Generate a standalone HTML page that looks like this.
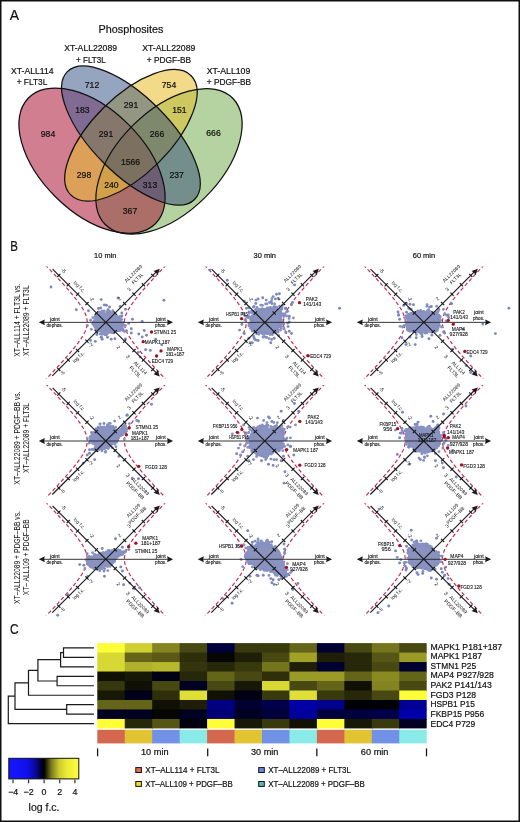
<!DOCTYPE html><html><head><meta charset="utf-8"><style>html,body{margin:0;padding:0;background:#fff;width:520px;height:822px;overflow:hidden}svg{display:block;will-change:transform}</style></head><body><svg width="520" height="822" viewBox="0 0 520 822" font-family='"Liberation Sans", sans-serif'>
<rect x="0" y="0" width="520" height="822" fill="#fff"/>
<defs>
<clipPath id="cA"><ellipse cx="92.02" cy="160.71" rx="89.35" ry="51.39" transform="rotate(44.62 92.02 160.71)"/></clipPath>
<clipPath id="cB"><ellipse cx="130.94" cy="135.54" rx="90.14" ry="38.62" transform="rotate(45.15 130.94 135.54)"/></clipPath>
<clipPath id="cC"><ellipse cx="130.93" cy="135.31" rx="84.73" ry="38.81" transform="rotate(-44.72 130.93 135.31)"/></clipPath>
<clipPath id="cD"><ellipse cx="169.01" cy="161.37" rx="89.75" ry="50.99" transform="rotate(-44.74 169.01 161.37)"/></clipPath>
</defs>
<ellipse cx="92.02" cy="160.71" rx="89.35" ry="51.39" transform="rotate(44.62 92.02 160.71)" fill="#d07e90"/>
<ellipse cx="130.94" cy="135.54" rx="90.14" ry="38.62" transform="rotate(45.15 130.94 135.54)" fill="#95a5c0"/>
<ellipse cx="130.93" cy="135.31" rx="84.73" ry="38.81" transform="rotate(-44.72 130.93 135.31)" fill="#f2da88"/>
<ellipse cx="169.01" cy="161.37" rx="89.75" ry="50.99" transform="rotate(-44.74 169.01 161.37)" fill="#b5d3a0"/>
<g clip-path="url(#cA)"><ellipse cx="130.94" cy="135.54" rx="90.14" ry="38.62" transform="rotate(45.15 130.94 135.54)" fill="#826b92"/></g>
<g clip-path="url(#cA)"><ellipse cx="130.93" cy="135.31" rx="84.73" ry="38.81" transform="rotate(-44.72 130.93 135.31)" fill="#dca058"/></g>
<g clip-path="url(#cA)"><ellipse cx="169.01" cy="161.37" rx="89.75" ry="50.99" transform="rotate(-44.74 169.01 161.37)" fill="#ac6e68"/></g>
<g clip-path="url(#cB)"><ellipse cx="130.93" cy="135.31" rx="84.73" ry="38.81" transform="rotate(-44.72 130.93 135.31)" fill="#949684"/></g>
<g clip-path="url(#cB)"><ellipse cx="169.01" cy="161.37" rx="89.75" ry="50.99" transform="rotate(-44.74 169.01 161.37)" fill="#748e8c"/></g>
<g clip-path="url(#cC)"><ellipse cx="169.01" cy="161.37" rx="89.75" ry="50.99" transform="rotate(-44.74 169.01 161.37)" fill="#cec860"/></g>
<g clip-path="url(#cA)"><g clip-path="url(#cB)"><ellipse cx="130.93" cy="135.31" rx="84.73" ry="38.81" transform="rotate(-44.72 130.93 135.31)" fill="#85776c"/></g></g>
<g clip-path="url(#cA)"><g clip-path="url(#cB)"><ellipse cx="169.01" cy="161.37" rx="89.75" ry="50.99" transform="rotate(-44.74 169.01 161.37)" fill="#6e5e74"/></g></g>
<g clip-path="url(#cA)"><g clip-path="url(#cC)"><ellipse cx="169.01" cy="161.37" rx="89.75" ry="50.99" transform="rotate(-44.74 169.01 161.37)" fill="#d2a048"/></g></g>
<g clip-path="url(#cB)"><g clip-path="url(#cC)"><ellipse cx="169.01" cy="161.37" rx="89.75" ry="50.99" transform="rotate(-44.74 169.01 161.37)" fill="#7e886c"/></g></g>
<g clip-path="url(#cA)"><g clip-path="url(#cB)"><g clip-path="url(#cC)"><ellipse cx="169.01" cy="161.37" rx="89.75" ry="50.99" transform="rotate(-44.74 169.01 161.37)" fill="#7c7060"/></g></g></g>
<ellipse cx="92.02" cy="160.71" rx="89.35" ry="51.39" transform="rotate(44.62 92.02 160.71)" fill="none" stroke="#111" stroke-width="1.25"/>
<ellipse cx="130.94" cy="135.54" rx="90.14" ry="38.62" transform="rotate(45.15 130.94 135.54)" fill="none" stroke="#111" stroke-width="1.25"/>
<ellipse cx="130.93" cy="135.31" rx="84.73" ry="38.81" transform="rotate(-44.72 130.93 135.31)" fill="none" stroke="#111" stroke-width="1.25"/>
<ellipse cx="169.01" cy="161.37" rx="89.75" ry="50.99" transform="rotate(-44.74 169.01 161.37)" fill="none" stroke="#111" stroke-width="1.25"/>
<text x="48.00" y="137.00" font-size="8.6" text-anchor="middle" fill="#111" stroke="#111" stroke-width="0.22">984</text>
<text x="92.00" y="88.00" font-size="8.6" text-anchor="middle" fill="#111" stroke="#111" stroke-width="0.22">712</text>
<text x="169.00" y="88.00" font-size="8.6" text-anchor="middle" fill="#111" stroke="#111" stroke-width="0.22">754</text>
<text x="213.50" y="136.40" font-size="8.6" text-anchor="middle" fill="#111" stroke="#111" stroke-width="0.22">666</text>
<text x="82.40" y="113.40" font-size="8.6" text-anchor="middle" fill="#111" stroke="#111" stroke-width="0.22">183</text>
<text x="131.00" y="108.40" font-size="8.6" text-anchor="middle" fill="#111" stroke="#111" stroke-width="0.22">291</text>
<text x="179.40" y="113.40" font-size="8.6" text-anchor="middle" fill="#111" stroke="#111" stroke-width="0.22">151</text>
<text x="106.00" y="137.00" font-size="8.6" text-anchor="middle" fill="#111" stroke="#111" stroke-width="0.22">291</text>
<text x="157.00" y="137.00" font-size="8.6" text-anchor="middle" fill="#111" stroke="#111" stroke-width="0.22">266</text>
<text x="130.50" y="165.00" font-size="8.6" text-anchor="middle" fill="#111" stroke="#111" stroke-width="0.22">1566</text>
<text x="84.00" y="177.70" font-size="8.6" text-anchor="middle" fill="#111" stroke="#111" stroke-width="0.22">298</text>
<text x="176.70" y="177.70" font-size="8.6" text-anchor="middle" fill="#111" stroke="#111" stroke-width="0.22">237</text>
<text x="111.30" y="187.50" font-size="8.6" text-anchor="middle" fill="#111" stroke="#111" stroke-width="0.22">240</text>
<text x="150.00" y="187.50" font-size="8.6" text-anchor="middle" fill="#111" stroke="#111" stroke-width="0.22">313</text>
<text x="130.00" y="214.00" font-size="8.6" text-anchor="middle" fill="#111" stroke="#111" stroke-width="0.22">367</text>
<text x="130.95" y="32.90" font-size="11.4" text-anchor="middle" textLength="64.9" lengthAdjust="spacingAndGlyphs" fill="#111" stroke="#111" stroke-width="0.2">Phosphosites</text>
<text x="90.60" y="51.40" font-size="9.0" text-anchor="middle" textLength="52.8" lengthAdjust="spacingAndGlyphs" fill="#111" stroke="#111" stroke-width="0.2">XT-ALL22089</text>
<text x="90.90" y="62.90" font-size="9.0" text-anchor="middle" textLength="29.8" lengthAdjust="spacingAndGlyphs" fill="#111" stroke="#111" stroke-width="0.2">+ FLT3L</text>
<text x="32.25" y="74.15" font-size="9.0" text-anchor="middle" textLength="42.6" lengthAdjust="spacingAndGlyphs" fill="#111" stroke="#111" stroke-width="0.2">XT-ALL114</text>
<text x="32.00" y="85.15" font-size="9.0" text-anchor="middle" textLength="30.6" lengthAdjust="spacingAndGlyphs" fill="#111" stroke="#111" stroke-width="0.2">+ FLT3L</text>
<text x="168.75" y="51.40" font-size="9.0" text-anchor="middle" textLength="53.1" lengthAdjust="spacingAndGlyphs" fill="#111" stroke="#111" stroke-width="0.2">XT-ALL22089</text>
<text x="168.90" y="62.90" font-size="9.0" text-anchor="middle" textLength="44.3" lengthAdjust="spacingAndGlyphs" fill="#111" stroke="#111" stroke-width="0.2">+ PDGF-BB</text>
<text x="228.50" y="74.15" font-size="9.0" text-anchor="middle" textLength="43.6" lengthAdjust="spacingAndGlyphs" fill="#111" stroke="#111" stroke-width="0.2">XT-ALL109</text>
<text x="228.90" y="85.15" font-size="9.0" text-anchor="middle" textLength="44.3" lengthAdjust="spacingAndGlyphs" fill="#111" stroke="#111" stroke-width="0.2">+ PDGF-BB</text>
<text x="105.30" y="257.80" font-size="7.9" text-anchor="middle" textLength="22.4" lengthAdjust="spacingAndGlyphs" fill="#111" stroke="#111" stroke-width="0.2">10 min</text>
<text x="264.80" y="257.80" font-size="7.9" text-anchor="middle" textLength="22.4" lengthAdjust="spacingAndGlyphs" fill="#111" stroke="#111" stroke-width="0.2">30 min</text>
<text x="423.95" y="257.80" font-size="7.9" text-anchor="middle" textLength="22.4" lengthAdjust="spacingAndGlyphs" fill="#111" stroke="#111" stroke-width="0.2">60 min</text>
<text x="0" y="0" font-size="8.3" text-anchor="middle" textLength="73.0" lengthAdjust="spacingAndGlyphs" fill="#111" transform="translate(19.7,320.3) rotate(-90)">XT–ALL114 + FLT3L vs.</text>
<text x="0" y="0" font-size="8.3" text-anchor="middle" textLength="70.8" lengthAdjust="spacingAndGlyphs" fill="#111" transform="translate(29.2,320.7) rotate(-90)">XT–ALL22089 + FLT3L</text>
<text x="0" y="0" font-size="8.3" text-anchor="middle" textLength="93.3" lengthAdjust="spacingAndGlyphs" fill="#111" transform="translate(19.7,438.0) rotate(-90)">XT–ALL22089 + PDGF–BB vs.</text>
<text x="0" y="0" font-size="8.3" text-anchor="middle" textLength="70.0" lengthAdjust="spacingAndGlyphs" fill="#111" transform="translate(29.2,437.9) rotate(-90)">XT–ALL22089 + FLT3L</text>
<text x="0" y="0" font-size="8.3" text-anchor="middle" textLength="92.8" lengthAdjust="spacingAndGlyphs" fill="#111" transform="translate(19.7,557.5) rotate(-90)">XT–ALL22089 + PDGF–BB vs.</text>
<text x="0" y="0" font-size="8.3" text-anchor="middle" textLength="75.8" lengthAdjust="spacingAndGlyphs" fill="#111" transform="translate(29.2,557.3) rotate(-90)">XT– ALL109 + PDGF–BB</text>
<clipPath id="pc1"><rect x="39.8" y="266.4" width="134" height="112"/></clipPath>
<g clip-path="url(#pc1)"><path d="M45.27,264.80L46.13,265.70L46.98,266.60L47.83,267.50L48.69,268.40L49.54,269.30L50.39,270.20L51.23,271.10L52.08,272.00L52.92,272.90L53.76,273.80L54.60,274.70L55.44,275.60L56.27,276.50L57.11,277.40L57.94,278.30L58.77,279.20L59.59,280.10L60.41,281.00L61.23,281.90L62.05,282.80L62.86,283.70L63.67,284.60L64.48,285.50L65.28,286.40L66.08,287.30L66.87,288.20L67.66,289.10L68.44,290.00L69.22,290.90L69.99,291.80L70.76,292.70L71.52,293.60L72.27,294.50L73.01,295.40L73.75,296.30L74.48,297.20L75.20,298.10L75.91,299.00L76.61,299.90L77.30,300.80L77.97,301.70L78.63,302.60L79.28,303.50L79.92,304.40L80.53,305.30L81.13,306.20L81.72,307.10L82.28,308.00L82.82,308.90L83.33,309.80L83.83,310.70L84.29,311.60L84.73,312.50L85.14,313.40L85.51,314.30L85.86,315.20L86.16,316.10L86.43,317.00L86.66,317.90L86.85,318.80L87.01,319.70L87.11,320.60L87.18,321.50L87.20,322.40L87.18,323.30L87.11,324.20L87.01,325.10L86.85,326.00L86.66,326.90L86.43,327.80L86.16,328.70L85.86,329.60L85.51,330.50L85.14,331.40L84.73,332.30L84.29,333.20L83.83,334.10L83.33,335.00L82.82,335.90L82.28,336.80L81.72,337.70L81.13,338.60L80.53,339.50L79.92,340.40L79.28,341.30L78.63,342.20L77.97,343.10L77.30,344.00L76.61,344.90L75.91,345.80L75.20,346.70L74.48,347.60L73.75,348.50L73.01,349.40L72.27,350.30L71.52,351.20L70.76,352.10L69.99,353.00L69.22,353.90L68.44,354.80L67.66,355.70L66.87,356.60L66.08,357.50L65.28,358.40L64.48,359.30L63.67,360.20L62.86,361.10L62.05,362.00L61.23,362.90L60.41,363.80L59.59,364.70L58.77,365.60L57.94,366.50L57.11,367.40L56.27,368.30L55.44,369.20L54.60,370.10L53.76,371.00L52.92,371.90L52.08,372.80L51.23,373.70L50.39,374.60L49.54,375.50L48.69,376.40L47.83,377.30L46.98,378.20L46.13,379.10L45.27,380.00" fill="none" stroke="#c62c55" stroke-width="1.2" stroke-dasharray="3.8 2.4"/><path d="M166.33,264.80L165.47,265.70L164.62,266.60L163.77,267.50L162.91,268.40L162.06,269.30L161.21,270.20L160.37,271.10L159.52,272.00L158.68,272.90L157.84,273.80L157.00,274.70L156.16,275.60L155.33,276.50L154.49,277.40L153.66,278.30L152.83,279.20L152.01,280.10L151.19,281.00L150.37,281.90L149.55,282.80L148.74,283.70L147.93,284.60L147.12,285.50L146.32,286.40L145.52,287.30L144.73,288.20L143.94,289.10L143.16,290.00L142.38,290.90L141.61,291.80L140.84,292.70L140.08,293.60L139.33,294.50L138.59,295.40L137.85,296.30L137.12,297.20L136.40,298.10L135.69,299.00L134.99,299.90L134.30,300.80L133.63,301.70L132.97,302.60L132.32,303.50L131.68,304.40L131.07,305.30L130.47,306.20L129.88,307.10L129.32,308.00L128.78,308.90L128.27,309.80L127.77,310.70L127.31,311.60L126.87,312.50L126.46,313.40L126.09,314.30L125.74,315.20L125.44,316.10L125.17,317.00L124.94,317.90L124.75,318.80L124.59,319.70L124.49,320.60L124.42,321.50L124.40,322.40L124.42,323.30L124.49,324.20L124.59,325.10L124.75,326.00L124.94,326.90L125.17,327.80L125.44,328.70L125.74,329.60L126.09,330.50L126.46,331.40L126.87,332.30L127.31,333.20L127.77,334.10L128.27,335.00L128.78,335.90L129.32,336.80L129.88,337.70L130.47,338.60L131.07,339.50L131.68,340.40L132.32,341.30L132.97,342.20L133.63,343.10L134.30,344.00L134.99,344.90L135.69,345.80L136.40,346.70L137.12,347.60L137.85,348.50L138.59,349.40L139.33,350.30L140.08,351.20L140.84,352.10L141.61,353.00L142.38,353.90L143.16,354.80L143.94,355.70L144.73,356.60L145.52,357.50L146.32,358.40L147.12,359.30L147.93,360.20L148.74,361.10L149.55,362.00L150.37,362.90L151.19,363.80L152.01,364.70L152.83,365.60L153.66,366.50L154.49,367.40L155.33,368.30L156.16,369.20L157.00,370.10L157.84,371.00L158.68,371.90L159.52,372.80L160.37,373.70L161.21,374.60L162.06,375.50L162.91,376.40L163.77,377.30L164.62,378.20L165.47,379.10L166.33,380.00" fill="none" stroke="#c62c55" stroke-width="1.2" stroke-dasharray="3.8 2.4"/></g>
<path d="M94.5,320.0L95.0,317.2L96.9,313.8L99.2,311.3L102.7,312.0L104.7,313.5L107.5,313.1L110.4,312.1L113.2,312.9L115.6,314.8L117.0,316.7L119.0,318.1L121.0,320.0L122.1,322.5L122.6,326.3L121.6,329.3L120.1,331.2L117.1,331.5L114.1,332.4L110.3,332.8L107.5,333.8L104.6,335.4L102.7,333.9L100.9,332.0L97.9,331.1L95.9,329.2L95.0,327.3L93.5,324.4L92.9,322.0Z" fill="#8a93c0" stroke="#8a93c0" stroke-width="1.2" stroke-linejoin="round"/>
<g fill="#8a93c0"><circle cx="94.6" cy="319.9" r="1.3"/><circle cx="95.1" cy="316.6" r="1.3"/><circle cx="96.5" cy="316.0" r="1.3"/><circle cx="97.1" cy="313.2" r="1.3"/><circle cx="98.1" cy="312.2" r="1.3"/><circle cx="98.8" cy="312.1" r="1.3"/><circle cx="101.9" cy="310.8" r="1.3"/><circle cx="103.4" cy="312.2" r="1.3"/><circle cx="104.4" cy="313.2" r="1.3"/><circle cx="107.8" cy="313.0" r="1.3"/><circle cx="110.7" cy="312.3" r="1.3"/><circle cx="112.5" cy="313.4" r="1.3"/><circle cx="116.5" cy="315.7" r="1.3"/><circle cx="117.2" cy="315.9" r="1.3"/><circle cx="118.1" cy="317.5" r="1.3"/><circle cx="121.8" cy="319.6" r="1.3"/><circle cx="121.9" cy="323.2" r="1.3"/><circle cx="122.0" cy="324.5" r="1.3"/><circle cx="122.5" cy="325.5" r="1.3"/><circle cx="121.8" cy="329.9" r="1.3"/><circle cx="119.5" cy="330.7" r="1.3"/><circle cx="117.0" cy="330.7" r="1.3"/><circle cx="114.1" cy="333.0" r="1.3"/><circle cx="112.5" cy="332.7" r="1.3"/><circle cx="111.0" cy="332.1" r="1.3"/><circle cx="107.6" cy="333.6" r="1.3"/><circle cx="106.2" cy="333.9" r="1.3"/><circle cx="105.1" cy="334.7" r="1.3"/><circle cx="102.1" cy="334.5" r="1.3"/><circle cx="101.7" cy="331.8" r="1.3"/><circle cx="97.7" cy="330.6" r="1.3"/><circle cx="95.5" cy="329.4" r="1.3"/><circle cx="94.5" cy="326.6" r="1.3"/><circle cx="94.2" cy="325.2" r="1.3"/><circle cx="93.8" cy="325.0" r="1.3"/><circle cx="93.4" cy="322.0" r="1.3"/></g>
<g fill="#8690c0"><circle cx="119.4" cy="317.9" r="1.42"/><circle cx="93.9" cy="321.6" r="1.42"/><circle cx="123.2" cy="322.7" r="1.42"/><circle cx="114.1" cy="313.2" r="1.42"/><circle cx="121.3" cy="328.5" r="1.42"/><circle cx="121.0" cy="322.2" r="1.42"/><circle cx="125.3" cy="325.3" r="1.42"/><circle cx="118.6" cy="319.5" r="1.42"/><circle cx="124.5" cy="331.6" r="1.42"/><circle cx="121.8" cy="316.1" r="1.42"/><circle cx="106.4" cy="334.8" r="1.42"/><circle cx="95.6" cy="314.9" r="1.42"/><circle cx="120.6" cy="329.8" r="1.42"/><circle cx="112.8" cy="310.7" r="1.42"/><circle cx="97.1" cy="328.3" r="1.42"/><circle cx="123.0" cy="329.3" r="1.42"/><circle cx="120.0" cy="319.1" r="1.42"/><circle cx="101.4" cy="337.3" r="1.42"/><circle cx="100.2" cy="334.0" r="1.42"/><circle cx="108.5" cy="313.1" r="1.42"/><circle cx="108.5" cy="313.1" r="1.42"/><circle cx="106.9" cy="311.9" r="1.42"/><circle cx="113.5" cy="314.0" r="1.42"/><circle cx="122.4" cy="328.1" r="1.42"/><circle cx="121.5" cy="329.0" r="1.42"/><circle cx="93.2" cy="323.7" r="1.42"/><circle cx="91.3" cy="329.3" r="1.42"/><circle cx="122.5" cy="325.8" r="1.42"/><circle cx="92.9" cy="317.7" r="1.42"/><circle cx="118.5" cy="318.0" r="1.42"/><circle cx="96.0" cy="326.5" r="1.42"/><circle cx="122.8" cy="324.2" r="1.42"/><circle cx="92.7" cy="323.7" r="1.42"/><circle cx="109.8" cy="311.3" r="1.42"/><circle cx="119.9" cy="316.5" r="1.42"/><circle cx="121.1" cy="319.0" r="1.42"/><circle cx="104.2" cy="310.9" r="1.42"/><circle cx="97.5" cy="331.3" r="1.42"/><circle cx="111.4" cy="332.0" r="1.42"/><circle cx="123.0" cy="330.5" r="1.42"/></g>
<g fill="#7c87bd"><circle cx="51.0" cy="287.0" r="1.45"/><circle cx="76.3" cy="309.7" r="1.45"/><circle cx="101.2" cy="299.6" r="1.45"/><circle cx="104.3" cy="304.9" r="1.45"/><circle cx="106.4" cy="305.3" r="1.45"/><circle cx="109.6" cy="307.0" r="1.45"/><circle cx="108.0" cy="309.7" r="1.45"/><circle cx="88.5" cy="310.7" r="1.45"/><circle cx="90.6" cy="320.3" r="1.45"/><circle cx="87.4" cy="325.6" r="1.45"/><circle cx="120.2" cy="306.5" r="1.45"/><circle cx="125.5" cy="309.2" r="1.45"/><circle cx="121.8" cy="312.9" r="1.45"/><circle cx="121.8" cy="316.0" r="1.45"/><circle cx="132.4" cy="319.2" r="1.45"/><circle cx="128.7" cy="323.4" r="1.45"/><circle cx="131.3" cy="328.7" r="1.45"/><circle cx="131.3" cy="333.0" r="1.45"/><circle cx="126.5" cy="330.8" r="1.45"/><circle cx="96.9" cy="334.5" r="1.45"/><circle cx="101.2" cy="337.2" r="1.45"/><circle cx="102.2" cy="339.3" r="1.45"/><circle cx="95.3" cy="341.4" r="1.45"/><circle cx="90.6" cy="340.4" r="1.45"/><circle cx="111.2" cy="339.3" r="1.45"/><circle cx="114.9" cy="338.8" r="1.45"/><circle cx="107.5" cy="337.2" r="1.45"/><circle cx="163.9" cy="300.2" r="1.45"/><circle cx="118.0" cy="298.0" r="1.45"/><circle cx="142.2" cy="321.4" r="1.45"/><circle cx="144.2" cy="330.5" r="1.45"/><circle cx="138.8" cy="334.0" r="1.45"/><circle cx="142.2" cy="336.9" r="1.45"/><circle cx="146.5" cy="335.2" r="1.45"/><circle cx="155.7" cy="339.3" r="1.45"/><circle cx="161.7" cy="344.7" r="1.45"/><circle cx="145.6" cy="349.7" r="1.45"/><circle cx="150.3" cy="350.4" r="1.45"/><circle cx="138.2" cy="352.4" r="1.45"/><circle cx="140.2" cy="357.1" r="1.45"/><circle cx="125.4" cy="338.9" r="1.45"/><circle cx="98.5" cy="308.5" r="1.45"/><circle cx="100.5" cy="308.0" r="1.45"/></g>
<g stroke="#1a1a1a" stroke-width="1.15" fill="none">
<line x1="43.8" y1="322.35" x2="168.3" y2="322.35" stroke-width="0.95" stroke="#2a2a2a"/>
<line x1="52.3" y1="375.9" x2="156.3" y2="271.9"/>
<line x1="52.599999999999994" y1="269.2" x2="156.3" y2="372.9"/>
<path d="M113.61,311.41L116.79,314.59M94.81,330.21L97.99,333.39M113.61,333.39L116.79,330.21M94.81,314.59L97.99,311.41M123.01,302.01L126.19,305.19M85.41,339.61L88.59,342.79M123.01,342.79L126.19,339.61M85.41,305.19L88.59,302.01M132.41,292.61L135.59,295.79M76.01,349.01L79.19,352.19M132.41,352.19L135.59,349.01M76.01,295.79L79.19,292.61M141.81,283.21L144.99,286.39M66.61,358.41L69.79,361.59M141.81,361.59L144.99,358.41M66.61,286.39L69.79,283.21M151.21,273.81L154.39,276.99M57.21,367.81L60.39,370.99M151.21,370.99L154.39,367.81M57.21,276.99L60.39,273.81"/>
</g>
<path d="M38.80,322.35L44.80,319.40L44.20,322.35L44.80,325.30Z" fill="#1a1a1a"/>
<path d="M173.10,322.35L167.10,325.30L167.70,322.35L167.10,319.40Z" fill="#1a1a1a"/>
<path d="M159.80,268.80L157.64,275.13L155.98,272.62L153.47,270.96Z" fill="#1a1a1a"/>
<path d="M159.80,376.40L153.47,374.24L155.98,372.58L157.64,370.07Z" fill="#1a1a1a"/>
<text x="54.80" y="320.70" font-size="5.0" text-anchor="middle" textLength="9.6" lengthAdjust="spacingAndGlyphs" fill="#151515" stroke="#151515" stroke-width="0.12">joint</text>
<text x="54.70" y="326.90" font-size="5.0" text-anchor="middle" textLength="16.4" lengthAdjust="spacingAndGlyphs" fill="#151515" stroke="#151515" stroke-width="0.12">dephos.</text>
<text x="160.80" y="320.70" font-size="5.0" text-anchor="middle" textLength="9.6" lengthAdjust="spacingAndGlyphs" fill="#151515" stroke="#151515" stroke-width="0.12">joint</text>
<text x="160.80" y="326.90" font-size="5.0" text-anchor="middle" textLength="11.4" lengthAdjust="spacingAndGlyphs" fill="#151515" stroke="#151515" stroke-width="0.12">phos.</text>
<text x="0" y="0" font-size="5.0" text-anchor="middle" fill="#151515" transform="translate(90.51,300.10) rotate(45)">-2</text>
<text x="0" y="0" font-size="5.0" text-anchor="middle" textLength="14.0" lengthAdjust="spacingAndGlyphs" fill="#151515" transform="translate(78.29,287.89) rotate(45)">log f.c.</text>
<text x="0" y="0" font-size="5.0" text-anchor="middle" fill="#151515" transform="translate(62.31,271.91) rotate(45)">-5</text>
<text x="0" y="0" font-size="5.0" text-anchor="middle" fill="#151515" transform="translate(91.92,346.11) rotate(-45)">-2</text>
<text x="0" y="0" font-size="5.0" text-anchor="middle" textLength="14.0" lengthAdjust="spacingAndGlyphs" fill="#151515" transform="translate(79.70,358.33) rotate(-45)">log f.c.</text>
<text x="0" y="0" font-size="5.0" text-anchor="middle" fill="#151515" transform="translate(63.73,374.30) rotate(-45)">-5</text>
<text x="0" y="0" font-size="5.0" text-anchor="middle" fill="#151515" transform="translate(120.81,299.82) rotate(-45)">2</text>
<text x="0" y="0" font-size="5.0" text-anchor="middle" fill="#151515" transform="translate(130.21,290.42) rotate(-45)">3</text>
<text x="0" y="0" font-size="5.0" text-anchor="middle" fill="#151515" transform="translate(117.35,348.44) rotate(45)">2</text>
<text x="0" y="0" font-size="5.0" text-anchor="middle" fill="#151515" transform="translate(126.74,357.84) rotate(45)">3</text>
<text x="0" y="0" font-size="5.0" text-anchor="middle" fill="#151515" transform="translate(134.54,274.78) rotate(-45)">ALL22089</text>
<text x="0" y="0" font-size="5.0" text-anchor="middle" fill="#151515" transform="translate(138.65,279.73) rotate(-45)">FLT3L</text>
<text x="0" y="0" font-size="5.0" text-anchor="middle" fill="#151515" transform="translate(139.14,369.10) rotate(45)">ALL114</text>
<text x="0" y="0" font-size="5.0" text-anchor="middle" fill="#151515" transform="translate(134.05,373.06) rotate(45)">FLT3L</text>
<circle cx="151.5" cy="332.0" r="1.65" fill="#a01020"/>
<circle cx="143.2" cy="341.7" r="1.65" fill="#a01020"/>
<circle cx="161.0" cy="350.9" r="1.65" fill="#a01020"/>
<circle cx="156.6" cy="356.0" r="1.65" fill="#a01020"/>
<text x="153.75" y="333.80" font-size="5.2" textLength="22.3" lengthAdjust="spacingAndGlyphs" fill="#151515" stroke="#151515" stroke-width="0.12">STMN1 25</text>
<text x="144.85" y="343.50" font-size="5.2" textLength="25.1" lengthAdjust="spacingAndGlyphs" fill="#151515" stroke="#151515" stroke-width="0.12">MAPK1 187</text>
<text x="167.25" y="350.90" font-size="5.2" textLength="15.3" lengthAdjust="spacingAndGlyphs" fill="#151515" stroke="#151515" stroke-width="0.12">MAPK1</text>
<text x="165.75" y="356.30" font-size="5.2" textLength="18.6" lengthAdjust="spacingAndGlyphs" fill="#151515" stroke="#151515" stroke-width="0.12">181+187</text>
<text x="151.75" y="362.70" font-size="5.2" textLength="21.3" lengthAdjust="spacingAndGlyphs" fill="#151515" stroke="#151515" stroke-width="0.12">EDC4 729</text>
<clipPath id="pc2"><rect x="198.8" y="266.4" width="134" height="112"/></clipPath>
<g clip-path="url(#pc2)"><path d="M204.27,264.80L205.13,265.70L205.98,266.60L206.83,267.50L207.69,268.40L208.54,269.30L209.39,270.20L210.23,271.10L211.08,272.00L211.92,272.90L212.76,273.80L213.60,274.70L214.44,275.60L215.27,276.50L216.11,277.40L216.94,278.30L217.77,279.20L218.59,280.10L219.41,281.00L220.23,281.90L221.05,282.80L221.86,283.70L222.67,284.60L223.48,285.50L224.28,286.40L225.08,287.30L225.87,288.20L226.66,289.10L227.44,290.00L228.22,290.90L228.99,291.80L229.76,292.70L230.52,293.60L231.27,294.50L232.01,295.40L232.75,296.30L233.48,297.20L234.20,298.10L234.91,299.00L235.61,299.90L236.30,300.80L236.97,301.70L237.63,302.60L238.28,303.50L238.92,304.40L239.53,305.30L240.13,306.20L240.72,307.10L241.28,308.00L241.82,308.90L242.33,309.80L242.83,310.70L243.29,311.60L243.73,312.50L244.14,313.40L244.51,314.30L244.86,315.20L245.16,316.10L245.43,317.00L245.66,317.90L245.85,318.80L246.01,319.70L246.11,320.60L246.18,321.50L246.20,322.40L246.18,323.30L246.11,324.20L246.01,325.10L245.85,326.00L245.66,326.90L245.43,327.80L245.16,328.70L244.86,329.60L244.51,330.50L244.14,331.40L243.73,332.30L243.29,333.20L242.83,334.10L242.33,335.00L241.82,335.90L241.28,336.80L240.72,337.70L240.13,338.60L239.53,339.50L238.92,340.40L238.28,341.30L237.63,342.20L236.97,343.10L236.30,344.00L235.61,344.90L234.91,345.80L234.20,346.70L233.48,347.60L232.75,348.50L232.01,349.40L231.27,350.30L230.52,351.20L229.76,352.10L228.99,353.00L228.22,353.90L227.44,354.80L226.66,355.70L225.87,356.60L225.08,357.50L224.28,358.40L223.48,359.30L222.67,360.20L221.86,361.10L221.05,362.00L220.23,362.90L219.41,363.80L218.59,364.70L217.77,365.60L216.94,366.50L216.11,367.40L215.27,368.30L214.44,369.20L213.60,370.10L212.76,371.00L211.92,371.90L211.08,372.80L210.23,373.70L209.39,374.60L208.54,375.50L207.69,376.40L206.83,377.30L205.98,378.20L205.13,379.10L204.27,380.00" fill="none" stroke="#c62c55" stroke-width="1.2" stroke-dasharray="3.8 2.4"/><path d="M325.33,264.80L324.47,265.70L323.62,266.60L322.77,267.50L321.91,268.40L321.06,269.30L320.21,270.20L319.37,271.10L318.52,272.00L317.68,272.90L316.84,273.80L316.00,274.70L315.16,275.60L314.33,276.50L313.49,277.40L312.66,278.30L311.83,279.20L311.01,280.10L310.19,281.00L309.37,281.90L308.55,282.80L307.74,283.70L306.93,284.60L306.12,285.50L305.32,286.40L304.52,287.30L303.73,288.20L302.94,289.10L302.16,290.00L301.38,290.90L300.61,291.80L299.84,292.70L299.08,293.60L298.33,294.50L297.59,295.40L296.85,296.30L296.12,297.20L295.40,298.10L294.69,299.00L293.99,299.90L293.30,300.80L292.63,301.70L291.97,302.60L291.32,303.50L290.68,304.40L290.07,305.30L289.47,306.20L288.88,307.10L288.32,308.00L287.78,308.90L287.27,309.80L286.77,310.70L286.31,311.60L285.87,312.50L285.46,313.40L285.09,314.30L284.74,315.20L284.44,316.10L284.17,317.00L283.94,317.90L283.75,318.80L283.59,319.70L283.49,320.60L283.42,321.50L283.40,322.40L283.42,323.30L283.49,324.20L283.59,325.10L283.75,326.00L283.94,326.90L284.17,327.80L284.44,328.70L284.74,329.60L285.09,330.50L285.46,331.40L285.87,332.30L286.31,333.20L286.77,334.10L287.27,335.00L287.78,335.90L288.32,336.80L288.88,337.70L289.47,338.60L290.07,339.50L290.68,340.40L291.32,341.30L291.97,342.20L292.63,343.10L293.30,344.00L293.99,344.90L294.69,345.80L295.40,346.70L296.12,347.60L296.85,348.50L297.59,349.40L298.33,350.30L299.08,351.20L299.84,352.10L300.61,353.00L301.38,353.90L302.16,354.80L302.94,355.70L303.73,356.60L304.52,357.50L305.32,358.40L306.12,359.30L306.93,360.20L307.74,361.10L308.55,362.00L309.37,362.90L310.19,363.80L311.01,364.70L311.83,365.60L312.66,366.50L313.49,367.40L314.33,368.30L315.16,369.20L316.00,370.10L316.84,371.00L317.68,371.90L318.52,372.80L319.37,373.70L320.21,374.60L321.06,375.50L321.91,376.40L322.77,377.30L323.62,378.20L324.47,379.10L325.33,380.00" fill="none" stroke="#c62c55" stroke-width="1.2" stroke-dasharray="3.8 2.4"/></g>
<path d="M253.2,316.3L255.0,312.6L259.8,310.9L262.5,308.8L267.1,308.5L271.8,308.8L275.5,310.8L278.3,313.4L280.3,316.2L280.6,320.0L280.2,323.7L279.2,327.4L276.3,330.2L272.7,332.0L268.1,333.3L264.3,333.8L259.8,332.9L256.0,331.1L253.1,328.4L251.3,324.7L251.3,320.8Z" fill="#8a93c0" stroke="#8a93c0" stroke-width="1.2" stroke-linejoin="round"/>
<g fill="#8a93c0"><circle cx="253.3" cy="316.8" r="1.3"/><circle cx="255.0" cy="314.0" r="1.3"/><circle cx="255.5" cy="312.9" r="1.3"/><circle cx="256.9" cy="311.3" r="1.3"/><circle cx="257.4" cy="311.2" r="1.3"/><circle cx="260.3" cy="310.4" r="1.3"/><circle cx="261.2" cy="309.5" r="1.3"/><circle cx="263.1" cy="309.6" r="1.3"/><circle cx="264.6" cy="309.6" r="1.3"/><circle cx="266.3" cy="309.1" r="1.3"/><circle cx="270.1" cy="308.0" r="1.3"/><circle cx="272.2" cy="308.9" r="1.3"/><circle cx="274.5" cy="309.3" r="1.3"/><circle cx="275.6" cy="311.5" r="1.3"/><circle cx="277.2" cy="311.8" r="1.3"/><circle cx="277.6" cy="314.2" r="1.3"/><circle cx="279.2" cy="315.7" r="1.3"/><circle cx="279.6" cy="316.8" r="1.3"/><circle cx="281.0" cy="318.9" r="1.3"/><circle cx="279.7" cy="319.8" r="1.3"/><circle cx="279.6" cy="322.3" r="1.3"/><circle cx="280.0" cy="324.5" r="1.3"/><circle cx="279.5" cy="326.0" r="1.3"/><circle cx="279.9" cy="327.0" r="1.3"/><circle cx="277.9" cy="329.6" r="1.3"/><circle cx="276.4" cy="330.0" r="1.3"/><circle cx="274.1" cy="331.6" r="1.3"/><circle cx="272.1" cy="332.2" r="1.3"/><circle cx="270.5" cy="332.7" r="1.3"/><circle cx="267.5" cy="333.6" r="1.3"/><circle cx="267.0" cy="333.2" r="1.3"/><circle cx="264.0" cy="334.6" r="1.3"/><circle cx="262.2" cy="332.9" r="1.3"/><circle cx="258.9" cy="333.3" r="1.3"/><circle cx="257.6" cy="331.9" r="1.3"/><circle cx="255.6" cy="331.3" r="1.3"/><circle cx="255.0" cy="329.4" r="1.3"/><circle cx="252.4" cy="329.3" r="1.3"/><circle cx="252.9" cy="325.7" r="1.3"/><circle cx="251.4" cy="325.0" r="1.3"/><circle cx="251.1" cy="323.2" r="1.3"/><circle cx="252.1" cy="321.0" r="1.3"/><circle cx="251.7" cy="318.8" r="1.3"/><circle cx="252.1" cy="317.1" r="1.3"/></g>
<g fill="#8690c0"><circle cx="267.6" cy="308.8" r="1.42"/><circle cx="279.7" cy="325.6" r="1.42"/><circle cx="282.7" cy="322.6" r="1.42"/><circle cx="255.9" cy="300.1" r="1.42"/><circle cx="253.0" cy="327.9" r="1.42"/><circle cx="273.1" cy="331.9" r="1.42"/><circle cx="260.7" cy="305.1" r="1.42"/><circle cx="280.9" cy="312.3" r="1.42"/><circle cx="254.0" cy="337.4" r="1.42"/><circle cx="254.4" cy="331.7" r="1.42"/><circle cx="277.0" cy="311.2" r="1.42"/><circle cx="256.3" cy="340.2" r="1.42"/><circle cx="274.1" cy="308.8" r="1.42"/><circle cx="261.5" cy="332.7" r="1.42"/><circle cx="266.0" cy="333.2" r="1.42"/><circle cx="252.9" cy="315.9" r="1.42"/><circle cx="266.9" cy="303.8" r="1.42"/><circle cx="279.2" cy="315.4" r="1.42"/><circle cx="259.9" cy="311.3" r="1.42"/><circle cx="280.3" cy="330.2" r="1.42"/><circle cx="274.8" cy="332.3" r="1.42"/><circle cx="254.0" cy="306.5" r="1.42"/><circle cx="269.7" cy="308.1" r="1.42"/><circle cx="263.6" cy="309.7" r="1.42"/><circle cx="263.6" cy="334.0" r="1.42"/><circle cx="270.5" cy="310.0" r="1.42"/><circle cx="253.6" cy="336.1" r="1.42"/><circle cx="252.4" cy="327.3" r="1.42"/><circle cx="273.2" cy="331.4" r="1.42"/><circle cx="280.1" cy="314.9" r="1.42"/><circle cx="268.0" cy="307.9" r="1.42"/><circle cx="253.1" cy="312.8" r="1.42"/><circle cx="259.3" cy="331.2" r="1.42"/><circle cx="279.7" cy="326.9" r="1.42"/><circle cx="286.6" cy="316.0" r="1.42"/><circle cx="271.5" cy="301.1" r="1.42"/><circle cx="248.2" cy="315.6" r="1.42"/><circle cx="277.1" cy="329.6" r="1.42"/><circle cx="274.8" cy="333.1" r="1.42"/><circle cx="251.8" cy="326.2" r="1.42"/><circle cx="251.7" cy="324.6" r="1.42"/><circle cx="271.4" cy="333.0" r="1.42"/><circle cx="277.6" cy="309.6" r="1.42"/><circle cx="276.8" cy="310.9" r="1.42"/><circle cx="264.6" cy="333.1" r="1.42"/><circle cx="276.1" cy="331.9" r="1.42"/><circle cx="279.0" cy="313.3" r="1.42"/><circle cx="254.3" cy="314.1" r="1.42"/><circle cx="273.0" cy="308.9" r="1.42"/><circle cx="267.2" cy="308.1" r="1.42"/><circle cx="282.8" cy="323.8" r="1.42"/><circle cx="258.3" cy="333.0" r="1.42"/><circle cx="252.6" cy="330.8" r="1.42"/><circle cx="287.8" cy="323.3" r="1.42"/><circle cx="262.4" cy="308.8" r="1.42"/><circle cx="262.8" cy="334.1" r="1.42"/><circle cx="277.3" cy="328.9" r="1.42"/><circle cx="258.7" cy="310.6" r="1.42"/><circle cx="270.5" cy="307.4" r="1.42"/><circle cx="282.8" cy="314.9" r="1.42"/><circle cx="280.7" cy="312.7" r="1.42"/><circle cx="253.6" cy="313.5" r="1.42"/><circle cx="280.0" cy="326.4" r="1.42"/><circle cx="263.0" cy="337.1" r="1.42"/><circle cx="252.8" cy="325.6" r="1.42"/><circle cx="257.0" cy="307.4" r="1.42"/><circle cx="283.8" cy="323.8" r="1.42"/><circle cx="257.4" cy="311.5" r="1.42"/><circle cx="251.2" cy="327.4" r="1.42"/><circle cx="284.9" cy="314.0" r="1.42"/><circle cx="281.6" cy="309.2" r="1.42"/><circle cx="266.7" cy="337.5" r="1.42"/><circle cx="264.4" cy="309.3" r="1.42"/><circle cx="276.5" cy="330.3" r="1.42"/><circle cx="252.2" cy="316.0" r="1.42"/><circle cx="281.3" cy="328.4" r="1.42"/><circle cx="251.1" cy="325.8" r="1.42"/><circle cx="263.7" cy="332.6" r="1.42"/><circle cx="258.8" cy="334.3" r="1.42"/><circle cx="274.3" cy="306.8" r="1.42"/><circle cx="276.3" cy="311.6" r="1.42"/><circle cx="271.9" cy="298.7" r="1.42"/><circle cx="265.8" cy="332.9" r="1.42"/><circle cx="262.5" cy="305.4" r="1.42"/><circle cx="258.4" cy="333.6" r="1.42"/><circle cx="258.9" cy="332.6" r="1.42"/><circle cx="276.3" cy="310.7" r="1.42"/><circle cx="249.1" cy="326.0" r="1.42"/><circle cx="251.3" cy="318.5" r="1.42"/><circle cx="255.0" cy="313.4" r="1.42"/><circle cx="273.4" cy="331.8" r="1.42"/><circle cx="279.5" cy="306.1" r="1.42"/><circle cx="287.7" cy="311.3" r="1.42"/><circle cx="272.3" cy="334.7" r="1.42"/><circle cx="279.9" cy="322.3" r="1.42"/><circle cx="258.1" cy="330.4" r="1.42"/><circle cx="280.0" cy="322.8" r="1.42"/><circle cx="261.7" cy="308.8" r="1.42"/><circle cx="284.1" cy="329.0" r="1.42"/><circle cx="280.5" cy="310.2" r="1.42"/><circle cx="253.6" cy="327.7" r="1.42"/><circle cx="252.1" cy="326.9" r="1.42"/><circle cx="268.2" cy="333.4" r="1.42"/><circle cx="263.4" cy="333.7" r="1.42"/><circle cx="273.8" cy="307.5" r="1.42"/><circle cx="258.2" cy="312.3" r="1.42"/><circle cx="283.8" cy="316.6" r="1.42"/><circle cx="251.6" cy="312.5" r="1.42"/><circle cx="277.9" cy="332.2" r="1.42"/><circle cx="251.9" cy="321.8" r="1.42"/><circle cx="255.3" cy="329.1" r="1.42"/><circle cx="251.7" cy="311.1" r="1.42"/><circle cx="269.2" cy="338.6" r="1.42"/><circle cx="251.4" cy="324.1" r="1.42"/><circle cx="252.4" cy="329.1" r="1.42"/><circle cx="250.5" cy="328.4" r="1.42"/><circle cx="252.1" cy="330.9" r="1.42"/><circle cx="275.4" cy="307.0" r="1.42"/><circle cx="272.7" cy="308.8" r="1.42"/><circle cx="280.5" cy="322.7" r="1.42"/><circle cx="265.1" cy="337.0" r="1.42"/><circle cx="281.6" cy="326.3" r="1.42"/><circle cx="279.9" cy="309.2" r="1.42"/><circle cx="251.8" cy="322.1" r="1.42"/><circle cx="249.1" cy="325.2" r="1.42"/><circle cx="282.4" cy="305.5" r="1.42"/><circle cx="270.7" cy="308.7" r="1.42"/><circle cx="281.1" cy="323.3" r="1.42"/><circle cx="252.3" cy="327.8" r="1.42"/><circle cx="293.4" cy="318.0" r="1.42"/><circle cx="249.0" cy="323.9" r="1.42"/><circle cx="279.8" cy="309.6" r="1.42"/><circle cx="281.1" cy="322.0" r="1.42"/><circle cx="273.8" cy="307.0" r="1.42"/><circle cx="281.1" cy="313.9" r="1.42"/><circle cx="285.4" cy="308.7" r="1.42"/><circle cx="256.6" cy="333.8" r="1.42"/><circle cx="271.0" cy="309.9" r="1.42"/><circle cx="277.8" cy="329.6" r="1.42"/><circle cx="281.0" cy="316.7" r="1.42"/><circle cx="280.4" cy="323.8" r="1.42"/><circle cx="271.7" cy="339.5" r="1.42"/><circle cx="270.2" cy="334.6" r="1.42"/><circle cx="279.9" cy="320.2" r="1.42"/><circle cx="248.8" cy="308.0" r="1.42"/><circle cx="258.7" cy="309.2" r="1.42"/><circle cx="250.3" cy="322.9" r="1.42"/><circle cx="253.4" cy="311.4" r="1.42"/><circle cx="276.7" cy="309.6" r="1.42"/><circle cx="262.4" cy="333.6" r="1.42"/><circle cx="270.0" cy="334.1" r="1.42"/><circle cx="280.6" cy="315.8" r="1.42"/><circle cx="249.7" cy="316.8" r="1.42"/><circle cx="278.8" cy="314.8" r="1.42"/><circle cx="265.6" cy="303.9" r="1.42"/><circle cx="248.3" cy="317.5" r="1.42"/><circle cx="282.1" cy="308.0" r="1.42"/><circle cx="276.7" cy="307.2" r="1.42"/><circle cx="255.6" cy="309.5" r="1.42"/><circle cx="250.5" cy="319.5" r="1.42"/><circle cx="283.5" cy="313.8" r="1.42"/><circle cx="289.1" cy="318.5" r="1.42"/><circle cx="274.6" cy="304.0" r="1.42"/><circle cx="280.7" cy="315.7" r="1.42"/><circle cx="253.1" cy="319.4" r="1.42"/><circle cx="278.7" cy="311.2" r="1.42"/><circle cx="249.2" cy="313.0" r="1.42"/><circle cx="254.2" cy="313.3" r="1.42"/><circle cx="281.5" cy="319.9" r="1.42"/><circle cx="273.9" cy="331.6" r="1.42"/></g>
<g fill="#7c87bd"><circle cx="244.2" cy="301.2" r="1.45"/><circle cx="246.5" cy="308.2" r="1.45"/><circle cx="243.1" cy="313.9" r="1.45"/><circle cx="245.4" cy="316.2" r="1.45"/><circle cx="247.7" cy="317.4" r="1.45"/><circle cx="241.9" cy="324.3" r="1.45"/><circle cx="239.6" cy="330.1" r="1.45"/><circle cx="244.2" cy="333.5" r="1.45"/><circle cx="248.8" cy="338.2" r="1.45"/><circle cx="252.3" cy="342.8" r="1.45"/><circle cx="258.1" cy="340.5" r="1.45"/><circle cx="254.6" cy="339.3" r="1.45"/><circle cx="270.8" cy="342.8" r="1.45"/><circle cx="274.2" cy="338.2" r="1.45"/><circle cx="278.8" cy="335.8" r="1.45"/><circle cx="285.8" cy="332.4" r="1.45"/><circle cx="289.2" cy="331.2" r="1.45"/><circle cx="291.5" cy="333.5" r="1.45"/><circle cx="288.1" cy="326.6" r="1.45"/><circle cx="289.2" cy="322.0" r="1.45"/><circle cx="289.2" cy="316.2" r="1.45"/><circle cx="286.9" cy="311.6" r="1.45"/><circle cx="285.8" cy="308.2" r="1.45"/><circle cx="291.5" cy="304.7" r="1.45"/><circle cx="292.7" cy="302.4" r="1.45"/><circle cx="278.8" cy="298.9" r="1.45"/><circle cx="275.4" cy="298.9" r="1.45"/><circle cx="273.1" cy="296.6" r="1.45"/><circle cx="276.5" cy="294.3" r="1.45"/><circle cx="279.4" cy="293.7" r="1.45"/><circle cx="262.7" cy="297.8" r="1.45"/><circle cx="266.2" cy="300.1" r="1.45"/><circle cx="258.1" cy="298.9" r="1.45"/><circle cx="255.8" cy="303.5" r="1.45"/><circle cx="253.5" cy="307.0" r="1.45"/><circle cx="269.6" cy="302.4" r="1.45"/><circle cx="271.9" cy="303.5" r="1.45"/><circle cx="209.8" cy="270.1" r="1.45"/><circle cx="227.3" cy="280.3" r="1.45"/><circle cx="294.6" cy="284.9" r="1.45"/><circle cx="339.6" cy="308.2" r="1.45"/><circle cx="308.6" cy="355.9" r="1.45"/><circle cx="250.2" cy="342.8" r="1.45"/><circle cx="245.0" cy="320.0" r="1.45"/><circle cx="249.0" cy="312.0" r="1.45"/></g>
<g stroke="#1a1a1a" stroke-width="1.15" fill="none">
<line x1="202.8" y1="322.35" x2="327.3" y2="322.35" stroke-width="0.95" stroke="#2a2a2a"/>
<line x1="211.3" y1="375.9" x2="315.3" y2="271.9"/>
<line x1="211.60000000000002" y1="269.2" x2="315.3" y2="372.9"/>
<path d="M272.61,311.41L275.79,314.59M253.81,330.21L256.99,333.39M272.61,333.39L275.79,330.21M253.81,314.59L256.99,311.41M282.01,302.01L285.19,305.19M244.41,339.61L247.59,342.79M282.01,342.79L285.19,339.61M244.41,305.19L247.59,302.01M291.41,292.61L294.59,295.79M235.01,349.01L238.19,352.19M291.41,352.19L294.59,349.01M235.01,295.79L238.19,292.61M300.81,283.21L303.99,286.39M225.61,358.41L228.79,361.59M300.81,361.59L303.99,358.41M225.61,286.39L228.79,283.21M310.21,273.81L313.39,276.99M216.21,367.81L219.39,370.99M310.21,370.99L313.39,367.81M216.21,276.99L219.39,273.81"/>
</g>
<path d="M197.80,322.35L203.80,319.40L203.20,322.35L203.80,325.30Z" fill="#1a1a1a"/>
<path d="M332.10,322.35L326.10,325.30L326.70,322.35L326.10,319.40Z" fill="#1a1a1a"/>
<path d="M318.80,268.80L316.64,275.13L314.98,272.62L312.47,270.96Z" fill="#1a1a1a"/>
<path d="M318.80,376.40L312.47,374.24L314.98,372.58L316.64,370.07Z" fill="#1a1a1a"/>
<text x="213.80" y="320.70" font-size="5.0" text-anchor="middle" textLength="9.6" lengthAdjust="spacingAndGlyphs" fill="#151515" stroke="#151515" stroke-width="0.12">joint</text>
<text x="213.70" y="326.90" font-size="5.0" text-anchor="middle" textLength="16.4" lengthAdjust="spacingAndGlyphs" fill="#151515" stroke="#151515" stroke-width="0.12">dephos.</text>
<text x="319.80" y="320.70" font-size="5.0" text-anchor="middle" textLength="9.6" lengthAdjust="spacingAndGlyphs" fill="#151515" stroke="#151515" stroke-width="0.12">joint</text>
<text x="319.80" y="326.90" font-size="5.0" text-anchor="middle" textLength="11.4" lengthAdjust="spacingAndGlyphs" fill="#151515" stroke="#151515" stroke-width="0.12">phos.</text>
<text x="0" y="0" font-size="5.0" text-anchor="middle" fill="#151515" transform="translate(249.51,300.10) rotate(45)">-2</text>
<text x="0" y="0" font-size="5.0" text-anchor="middle" textLength="14.0" lengthAdjust="spacingAndGlyphs" fill="#151515" transform="translate(237.29,287.89) rotate(45)">log f.c.</text>
<text x="0" y="0" font-size="5.0" text-anchor="middle" fill="#151515" transform="translate(221.31,271.91) rotate(45)">-5</text>
<text x="0" y="0" font-size="5.0" text-anchor="middle" fill="#151515" transform="translate(250.92,346.11) rotate(-45)">-2</text>
<text x="0" y="0" font-size="5.0" text-anchor="middle" textLength="14.0" lengthAdjust="spacingAndGlyphs" fill="#151515" transform="translate(238.70,358.33) rotate(-45)">log f.c.</text>
<text x="0" y="0" font-size="5.0" text-anchor="middle" fill="#151515" transform="translate(222.73,374.30) rotate(-45)">-5</text>
<text x="0" y="0" font-size="5.0" text-anchor="middle" fill="#151515" transform="translate(279.81,299.82) rotate(-45)">2</text>
<text x="0" y="0" font-size="5.0" text-anchor="middle" fill="#151515" transform="translate(289.21,290.42) rotate(-45)">3</text>
<text x="0" y="0" font-size="5.0" text-anchor="middle" fill="#151515" transform="translate(276.35,348.44) rotate(45)">2</text>
<text x="0" y="0" font-size="5.0" text-anchor="middle" fill="#151515" transform="translate(285.74,357.84) rotate(45)">3</text>
<text x="0" y="0" font-size="5.0" text-anchor="middle" fill="#151515" transform="translate(293.54,274.78) rotate(-45)">ALL22089</text>
<text x="0" y="0" font-size="5.0" text-anchor="middle" fill="#151515" transform="translate(297.65,279.73) rotate(-45)">FLT3L</text>
<text x="0" y="0" font-size="5.0" text-anchor="middle" fill="#151515" transform="translate(298.14,369.10) rotate(45)">ALL114</text>
<text x="0" y="0" font-size="5.0" text-anchor="middle" fill="#151515" transform="translate(293.05,373.06) rotate(45)">FLT3L</text>
<circle cx="299.5" cy="302.7" r="1.65" fill="#a01020"/>
<circle cx="241.6" cy="318.7" r="1.65" fill="#a01020"/>
<circle cx="307.8" cy="355.7" r="1.65" fill="#a01020"/>
<text x="305.85" y="300.50" font-size="5.2" textLength="11.7" lengthAdjust="spacingAndGlyphs" fill="#151515" stroke="#151515" stroke-width="0.12">PAK2</text>
<text x="303.25" y="305.80" font-size="5.2" textLength="18.1" lengthAdjust="spacingAndGlyphs" fill="#151515" stroke="#151515" stroke-width="0.12">141/143</text>
<text x="225.75" y="316.40" font-size="5.2" textLength="22.0" lengthAdjust="spacingAndGlyphs" fill="#151515" stroke="#151515" stroke-width="0.12">HSPB1 P15</text>
<text x="310.25" y="358.10" font-size="5.2" textLength="20.8" lengthAdjust="spacingAndGlyphs" fill="#151515" stroke="#151515" stroke-width="0.12">EDC4 729</text>
<clipPath id="pc3"><rect x="357.8" y="266.4" width="134" height="112"/></clipPath>
<g clip-path="url(#pc3)"><path d="M363.27,264.80L364.13,265.70L364.98,266.60L365.83,267.50L366.69,268.40L367.54,269.30L368.39,270.20L369.23,271.10L370.08,272.00L370.92,272.90L371.76,273.80L372.60,274.70L373.44,275.60L374.27,276.50L375.11,277.40L375.94,278.30L376.77,279.20L377.59,280.10L378.41,281.00L379.23,281.90L380.05,282.80L380.86,283.70L381.67,284.60L382.48,285.50L383.28,286.40L384.08,287.30L384.87,288.20L385.66,289.10L386.44,290.00L387.22,290.90L387.99,291.80L388.76,292.70L389.52,293.60L390.27,294.50L391.01,295.40L391.75,296.30L392.48,297.20L393.20,298.10L393.91,299.00L394.61,299.90L395.30,300.80L395.97,301.70L396.63,302.60L397.28,303.50L397.92,304.40L398.53,305.30L399.13,306.20L399.72,307.10L400.28,308.00L400.82,308.90L401.33,309.80L401.83,310.70L402.29,311.60L402.73,312.50L403.14,313.40L403.51,314.30L403.86,315.20L404.16,316.10L404.43,317.00L404.66,317.90L404.85,318.80L405.01,319.70L405.11,320.60L405.18,321.50L405.20,322.40L405.18,323.30L405.11,324.20L405.01,325.10L404.85,326.00L404.66,326.90L404.43,327.80L404.16,328.70L403.86,329.60L403.51,330.50L403.14,331.40L402.73,332.30L402.29,333.20L401.83,334.10L401.33,335.00L400.82,335.90L400.28,336.80L399.72,337.70L399.13,338.60L398.53,339.50L397.92,340.40L397.28,341.30L396.63,342.20L395.97,343.10L395.30,344.00L394.61,344.90L393.91,345.80L393.20,346.70L392.48,347.60L391.75,348.50L391.01,349.40L390.27,350.30L389.52,351.20L388.76,352.10L387.99,353.00L387.22,353.90L386.44,354.80L385.66,355.70L384.87,356.60L384.08,357.50L383.28,358.40L382.48,359.30L381.67,360.20L380.86,361.10L380.05,362.00L379.23,362.90L378.41,363.80L377.59,364.70L376.77,365.60L375.94,366.50L375.11,367.40L374.27,368.30L373.44,369.20L372.60,370.10L371.76,371.00L370.92,371.90L370.08,372.80L369.23,373.70L368.39,374.60L367.54,375.50L366.69,376.40L365.83,377.30L364.98,378.20L364.13,379.10L363.27,380.00" fill="none" stroke="#c62c55" stroke-width="1.2" stroke-dasharray="3.8 2.4"/><path d="M484.33,264.80L483.47,265.70L482.62,266.60L481.77,267.50L480.91,268.40L480.06,269.30L479.21,270.20L478.37,271.10L477.52,272.00L476.68,272.90L475.84,273.80L475.00,274.70L474.16,275.60L473.33,276.50L472.49,277.40L471.66,278.30L470.83,279.20L470.01,280.10L469.19,281.00L468.37,281.90L467.55,282.80L466.74,283.70L465.93,284.60L465.12,285.50L464.32,286.40L463.52,287.30L462.73,288.20L461.94,289.10L461.16,290.00L460.38,290.90L459.61,291.80L458.84,292.70L458.08,293.60L457.33,294.50L456.59,295.40L455.85,296.30L455.12,297.20L454.40,298.10L453.69,299.00L452.99,299.90L452.30,300.80L451.63,301.70L450.97,302.60L450.32,303.50L449.68,304.40L449.07,305.30L448.47,306.20L447.88,307.10L447.32,308.00L446.78,308.90L446.27,309.80L445.77,310.70L445.31,311.60L444.87,312.50L444.46,313.40L444.09,314.30L443.74,315.20L443.44,316.10L443.17,317.00L442.94,317.90L442.75,318.80L442.59,319.70L442.49,320.60L442.42,321.50L442.40,322.40L442.42,323.30L442.49,324.20L442.59,325.10L442.75,326.00L442.94,326.90L443.17,327.80L443.44,328.70L443.74,329.60L444.09,330.50L444.46,331.40L444.87,332.30L445.31,333.20L445.77,334.10L446.27,335.00L446.78,335.90L447.32,336.80L447.88,337.70L448.47,338.60L449.07,339.50L449.68,340.40L450.32,341.30L450.97,342.20L451.63,343.10L452.30,344.00L452.99,344.90L453.69,345.80L454.40,346.70L455.12,347.60L455.85,348.50L456.59,349.40L457.33,350.30L458.08,351.20L458.84,352.10L459.61,353.00L460.38,353.90L461.16,354.80L461.94,355.70L462.73,356.60L463.52,357.50L464.32,358.40L465.12,359.30L465.93,360.20L466.74,361.10L467.55,362.00L468.37,362.90L469.19,363.80L470.01,364.70L470.83,365.60L471.66,366.50L472.49,367.40L473.33,368.30L474.16,369.20L475.00,370.10L475.84,371.00L476.68,371.90L477.52,372.80L478.37,373.70L479.21,374.60L480.06,375.50L480.91,376.40L481.77,377.30L482.62,378.20L483.47,379.10L484.33,380.00" fill="none" stroke="#c62c55" stroke-width="1.2" stroke-dasharray="3.8 2.4"/></g>
<path d="M407.2,317.3L408.8,314.1L413.2,312.1L418.6,311.2L422.8,311.9L426.9,311.2L432.2,312.2L436.6,313.0L439.4,315.7L439.9,319.4L439.3,324.8L437.6,329.0L435.5,331.1L431.1,331.5L426.9,331.9L422.8,332.4L417.6,332.0L413.3,331.0L408.8,330.2L407.2,326.9L406.7,322.6Z" fill="#8a93c0" stroke="#8a93c0" stroke-width="1.2" stroke-linejoin="round"/>
<g fill="#8a93c0"><circle cx="407.6" cy="317.9" r="1.3"/><circle cx="407.5" cy="316.6" r="1.3"/><circle cx="408.3" cy="314.4" r="1.3"/><circle cx="409.6" cy="313.9" r="1.3"/><circle cx="411.1" cy="313.1" r="1.3"/><circle cx="413.6" cy="312.6" r="1.3"/><circle cx="414.9" cy="312.5" r="1.3"/><circle cx="417.7" cy="310.8" r="1.3"/><circle cx="418.7" cy="312.0" r="1.3"/><circle cx="421.1" cy="311.4" r="1.3"/><circle cx="422.4" cy="312.7" r="1.3"/><circle cx="424.1" cy="312.0" r="1.3"/><circle cx="427.5" cy="310.6" r="1.3"/><circle cx="428.4" cy="311.2" r="1.3"/><circle cx="430.5" cy="311.6" r="1.3"/><circle cx="432.9" cy="312.9" r="1.3"/><circle cx="434.1" cy="313.3" r="1.3"/><circle cx="435.9" cy="312.3" r="1.3"/><circle cx="438.3" cy="314.9" r="1.3"/><circle cx="440.0" cy="316.6" r="1.3"/><circle cx="440.3" cy="317.1" r="1.3"/><circle cx="440.4" cy="320.2" r="1.3"/><circle cx="439.0" cy="321.2" r="1.3"/><circle cx="438.9" cy="322.3" r="1.3"/><circle cx="439.3" cy="325.1" r="1.3"/><circle cx="439.3" cy="326.2" r="1.3"/><circle cx="437.6" cy="329.9" r="1.3"/><circle cx="435.9" cy="331.2" r="1.3"/><circle cx="432.8" cy="331.5" r="1.3"/><circle cx="430.7" cy="331.7" r="1.3"/><circle cx="429.2" cy="331.5" r="1.3"/><circle cx="427.4" cy="331.7" r="1.3"/><circle cx="424.8" cy="332.7" r="1.3"/><circle cx="422.3" cy="331.8" r="1.3"/><circle cx="421.2" cy="332.1" r="1.3"/><circle cx="420.0" cy="331.7" r="1.3"/><circle cx="417.3" cy="331.2" r="1.3"/><circle cx="415.3" cy="331.2" r="1.3"/><circle cx="413.2" cy="331.5" r="1.3"/><circle cx="410.2" cy="331.5" r="1.3"/><circle cx="409.2" cy="330.7" r="1.3"/><circle cx="408.1" cy="328.7" r="1.3"/><circle cx="407.1" cy="326.7" r="1.3"/><circle cx="406.5" cy="324.4" r="1.3"/><circle cx="406.3" cy="322.4" r="1.3"/><circle cx="407.6" cy="321.4" r="1.3"/><circle cx="407.3" cy="318.2" r="1.3"/></g>
<g fill="#8690c0"><circle cx="439.4" cy="319.1" r="1.42"/><circle cx="431.2" cy="331.8" r="1.42"/><circle cx="438.0" cy="328.1" r="1.42"/><circle cx="413.6" cy="312.5" r="1.42"/><circle cx="407.5" cy="328.7" r="1.42"/><circle cx="410.3" cy="309.2" r="1.42"/><circle cx="409.3" cy="314.5" r="1.42"/><circle cx="418.2" cy="311.3" r="1.42"/><circle cx="420.5" cy="333.0" r="1.42"/><circle cx="425.2" cy="333.2" r="1.42"/><circle cx="423.5" cy="311.3" r="1.42"/><circle cx="441.5" cy="327.0" r="1.42"/><circle cx="443.5" cy="309.4" r="1.42"/><circle cx="438.9" cy="315.1" r="1.42"/><circle cx="406.1" cy="325.1" r="1.42"/><circle cx="426.9" cy="306.3" r="1.42"/><circle cx="436.5" cy="313.4" r="1.42"/><circle cx="407.9" cy="330.3" r="1.42"/><circle cx="412.3" cy="330.5" r="1.42"/><circle cx="438.9" cy="325.1" r="1.42"/><circle cx="416.0" cy="331.8" r="1.42"/><circle cx="425.6" cy="331.9" r="1.42"/><circle cx="420.1" cy="312.5" r="1.42"/><circle cx="404.6" cy="317.6" r="1.42"/><circle cx="438.1" cy="311.5" r="1.42"/><circle cx="420.6" cy="310.5" r="1.42"/><circle cx="407.6" cy="318.8" r="1.42"/><circle cx="428.6" cy="309.7" r="1.42"/><circle cx="411.3" cy="309.3" r="1.42"/><circle cx="421.4" cy="333.3" r="1.42"/><circle cx="420.6" cy="310.8" r="1.42"/><circle cx="407.1" cy="322.4" r="1.42"/><circle cx="400.1" cy="326.3" r="1.42"/><circle cx="433.1" cy="331.0" r="1.42"/><circle cx="439.6" cy="316.5" r="1.42"/><circle cx="438.5" cy="319.1" r="1.42"/><circle cx="402.8" cy="327.1" r="1.42"/><circle cx="437.7" cy="327.8" r="1.42"/><circle cx="419.1" cy="332.0" r="1.42"/><circle cx="426.7" cy="332.9" r="1.42"/><circle cx="402.6" cy="326.7" r="1.42"/><circle cx="436.3" cy="313.2" r="1.42"/><circle cx="404.0" cy="325.7" r="1.42"/><circle cx="406.4" cy="315.6" r="1.42"/><circle cx="406.5" cy="316.6" r="1.42"/><circle cx="427.1" cy="304.7" r="1.42"/><circle cx="427.2" cy="330.5" r="1.42"/><circle cx="444.8" cy="313.9" r="1.42"/><circle cx="416.4" cy="334.6" r="1.42"/><circle cx="440.2" cy="320.0" r="1.42"/><circle cx="446.1" cy="320.9" r="1.42"/><circle cx="436.7" cy="306.2" r="1.42"/><circle cx="421.9" cy="334.6" r="1.42"/><circle cx="398.7" cy="314.7" r="1.42"/><circle cx="438.6" cy="315.9" r="1.42"/><circle cx="436.6" cy="330.7" r="1.42"/><circle cx="435.5" cy="331.2" r="1.42"/><circle cx="407.3" cy="328.8" r="1.42"/><circle cx="411.9" cy="330.0" r="1.42"/><circle cx="431.9" cy="335.2" r="1.42"/></g>
<g fill="#7c87bd"><circle cx="403.7" cy="305.4" r="1.45"/><circle cx="406.5" cy="303.7" r="1.45"/><circle cx="410.0" cy="304.2" r="1.45"/><circle cx="413.5" cy="304.8" r="1.45"/><circle cx="408.8" cy="308.3" r="1.45"/><circle cx="406.5" cy="312.3" r="1.45"/><circle cx="398.5" cy="315.2" r="1.45"/><circle cx="399.6" cy="319.2" r="1.45"/><circle cx="401.9" cy="337.7" r="1.45"/><circle cx="406.0" cy="344.6" r="1.45"/><circle cx="415.2" cy="344.6" r="1.45"/><circle cx="416.3" cy="337.7" r="1.45"/><circle cx="422.1" cy="336.5" r="1.45"/><circle cx="429.0" cy="338.8" r="1.45"/><circle cx="431.3" cy="306.5" r="1.45"/><circle cx="429.6" cy="307.1" r="1.45"/><circle cx="438.8" cy="309.4" r="1.45"/><circle cx="446.9" cy="315.2" r="1.45"/><circle cx="448.7" cy="317.5" r="1.45"/><circle cx="440.0" cy="335.4" r="1.45"/><circle cx="443.5" cy="331.9" r="1.45"/><circle cx="444.6" cy="333.1" r="1.45"/><circle cx="451.5" cy="303.7" r="1.45"/><circle cx="451.1" cy="303.6" r="1.45"/><circle cx="448.2" cy="315.0" r="1.45"/><circle cx="462.9" cy="329.2" r="1.45"/><circle cx="470.7" cy="356.0" r="1.45"/><circle cx="452.5" cy="349.1" r="1.45"/><circle cx="466.3" cy="365.6" r="1.45"/><circle cx="470.7" cy="372.5" r="1.45"/><circle cx="508.9" cy="308.2" r="1.45"/><circle cx="482.8" cy="324.0" r="1.45"/><circle cx="495.4" cy="333.6" r="1.45"/><circle cx="398.0" cy="312.0" r="1.45"/><circle cx="410.0" cy="337.0" r="1.45"/></g>
<g stroke="#1a1a1a" stroke-width="1.15" fill="none">
<line x1="361.8" y1="322.35" x2="486.3" y2="322.35" stroke-width="0.95" stroke="#2a2a2a"/>
<line x1="370.3" y1="375.9" x2="474.3" y2="271.9"/>
<line x1="370.6" y1="269.2" x2="474.3" y2="372.9"/>
<path d="M431.61,311.41L434.79,314.59M412.81,330.21L415.99,333.39M431.61,333.39L434.79,330.21M412.81,314.59L415.99,311.41M441.01,302.01L444.19,305.19M403.41,339.61L406.59,342.79M441.01,342.79L444.19,339.61M403.41,305.19L406.59,302.01M450.41,292.61L453.59,295.79M394.01,349.01L397.19,352.19M450.41,352.19L453.59,349.01M394.01,295.79L397.19,292.61M459.81,283.21L462.99,286.39M384.61,358.41L387.79,361.59M459.81,361.59L462.99,358.41M384.61,286.39L387.79,283.21M469.21,273.81L472.39,276.99M375.21,367.81L378.39,370.99M469.21,370.99L472.39,367.81M375.21,276.99L378.39,273.81"/>
</g>
<path d="M356.80,322.35L362.80,319.40L362.20,322.35L362.80,325.30Z" fill="#1a1a1a"/>
<path d="M491.10,322.35L485.10,325.30L485.70,322.35L485.10,319.40Z" fill="#1a1a1a"/>
<path d="M477.80,268.80L475.64,275.13L473.98,272.62L471.47,270.96Z" fill="#1a1a1a"/>
<path d="M477.80,376.40L471.47,374.24L473.98,372.58L475.64,370.07Z" fill="#1a1a1a"/>
<text x="372.80" y="320.70" font-size="5.0" text-anchor="middle" textLength="9.6" lengthAdjust="spacingAndGlyphs" fill="#151515" stroke="#151515" stroke-width="0.12">joint</text>
<text x="372.70" y="326.90" font-size="5.0" text-anchor="middle" textLength="16.4" lengthAdjust="spacingAndGlyphs" fill="#151515" stroke="#151515" stroke-width="0.12">dephos.</text>
<text x="478.90" y="314.20" font-size="5.0" text-anchor="middle" textLength="9.6" lengthAdjust="spacingAndGlyphs" fill="#151515" stroke="#151515" stroke-width="0.12">joint</text>
<text x="478.60" y="319.50" font-size="5.0" text-anchor="middle" textLength="11.4" lengthAdjust="spacingAndGlyphs" fill="#151515" stroke="#151515" stroke-width="0.12">phos.</text>
<text x="0" y="0" font-size="5.0" text-anchor="middle" fill="#151515" transform="translate(408.51,300.10) rotate(45)">-2</text>
<text x="0" y="0" font-size="5.0" text-anchor="middle" textLength="14.0" lengthAdjust="spacingAndGlyphs" fill="#151515" transform="translate(396.29,287.89) rotate(45)">log f.c.</text>
<text x="0" y="0" font-size="5.0" text-anchor="middle" fill="#151515" transform="translate(380.31,271.91) rotate(45)">-5</text>
<text x="0" y="0" font-size="5.0" text-anchor="middle" fill="#151515" transform="translate(409.92,346.11) rotate(-45)">-2</text>
<text x="0" y="0" font-size="5.0" text-anchor="middle" textLength="14.0" lengthAdjust="spacingAndGlyphs" fill="#151515" transform="translate(397.70,358.33) rotate(-45)">log f.c.</text>
<text x="0" y="0" font-size="5.0" text-anchor="middle" fill="#151515" transform="translate(381.73,374.30) rotate(-45)">-5</text>
<text x="0" y="0" font-size="5.0" text-anchor="middle" fill="#151515" transform="translate(438.81,299.82) rotate(-45)">2</text>
<text x="0" y="0" font-size="5.0" text-anchor="middle" fill="#151515" transform="translate(448.21,290.42) rotate(-45)">3</text>
<text x="0" y="0" font-size="5.0" text-anchor="middle" fill="#151515" transform="translate(435.35,348.44) rotate(45)">2</text>
<text x="0" y="0" font-size="5.0" text-anchor="middle" fill="#151515" transform="translate(444.74,357.84) rotate(45)">3</text>
<text x="0" y="0" font-size="5.0" text-anchor="middle" fill="#151515" transform="translate(452.54,274.78) rotate(-45)">ALL22089</text>
<text x="0" y="0" font-size="5.0" text-anchor="middle" fill="#151515" transform="translate(456.65,279.73) rotate(-45)">FLT3L</text>
<text x="0" y="0" font-size="5.0" text-anchor="middle" fill="#151515" transform="translate(457.14,369.10) rotate(45)">ALL114</text>
<text x="0" y="0" font-size="5.0" text-anchor="middle" fill="#151515" transform="translate(452.05,373.06) rotate(45)">FLT3L</text>
<circle cx="448.3" cy="320.4" r="1.65" fill="#a01020"/>
<circle cx="453.3" cy="324.2" r="1.65" fill="#a01020"/>
<circle cx="464.8" cy="351.4" r="1.65" fill="#a01020"/>
<text x="453.25" y="313.50" font-size="5.2" textLength="11.5" lengthAdjust="spacingAndGlyphs" fill="#151515" stroke="#151515" stroke-width="0.12">PAK2</text>
<text x="450.35" y="318.70" font-size="5.2" textLength="17.6" lengthAdjust="spacingAndGlyphs" fill="#151515" stroke="#151515" stroke-width="0.12">141/143</text>
<text x="451.85" y="330.50" font-size="5.2" textLength="13.2" lengthAdjust="spacingAndGlyphs" fill="#151515" stroke="#151515" stroke-width="0.12">MAP4</text>
<text x="449.55" y="335.70" font-size="5.2" textLength="18.4" lengthAdjust="spacingAndGlyphs" fill="#151515" stroke="#151515" stroke-width="0.12">927/928</text>
<text x="466.55" y="353.50" font-size="5.2" textLength="21.1" lengthAdjust="spacingAndGlyphs" fill="#151515" stroke="#151515" stroke-width="0.12">EDC4 729</text>
<clipPath id="pc4"><rect x="39.8" y="385.0" width="134" height="112"/></clipPath>
<g clip-path="url(#pc4)"><path d="M45.27,383.40L46.13,384.30L46.98,385.20L47.83,386.10L48.69,387.00L49.54,387.90L50.39,388.80L51.23,389.70L52.08,390.60L52.92,391.50L53.76,392.40L54.60,393.30L55.44,394.20L56.27,395.10L57.11,396.00L57.94,396.90L58.77,397.80L59.59,398.70L60.41,399.60L61.23,400.50L62.05,401.40L62.86,402.30L63.67,403.20L64.48,404.10L65.28,405.00L66.08,405.90L66.87,406.80L67.66,407.70L68.44,408.60L69.22,409.50L69.99,410.40L70.76,411.30L71.52,412.20L72.27,413.10L73.01,414.00L73.75,414.90L74.48,415.80L75.20,416.70L75.91,417.60L76.61,418.50L77.30,419.40L77.97,420.30L78.63,421.20L79.28,422.10L79.92,423.00L80.53,423.90L81.13,424.80L81.72,425.70L82.28,426.60L82.82,427.50L83.33,428.40L83.83,429.30L84.29,430.20L84.73,431.10L85.14,432.00L85.51,432.90L85.86,433.80L86.16,434.70L86.43,435.60L86.66,436.50L86.85,437.40L87.01,438.30L87.11,439.20L87.18,440.10L87.20,441.00L87.18,441.90L87.11,442.80L87.01,443.70L86.85,444.60L86.66,445.50L86.43,446.40L86.16,447.30L85.86,448.20L85.51,449.10L85.14,450.00L84.73,450.90L84.29,451.80L83.83,452.70L83.33,453.60L82.82,454.50L82.28,455.40L81.72,456.30L81.13,457.20L80.53,458.10L79.92,459.00L79.28,459.90L78.63,460.80L77.97,461.70L77.30,462.60L76.61,463.50L75.91,464.40L75.20,465.30L74.48,466.20L73.75,467.10L73.01,468.00L72.27,468.90L71.52,469.80L70.76,470.70L69.99,471.60L69.22,472.50L68.44,473.40L67.66,474.30L66.87,475.20L66.08,476.10L65.28,477.00L64.48,477.90L63.67,478.80L62.86,479.70L62.05,480.60L61.23,481.50L60.41,482.40L59.59,483.30L58.77,484.20L57.94,485.10L57.11,486.00L56.27,486.90L55.44,487.80L54.60,488.70L53.76,489.60L52.92,490.50L52.08,491.40L51.23,492.30L50.39,493.20L49.54,494.10L48.69,495.00L47.83,495.90L46.98,496.80L46.13,497.70L45.27,498.60" fill="none" stroke="#c62c55" stroke-width="1.2" stroke-dasharray="3.8 2.4"/><path d="M166.33,383.40L165.47,384.30L164.62,385.20L163.77,386.10L162.91,387.00L162.06,387.90L161.21,388.80L160.37,389.70L159.52,390.60L158.68,391.50L157.84,392.40L157.00,393.30L156.16,394.20L155.33,395.10L154.49,396.00L153.66,396.90L152.83,397.80L152.01,398.70L151.19,399.60L150.37,400.50L149.55,401.40L148.74,402.30L147.93,403.20L147.12,404.10L146.32,405.00L145.52,405.90L144.73,406.80L143.94,407.70L143.16,408.60L142.38,409.50L141.61,410.40L140.84,411.30L140.08,412.20L139.33,413.10L138.59,414.00L137.85,414.90L137.12,415.80L136.40,416.70L135.69,417.60L134.99,418.50L134.30,419.40L133.63,420.30L132.97,421.20L132.32,422.10L131.68,423.00L131.07,423.90L130.47,424.80L129.88,425.70L129.32,426.60L128.78,427.50L128.27,428.40L127.77,429.30L127.31,430.20L126.87,431.10L126.46,432.00L126.09,432.90L125.74,433.80L125.44,434.70L125.17,435.60L124.94,436.50L124.75,437.40L124.59,438.30L124.49,439.20L124.42,440.10L124.40,441.00L124.42,441.90L124.49,442.80L124.59,443.70L124.75,444.60L124.94,445.50L125.17,446.40L125.44,447.30L125.74,448.20L126.09,449.10L126.46,450.00L126.87,450.90L127.31,451.80L127.77,452.70L128.27,453.60L128.78,454.50L129.32,455.40L129.88,456.30L130.47,457.20L131.07,458.10L131.68,459.00L132.32,459.90L132.97,460.80L133.63,461.70L134.30,462.60L134.99,463.50L135.69,464.40L136.40,465.30L137.12,466.20L137.85,467.10L138.59,468.00L139.33,468.90L140.08,469.80L140.84,470.70L141.61,471.60L142.38,472.50L143.16,473.40L143.94,474.30L144.73,475.20L145.52,476.10L146.32,477.00L147.12,477.90L147.93,478.80L148.74,479.70L149.55,480.60L150.37,481.50L151.19,482.40L152.01,483.30L152.83,484.20L153.66,485.10L154.49,486.00L155.33,486.90L156.16,487.80L157.00,488.70L157.84,489.60L158.68,490.50L159.52,491.40L160.37,492.30L161.21,493.20L162.06,494.10L162.91,495.00L163.77,495.90L164.62,496.80L165.47,497.70L166.33,498.60" fill="none" stroke="#c62c55" stroke-width="1.2" stroke-dasharray="3.8 2.4"/></g>
<path d="M90.8,437.6L92.0,433.3L95.4,431.3L99.7,428.2L102.8,427.3L106.9,426.9L109.1,425.7L112.1,426.2L114.0,429.5L117.2,431.4L120.7,429.1L123.1,426.9L125.4,425.7L126.4,429.0L124.0,433.3L120.5,436.5L117.1,438.5L116.1,441.6L112.0,443.5L109.1,447.9L104.8,448.5L101.7,449.2L97.3,450.5L94.0,448.9L95.3,445.0L93.0,443.0L90.8,440.9Z" fill="#8a93c0" stroke="#8a93c0" stroke-width="1.2" stroke-linejoin="round"/>
<g fill="#8a93c0"><circle cx="89.9" cy="436.9" r="1.3"/><circle cx="91.2" cy="435.8" r="1.3"/><circle cx="91.3" cy="432.6" r="1.3"/><circle cx="93.2" cy="432.8" r="1.3"/><circle cx="94.8" cy="431.7" r="1.3"/><circle cx="97.1" cy="429.6" r="1.3"/><circle cx="98.4" cy="429.1" r="1.3"/><circle cx="99.6" cy="429.1" r="1.3"/><circle cx="100.6" cy="426.9" r="1.3"/><circle cx="103.6" cy="427.2" r="1.3"/><circle cx="104.3" cy="426.8" r="1.3"/><circle cx="106.7" cy="427.7" r="1.3"/><circle cx="108.5" cy="425.2" r="1.3"/><circle cx="112.2" cy="426.3" r="1.3"/><circle cx="113.9" cy="428.4" r="1.3"/><circle cx="113.8" cy="428.9" r="1.3"/><circle cx="116.2" cy="431.3" r="1.3"/><circle cx="116.4" cy="431.8" r="1.3"/><circle cx="119.6" cy="430.5" r="1.3"/><circle cx="120.2" cy="429.7" r="1.3"/><circle cx="122.3" cy="427.4" r="1.3"/><circle cx="123.3" cy="426.4" r="1.3"/><circle cx="124.6" cy="425.4" r="1.3"/><circle cx="125.6" cy="427.1" r="1.3"/><circle cx="126.7" cy="429.6" r="1.3"/><circle cx="126.4" cy="431.3" r="1.3"/><circle cx="125.7" cy="432.4" r="1.3"/><circle cx="123.7" cy="432.7" r="1.3"/><circle cx="122.5" cy="435.0" r="1.3"/><circle cx="120.8" cy="435.7" r="1.3"/><circle cx="118.3" cy="438.2" r="1.3"/><circle cx="117.3" cy="438.8" r="1.3"/><circle cx="115.9" cy="439.8" r="1.3"/><circle cx="116.9" cy="441.8" r="1.3"/><circle cx="114.9" cy="442.0" r="1.3"/><circle cx="111.9" cy="444.0" r="1.3"/><circle cx="110.9" cy="445.5" r="1.3"/><circle cx="110.1" cy="445.7" r="1.3"/><circle cx="108.3" cy="448.8" r="1.3"/><circle cx="106.3" cy="447.7" r="1.3"/><circle cx="104.5" cy="448.9" r="1.3"/><circle cx="103.9" cy="448.8" r="1.3"/><circle cx="101.7" cy="449.7" r="1.3"/><circle cx="99.1" cy="449.6" r="1.3"/><circle cx="97.5" cy="450.7" r="1.3"/><circle cx="94.8" cy="449.0" r="1.3"/><circle cx="93.3" cy="449.3" r="1.3"/><circle cx="95.0" cy="447.8" r="1.3"/><circle cx="95.7" cy="444.6" r="1.3"/><circle cx="93.5" cy="443.8" r="1.3"/><circle cx="90.5" cy="440.0" r="1.3"/><circle cx="90.5" cy="438.8" r="1.3"/></g>
<g fill="#8690c0"><circle cx="109.1" cy="426.4" r="1.42"/><circle cx="105.7" cy="451.5" r="1.42"/><circle cx="96.8" cy="450.5" r="1.42"/><circle cx="117.8" cy="439.9" r="1.42"/><circle cx="94.3" cy="449.2" r="1.42"/><circle cx="129.4" cy="423.6" r="1.42"/><circle cx="107.4" cy="424.9" r="1.42"/><circle cx="112.6" cy="427.9" r="1.42"/><circle cx="116.0" cy="446.7" r="1.42"/><circle cx="91.8" cy="432.6" r="1.42"/><circle cx="110.2" cy="423.4" r="1.42"/><circle cx="121.7" cy="434.3" r="1.42"/><circle cx="93.9" cy="449.5" r="1.42"/><circle cx="105.5" cy="452.2" r="1.42"/><circle cx="101.2" cy="448.4" r="1.42"/><circle cx="124.3" cy="439.1" r="1.42"/><circle cx="122.0" cy="428.6" r="1.42"/><circle cx="92.6" cy="443.2" r="1.42"/><circle cx="95.2" cy="443.4" r="1.42"/><circle cx="125.3" cy="425.4" r="1.42"/><circle cx="115.5" cy="430.0" r="1.42"/><circle cx="113.3" cy="430.2" r="1.42"/><circle cx="114.7" cy="421.1" r="1.42"/><circle cx="102.1" cy="428.1" r="1.42"/><circle cx="125.0" cy="428.9" r="1.42"/><circle cx="128.9" cy="428.1" r="1.42"/><circle cx="118.1" cy="438.1" r="1.42"/><circle cx="102.0" cy="450.9" r="1.42"/><circle cx="112.9" cy="426.4" r="1.42"/><circle cx="112.1" cy="447.7" r="1.42"/><circle cx="115.6" cy="427.2" r="1.42"/><circle cx="92.2" cy="449.5" r="1.42"/><circle cx="90.0" cy="441.4" r="1.42"/><circle cx="113.7" cy="442.4" r="1.42"/><circle cx="122.4" cy="427.6" r="1.42"/><circle cx="113.5" cy="427.6" r="1.42"/><circle cx="90.8" cy="439.7" r="1.42"/><circle cx="109.1" cy="423.3" r="1.42"/><circle cx="103.0" cy="427.5" r="1.42"/><circle cx="94.6" cy="443.6" r="1.42"/><circle cx="112.1" cy="443.5" r="1.42"/><circle cx="102.2" cy="427.1" r="1.42"/><circle cx="116.2" cy="442.4" r="1.42"/><circle cx="87.4" cy="438.7" r="1.42"/><circle cx="94.9" cy="444.2" r="1.42"/><circle cx="126.1" cy="434.3" r="1.42"/><circle cx="98.9" cy="428.8" r="1.42"/><circle cx="114.7" cy="444.2" r="1.42"/><circle cx="107.6" cy="426.2" r="1.42"/><circle cx="89.3" cy="443.2" r="1.42"/></g>
<g fill="#7c87bd"><circle cx="127.0" cy="415.2" r="1.45"/><circle cx="136.8" cy="420.4" r="1.45"/><circle cx="98.2" cy="427.3" r="1.45"/><circle cx="89.5" cy="449.8" r="1.45"/><circle cx="87.2" cy="455.0" r="1.45"/><circle cx="89.5" cy="453.3" r="1.45"/><circle cx="94.7" cy="459.6" r="1.45"/><circle cx="83.2" cy="463.1" r="1.45"/><circle cx="119.0" cy="456.2" r="1.45"/><circle cx="151.5" cy="404.2" r="1.45"/><circle cx="127.2" cy="415.0" r="1.45"/><circle cx="138.5" cy="421.2" r="1.45"/><circle cx="132.3" cy="478.1" r="1.45"/><circle cx="138.5" cy="478.8" r="1.45"/><circle cx="100.0" cy="424.0" r="1.45"/><circle cx="104.0" cy="423.5" r="1.45"/><circle cx="96.0" cy="429.0" r="1.45"/></g>
<g stroke="#1a1a1a" stroke-width="1.15" fill="none">
<line x1="43.8" y1="441.0" x2="168.3" y2="441.0" stroke-width="0.95" stroke="#2a2a2a"/>
<line x1="52.3" y1="494.5" x2="156.3" y2="390.5"/>
<line x1="52.599999999999994" y1="387.8" x2="156.3" y2="491.5"/>
<path d="M113.61,430.01L116.79,433.19M94.81,448.81L97.99,451.99M113.61,451.99L116.79,448.81M94.81,433.19L97.99,430.01M123.01,420.61L126.19,423.79M85.41,458.21L88.59,461.39M123.01,461.39L126.19,458.21M85.41,423.79L88.59,420.61M132.41,411.21L135.59,414.39M76.01,467.61L79.19,470.79M132.41,470.79L135.59,467.61M76.01,414.39L79.19,411.21M141.81,401.81L144.99,404.99M66.61,477.01L69.79,480.19M141.81,480.19L144.99,477.01M66.61,404.99L69.79,401.81M151.21,392.41L154.39,395.59M57.21,486.41L60.39,489.59M151.21,489.59L154.39,486.41M57.21,395.59L60.39,392.41"/>
</g>
<path d="M38.80,441.00L44.80,438.05L44.20,441.00L44.80,443.95Z" fill="#1a1a1a"/>
<path d="M173.10,441.00L167.10,443.95L167.70,441.00L167.10,438.05Z" fill="#1a1a1a"/>
<path d="M159.80,387.40L157.64,393.73L155.98,391.22L153.47,389.56Z" fill="#1a1a1a"/>
<path d="M159.80,495.00L153.47,492.84L155.98,491.18L157.64,488.67Z" fill="#1a1a1a"/>
<text x="54.80" y="439.30" font-size="5.0" text-anchor="middle" textLength="9.6" lengthAdjust="spacingAndGlyphs" fill="#151515" stroke="#151515" stroke-width="0.12">joint</text>
<text x="54.70" y="445.50" font-size="5.0" text-anchor="middle" textLength="16.4" lengthAdjust="spacingAndGlyphs" fill="#151515" stroke="#151515" stroke-width="0.12">dephos.</text>
<text x="160.80" y="439.30" font-size="5.0" text-anchor="middle" textLength="9.6" lengthAdjust="spacingAndGlyphs" fill="#151515" stroke="#151515" stroke-width="0.12">joint</text>
<text x="160.80" y="445.50" font-size="5.0" text-anchor="middle" textLength="11.4" lengthAdjust="spacingAndGlyphs" fill="#151515" stroke="#151515" stroke-width="0.12">phos.</text>
<text x="0" y="0" font-size="5.0" text-anchor="middle" fill="#151515" transform="translate(90.51,418.70) rotate(45)">-2</text>
<text x="0" y="0" font-size="5.0" text-anchor="middle" textLength="14.0" lengthAdjust="spacingAndGlyphs" fill="#151515" transform="translate(78.29,406.49) rotate(45)">log f.c.</text>
<text x="0" y="0" font-size="5.0" text-anchor="middle" fill="#151515" transform="translate(62.31,390.51) rotate(45)">-5</text>
<text x="0" y="0" font-size="5.0" text-anchor="middle" fill="#151515" transform="translate(91.92,464.71) rotate(-45)">-2</text>
<text x="0" y="0" font-size="5.0" text-anchor="middle" textLength="14.0" lengthAdjust="spacingAndGlyphs" fill="#151515" transform="translate(79.70,476.93) rotate(-45)">log f.c.</text>
<text x="0" y="0" font-size="5.0" text-anchor="middle" fill="#151515" transform="translate(63.73,492.90) rotate(-45)">-5</text>
<text x="0" y="0" font-size="5.0" text-anchor="middle" fill="#151515" transform="translate(120.81,418.42) rotate(-45)">2</text>
<text x="0" y="0" font-size="5.0" text-anchor="middle" fill="#151515" transform="translate(130.21,409.02) rotate(-45)">3</text>
<text x="0" y="0" font-size="5.0" text-anchor="middle" fill="#151515" transform="translate(117.35,467.04) rotate(45)">2</text>
<text x="0" y="0" font-size="5.0" text-anchor="middle" fill="#151515" transform="translate(126.74,476.44) rotate(45)">3</text>
<text x="0" y="0" font-size="5.0" text-anchor="middle" fill="#151515" transform="translate(134.54,393.38) rotate(-45)">ALL22089</text>
<text x="0" y="0" font-size="5.0" text-anchor="middle" fill="#151515" transform="translate(138.65,398.33) rotate(-45)">FLT3L</text>
<text x="0" y="0" font-size="5.0" text-anchor="middle" fill="#151515" transform="translate(139.14,487.70) rotate(45)">ALL22089</text>
<text x="0" y="0" font-size="5.0" text-anchor="middle" fill="#151515" transform="translate(134.05,491.66) rotate(45)">PDGF–BB</text>
<circle cx="129.2" cy="427.9" r="1.65" fill="#a01020"/>
<circle cx="126.4" cy="434.8" r="1.65" fill="#a01020"/>
<circle cx="138.8" cy="466.3" r="1.65" fill="#a01020"/>
<text x="135.55" y="428.90" font-size="5.2" textLength="22.6" lengthAdjust="spacingAndGlyphs" fill="#151515" stroke="#151515" stroke-width="0.12">STMN1 25</text>
<text x="132.05" y="434.80" font-size="5.2" textLength="15.7" lengthAdjust="spacingAndGlyphs" fill="#151515" stroke="#151515" stroke-width="0.12">MAPK1</text>
<text x="130.65" y="439.70" font-size="5.2" textLength="18.5" lengthAdjust="spacingAndGlyphs" fill="#151515" stroke="#151515" stroke-width="0.12">181+187</text>
<text x="145.15" y="468.70" font-size="5.2" textLength="21.6" lengthAdjust="spacingAndGlyphs" fill="#151515" stroke="#151515" stroke-width="0.12">FGD3 128</text>
<clipPath id="pc5"><rect x="198.8" y="385.0" width="134" height="112"/></clipPath>
<g clip-path="url(#pc5)"><path d="M204.27,383.40L205.13,384.30L205.98,385.20L206.83,386.10L207.69,387.00L208.54,387.90L209.39,388.80L210.23,389.70L211.08,390.60L211.92,391.50L212.76,392.40L213.60,393.30L214.44,394.20L215.27,395.10L216.11,396.00L216.94,396.90L217.77,397.80L218.59,398.70L219.41,399.60L220.23,400.50L221.05,401.40L221.86,402.30L222.67,403.20L223.48,404.10L224.28,405.00L225.08,405.90L225.87,406.80L226.66,407.70L227.44,408.60L228.22,409.50L228.99,410.40L229.76,411.30L230.52,412.20L231.27,413.10L232.01,414.00L232.75,414.90L233.48,415.80L234.20,416.70L234.91,417.60L235.61,418.50L236.30,419.40L236.97,420.30L237.63,421.20L238.28,422.10L238.92,423.00L239.53,423.90L240.13,424.80L240.72,425.70L241.28,426.60L241.82,427.50L242.33,428.40L242.83,429.30L243.29,430.20L243.73,431.10L244.14,432.00L244.51,432.90L244.86,433.80L245.16,434.70L245.43,435.60L245.66,436.50L245.85,437.40L246.01,438.30L246.11,439.20L246.18,440.10L246.20,441.00L246.18,441.90L246.11,442.80L246.01,443.70L245.85,444.60L245.66,445.50L245.43,446.40L245.16,447.30L244.86,448.20L244.51,449.10L244.14,450.00L243.73,450.90L243.29,451.80L242.83,452.70L242.33,453.60L241.82,454.50L241.28,455.40L240.72,456.30L240.13,457.20L239.53,458.10L238.92,459.00L238.28,459.90L237.63,460.80L236.97,461.70L236.30,462.60L235.61,463.50L234.91,464.40L234.20,465.30L233.48,466.20L232.75,467.10L232.01,468.00L231.27,468.90L230.52,469.80L229.76,470.70L228.99,471.60L228.22,472.50L227.44,473.40L226.66,474.30L225.87,475.20L225.08,476.10L224.28,477.00L223.48,477.90L222.67,478.80L221.86,479.70L221.05,480.60L220.23,481.50L219.41,482.40L218.59,483.30L217.77,484.20L216.94,485.10L216.11,486.00L215.27,486.90L214.44,487.80L213.60,488.70L212.76,489.60L211.92,490.50L211.08,491.40L210.23,492.30L209.39,493.20L208.54,494.10L207.69,495.00L206.83,495.90L205.98,496.80L205.13,497.70L204.27,498.60" fill="none" stroke="#c62c55" stroke-width="1.2" stroke-dasharray="3.8 2.4"/><path d="M325.33,383.40L324.47,384.30L323.62,385.20L322.77,386.10L321.91,387.00L321.06,387.90L320.21,388.80L319.37,389.70L318.52,390.60L317.68,391.50L316.84,392.40L316.00,393.30L315.16,394.20L314.33,395.10L313.49,396.00L312.66,396.90L311.83,397.80L311.01,398.70L310.19,399.60L309.37,400.50L308.55,401.40L307.74,402.30L306.93,403.20L306.12,404.10L305.32,405.00L304.52,405.90L303.73,406.80L302.94,407.70L302.16,408.60L301.38,409.50L300.61,410.40L299.84,411.30L299.08,412.20L298.33,413.10L297.59,414.00L296.85,414.90L296.12,415.80L295.40,416.70L294.69,417.60L293.99,418.50L293.30,419.40L292.63,420.30L291.97,421.20L291.32,422.10L290.68,423.00L290.07,423.90L289.47,424.80L288.88,425.70L288.32,426.60L287.78,427.50L287.27,428.40L286.77,429.30L286.31,430.20L285.87,431.10L285.46,432.00L285.09,432.90L284.74,433.80L284.44,434.70L284.17,435.60L283.94,436.50L283.75,437.40L283.59,438.30L283.49,439.20L283.42,440.10L283.40,441.00L283.42,441.90L283.49,442.80L283.59,443.70L283.75,444.60L283.94,445.50L284.17,446.40L284.44,447.30L284.74,448.20L285.09,449.10L285.46,450.00L285.87,450.90L286.31,451.80L286.77,452.70L287.27,453.60L287.78,454.50L288.32,455.40L288.88,456.30L289.47,457.20L290.07,458.10L290.68,459.00L291.32,459.90L291.97,460.80L292.63,461.70L293.30,462.60L293.99,463.50L294.69,464.40L295.40,465.30L296.12,466.20L296.85,467.10L297.59,468.00L298.33,468.90L299.08,469.80L299.84,470.70L300.61,471.60L301.38,472.50L302.16,473.40L302.94,474.30L303.73,475.20L304.52,476.10L305.32,477.00L306.12,477.90L306.93,478.80L307.74,479.70L308.55,480.60L309.37,481.50L310.19,482.40L311.01,483.30L311.83,484.20L312.66,485.10L313.49,486.00L314.33,486.90L315.16,487.80L316.00,488.70L316.84,489.60L317.68,490.50L318.52,491.40L319.37,492.30L320.21,493.20L321.06,494.10L321.91,495.00L322.77,495.90L323.62,496.80L324.47,497.70L325.33,498.60" fill="none" stroke="#c62c55" stroke-width="1.2" stroke-dasharray="3.8 2.4"/></g>
<path d="M250.1,436.7L252.4,432.5L256.7,429.4L259.9,427.3L263.1,425.1L266.3,427.5L269.3,428.6L273.6,427.4L277.9,428.2L282.4,429.2L283.4,433.6L282.2,437.9L281.6,442.1L281.1,446.3L277.8,449.5L274.7,451.6L270.5,453.7L266.3,454.9L261.9,455.0L257.6,453.9L254.4,451.8L251.2,447.5L249.6,443.2Z" fill="#8a93c0" stroke="#8a93c0" stroke-width="1.2" stroke-linejoin="round"/>
<g fill="#8a93c0"><circle cx="250.3" cy="436.6" r="1.3"/><circle cx="251.2" cy="434.5" r="1.3"/><circle cx="252.0" cy="433.7" r="1.3"/><circle cx="252.6" cy="431.9" r="1.3"/><circle cx="253.5" cy="431.0" r="1.3"/><circle cx="255.0" cy="430.8" r="1.3"/><circle cx="256.7" cy="430.2" r="1.3"/><circle cx="258.4" cy="427.9" r="1.3"/><circle cx="260.1" cy="427.4" r="1.3"/><circle cx="260.8" cy="426.2" r="1.3"/><circle cx="262.2" cy="424.8" r="1.3"/><circle cx="264.7" cy="426.6" r="1.3"/><circle cx="267.1" cy="427.7" r="1.3"/><circle cx="267.0" cy="428.0" r="1.3"/><circle cx="268.9" cy="429.0" r="1.3"/><circle cx="272.2" cy="427.2" r="1.3"/><circle cx="274.1" cy="427.0" r="1.3"/><circle cx="275.2" cy="427.7" r="1.3"/><circle cx="277.8" cy="427.9" r="1.3"/><circle cx="279.7" cy="428.6" r="1.3"/><circle cx="282.8" cy="428.6" r="1.3"/><circle cx="282.7" cy="430.9" r="1.3"/><circle cx="283.8" cy="433.1" r="1.3"/><circle cx="283.2" cy="434.9" r="1.3"/><circle cx="282.8" cy="437.7" r="1.3"/><circle cx="282.7" cy="440.5" r="1.3"/><circle cx="282.2" cy="441.2" r="1.3"/><circle cx="281.8" cy="444.3" r="1.3"/><circle cx="281.8" cy="446.5" r="1.3"/><circle cx="279.2" cy="448.7" r="1.3"/><circle cx="278.7" cy="449.0" r="1.3"/><circle cx="275.6" cy="450.5" r="1.3"/><circle cx="275.0" cy="451.0" r="1.3"/><circle cx="272.8" cy="452.7" r="1.3"/><circle cx="271.0" cy="453.1" r="1.3"/><circle cx="267.7" cy="454.4" r="1.3"/><circle cx="266.7" cy="455.1" r="1.3"/><circle cx="264.5" cy="454.5" r="1.3"/><circle cx="261.1" cy="455.3" r="1.3"/><circle cx="260.0" cy="453.6" r="1.3"/><circle cx="256.9" cy="454.3" r="1.3"/><circle cx="256.3" cy="452.3" r="1.3"/><circle cx="254.0" cy="451.7" r="1.3"/><circle cx="252.5" cy="450.0" r="1.3"/><circle cx="251.8" cy="448.1" r="1.3"/><circle cx="251.2" cy="448.3" r="1.3"/><circle cx="249.6" cy="445.7" r="1.3"/><circle cx="249.8" cy="442.9" r="1.3"/><circle cx="250.0" cy="442.1" r="1.3"/><circle cx="249.4" cy="439.8" r="1.3"/><circle cx="250.2" cy="438.2" r="1.3"/></g>
<g fill="#8690c0"><circle cx="266.1" cy="426.6" r="1.42"/><circle cx="257.2" cy="453.7" r="1.42"/><circle cx="275.6" cy="428.2" r="1.42"/><circle cx="259.8" cy="425.8" r="1.42"/><circle cx="273.9" cy="459.7" r="1.42"/><circle cx="281.9" cy="425.7" r="1.42"/><circle cx="282.7" cy="436.4" r="1.42"/><circle cx="252.3" cy="449.4" r="1.42"/><circle cx="282.3" cy="447.6" r="1.42"/><circle cx="279.2" cy="450.9" r="1.42"/><circle cx="266.6" cy="425.7" r="1.42"/><circle cx="280.5" cy="426.8" r="1.42"/><circle cx="270.5" cy="453.1" r="1.42"/><circle cx="281.8" cy="429.2" r="1.42"/><circle cx="249.4" cy="438.5" r="1.42"/><circle cx="256.9" cy="431.0" r="1.42"/><circle cx="240.4" cy="455.0" r="1.42"/><circle cx="266.9" cy="422.7" r="1.42"/><circle cx="256.8" cy="453.8" r="1.42"/><circle cx="256.2" cy="428.5" r="1.42"/><circle cx="271.0" cy="454.0" r="1.42"/><circle cx="282.2" cy="429.0" r="1.42"/><circle cx="253.6" cy="450.1" r="1.42"/><circle cx="252.8" cy="431.5" r="1.42"/><circle cx="251.0" cy="447.1" r="1.42"/><circle cx="284.1" cy="429.2" r="1.42"/><circle cx="284.6" cy="446.4" r="1.42"/><circle cx="232.3" cy="434.0" r="1.42"/><circle cx="266.8" cy="425.0" r="1.42"/><circle cx="267.6" cy="456.1" r="1.42"/><circle cx="282.9" cy="436.7" r="1.42"/><circle cx="266.5" cy="426.2" r="1.42"/><circle cx="254.5" cy="452.0" r="1.42"/><circle cx="263.6" cy="420.5" r="1.42"/><circle cx="246.3" cy="433.6" r="1.42"/><circle cx="279.8" cy="449.2" r="1.42"/><circle cx="295.5" cy="424.9" r="1.42"/><circle cx="252.0" cy="451.7" r="1.42"/><circle cx="264.3" cy="454.7" r="1.42"/><circle cx="270.7" cy="426.3" r="1.42"/><circle cx="271.8" cy="453.4" r="1.42"/><circle cx="281.1" cy="448.0" r="1.42"/><circle cx="249.5" cy="443.0" r="1.42"/><circle cx="279.6" cy="448.3" r="1.42"/><circle cx="280.2" cy="428.4" r="1.42"/><circle cx="267.9" cy="425.1" r="1.42"/><circle cx="260.1" cy="455.2" r="1.42"/><circle cx="247.3" cy="437.2" r="1.42"/><circle cx="287.6" cy="426.9" r="1.42"/><circle cx="283.0" cy="431.3" r="1.42"/><circle cx="242.6" cy="451.9" r="1.42"/><circle cx="244.7" cy="446.0" r="1.42"/><circle cx="273.8" cy="422.5" r="1.42"/><circle cx="277.3" cy="422.7" r="1.42"/><circle cx="274.9" cy="428.9" r="1.42"/><circle cx="256.3" cy="428.6" r="1.42"/><circle cx="253.6" cy="433.2" r="1.42"/><circle cx="290.6" cy="446.6" r="1.42"/><circle cx="247.9" cy="447.3" r="1.42"/><circle cx="265.8" cy="457.3" r="1.42"/><circle cx="263.1" cy="455.2" r="1.42"/><circle cx="286.9" cy="438.1" r="1.42"/><circle cx="278.9" cy="448.8" r="1.42"/><circle cx="248.9" cy="432.5" r="1.42"/><circle cx="253.6" cy="427.4" r="1.42"/><circle cx="283.1" cy="443.7" r="1.42"/><circle cx="255.6" cy="452.9" r="1.42"/><circle cx="251.9" cy="430.8" r="1.42"/><circle cx="283.3" cy="429.9" r="1.42"/><circle cx="257.9" cy="426.8" r="1.42"/><circle cx="276.6" cy="425.5" r="1.42"/><circle cx="283.6" cy="429.7" r="1.42"/><circle cx="267.7" cy="425.4" r="1.42"/><circle cx="287.8" cy="444.9" r="1.42"/><circle cx="270.8" cy="459.1" r="1.42"/><circle cx="276.3" cy="452.2" r="1.42"/><circle cx="260.6" cy="455.4" r="1.42"/><circle cx="281.8" cy="431.7" r="1.42"/><circle cx="249.1" cy="427.3" r="1.42"/><circle cx="258.0" cy="455.1" r="1.42"/><circle cx="251.7" cy="451.1" r="1.42"/><circle cx="276.0" cy="450.1" r="1.42"/><circle cx="255.3" cy="428.8" r="1.42"/><circle cx="277.8" cy="449.3" r="1.42"/><circle cx="264.2" cy="457.1" r="1.42"/><circle cx="283.2" cy="432.9" r="1.42"/><circle cx="238.4" cy="433.1" r="1.42"/><circle cx="273.9" cy="427.1" r="1.42"/><circle cx="282.8" cy="444.5" r="1.42"/><circle cx="257.1" cy="430.1" r="1.42"/><circle cx="249.7" cy="447.6" r="1.42"/><circle cx="268.5" cy="454.5" r="1.42"/><circle cx="262.1" cy="456.0" r="1.42"/><circle cx="284.9" cy="439.4" r="1.42"/><circle cx="265.7" cy="459.6" r="1.42"/><circle cx="283.4" cy="432.9" r="1.42"/><circle cx="246.8" cy="443.0" r="1.42"/><circle cx="246.7" cy="437.0" r="1.42"/><circle cx="250.4" cy="437.3" r="1.42"/><circle cx="262.6" cy="426.4" r="1.42"/><circle cx="262.1" cy="426.3" r="1.42"/><circle cx="290.5" cy="437.9" r="1.42"/><circle cx="266.6" cy="426.2" r="1.42"/><circle cx="282.8" cy="450.7" r="1.42"/><circle cx="290.1" cy="427.1" r="1.42"/><circle cx="282.3" cy="430.5" r="1.42"/><circle cx="266.6" cy="458.1" r="1.42"/><circle cx="282.7" cy="440.2" r="1.42"/><circle cx="256.6" cy="456.5" r="1.42"/><circle cx="275.0" cy="426.5" r="1.42"/></g>
<g fill="#7c87bd"><circle cx="257.5" cy="418.1" r="1.45"/><circle cx="268.5" cy="416.9" r="1.45"/><circle cx="269.6" cy="418.1" r="1.45"/><circle cx="271.9" cy="421.5" r="1.45"/><circle cx="281.2" cy="411.2" r="1.45"/><circle cx="283.5" cy="420.4" r="1.45"/><circle cx="243.7" cy="425.0" r="1.45"/><circle cx="250.0" cy="429.6" r="1.45"/><circle cx="240.2" cy="444.6" r="1.45"/><circle cx="238.5" cy="448.1" r="1.45"/><circle cx="236.7" cy="453.8" r="1.45"/><circle cx="247.7" cy="456.2" r="1.45"/><circle cx="248.8" cy="460.8" r="1.45"/><circle cx="253.5" cy="459.6" r="1.45"/><circle cx="261.5" cy="460.8" r="1.45"/><circle cx="268.5" cy="464.2" r="1.45"/><circle cx="273.1" cy="465.4" r="1.45"/><circle cx="276.5" cy="459.6" r="1.45"/><circle cx="281.2" cy="460.8" r="1.45"/><circle cx="290.4" cy="446.3" r="1.45"/><circle cx="283.5" cy="456.2" r="1.45"/><circle cx="293.8" cy="455.0" r="1.45"/><circle cx="294.4" cy="403.5" r="1.45"/><circle cx="298.7" cy="411.2" r="1.45"/><circle cx="284.0" cy="483.1" r="1.45"/><circle cx="284.9" cy="471.8" r="1.45"/><circle cx="246.0" cy="433.0" r="1.45"/><circle cx="247.0" cy="439.0" r="1.45"/><circle cx="286.0" cy="440.0" r="1.45"/></g>
<g stroke="#1a1a1a" stroke-width="1.15" fill="none">
<line x1="202.8" y1="441.0" x2="327.3" y2="441.0" stroke-width="0.95" stroke="#2a2a2a"/>
<line x1="211.3" y1="494.5" x2="315.3" y2="390.5"/>
<line x1="211.60000000000002" y1="387.8" x2="315.3" y2="491.5"/>
<path d="M272.61,430.01L275.79,433.19M253.81,448.81L256.99,451.99M272.61,451.99L275.79,448.81M253.81,433.19L256.99,430.01M282.01,420.61L285.19,423.79M244.41,458.21L247.59,461.39M282.01,461.39L285.19,458.21M244.41,423.79L247.59,420.61M291.41,411.21L294.59,414.39M235.01,467.61L238.19,470.79M291.41,470.79L294.59,467.61M235.01,414.39L238.19,411.21M300.81,401.81L303.99,404.99M225.61,477.01L228.79,480.19M300.81,480.19L303.99,477.01M225.61,404.99L228.79,401.81M310.21,392.41L313.39,395.59M216.21,486.41L219.39,489.59M310.21,489.59L313.39,486.41M216.21,395.59L219.39,392.41"/>
</g>
<path d="M197.80,441.00L203.80,438.05L203.20,441.00L203.80,443.95Z" fill="#1a1a1a"/>
<path d="M332.10,441.00L326.10,443.95L326.70,441.00L326.10,438.05Z" fill="#1a1a1a"/>
<path d="M318.80,387.40L316.64,393.73L314.98,391.22L312.47,389.56Z" fill="#1a1a1a"/>
<path d="M318.80,495.00L312.47,492.84L314.98,491.18L316.64,488.67Z" fill="#1a1a1a"/>
<text x="213.80" y="439.30" font-size="5.0" text-anchor="middle" textLength="9.6" lengthAdjust="spacingAndGlyphs" fill="#151515" stroke="#151515" stroke-width="0.12">joint</text>
<text x="213.70" y="445.50" font-size="5.0" text-anchor="middle" textLength="16.4" lengthAdjust="spacingAndGlyphs" fill="#151515" stroke="#151515" stroke-width="0.12">dephos.</text>
<text x="319.80" y="439.30" font-size="5.0" text-anchor="middle" textLength="9.6" lengthAdjust="spacingAndGlyphs" fill="#151515" stroke="#151515" stroke-width="0.12">joint</text>
<text x="319.80" y="445.50" font-size="5.0" text-anchor="middle" textLength="11.4" lengthAdjust="spacingAndGlyphs" fill="#151515" stroke="#151515" stroke-width="0.12">phos.</text>
<text x="0" y="0" font-size="5.0" text-anchor="middle" fill="#151515" transform="translate(249.51,418.70) rotate(45)">-2</text>
<text x="0" y="0" font-size="5.0" text-anchor="middle" textLength="14.0" lengthAdjust="spacingAndGlyphs" fill="#151515" transform="translate(237.29,406.49) rotate(45)">log f.c.</text>
<text x="0" y="0" font-size="5.0" text-anchor="middle" fill="#151515" transform="translate(221.31,390.51) rotate(45)">-5</text>
<text x="0" y="0" font-size="5.0" text-anchor="middle" fill="#151515" transform="translate(250.92,464.71) rotate(-45)">-2</text>
<text x="0" y="0" font-size="5.0" text-anchor="middle" textLength="14.0" lengthAdjust="spacingAndGlyphs" fill="#151515" transform="translate(238.70,476.93) rotate(-45)">log f.c.</text>
<text x="0" y="0" font-size="5.0" text-anchor="middle" fill="#151515" transform="translate(222.73,492.90) rotate(-45)">-5</text>
<text x="0" y="0" font-size="5.0" text-anchor="middle" fill="#151515" transform="translate(279.81,418.42) rotate(-45)">2</text>
<text x="0" y="0" font-size="5.0" text-anchor="middle" fill="#151515" transform="translate(289.21,409.02) rotate(-45)">3</text>
<text x="0" y="0" font-size="5.0" text-anchor="middle" fill="#151515" transform="translate(276.35,467.04) rotate(45)">2</text>
<text x="0" y="0" font-size="5.0" text-anchor="middle" fill="#151515" transform="translate(285.74,476.44) rotate(45)">3</text>
<text x="0" y="0" font-size="5.0" text-anchor="middle" fill="#151515" transform="translate(293.54,393.38) rotate(-45)">ALL22089</text>
<text x="0" y="0" font-size="5.0" text-anchor="middle" fill="#151515" transform="translate(297.65,398.33) rotate(-45)">FLT3L</text>
<text x="0" y="0" font-size="5.0" text-anchor="middle" fill="#151515" transform="translate(298.14,487.70) rotate(45)">ALL22089</text>
<text x="0" y="0" font-size="5.0" text-anchor="middle" fill="#151515" transform="translate(293.05,491.66) rotate(45)">PDGF–BB</text>
<circle cx="299.8" cy="421.4" r="1.65" fill="#a01020"/>
<circle cx="241.9" cy="429.4" r="1.65" fill="#a01020"/>
<circle cx="237.3" cy="432.3" r="1.65" fill="#a01020"/>
<circle cx="286.7" cy="449.6" r="1.65" fill="#a01020"/>
<circle cx="299.8" cy="465.2" r="1.65" fill="#a01020"/>
<text x="307.55" y="418.50" font-size="5.2" textLength="11.7" lengthAdjust="spacingAndGlyphs" fill="#151515" stroke="#151515" stroke-width="0.12">PAK2</text>
<text x="305.25" y="423.80" font-size="5.2" textLength="17.5" lengthAdjust="spacingAndGlyphs" fill="#151515" stroke="#151515" stroke-width="0.12">141/143</text>
<text x="212.85" y="428.10" font-size="5.2" textLength="24.7" lengthAdjust="spacingAndGlyphs" fill="#151515" stroke="#151515" stroke-width="0.12">FKBP15 956</text>
<text x="228.95" y="438.80" font-size="5.2" textLength="19.8" lengthAdjust="spacingAndGlyphs" fill="#151515" stroke="#151515" stroke-width="0.12">HSPB1 P15</text>
<text x="293.35" y="451.90" font-size="5.2" textLength="24.7" lengthAdjust="spacingAndGlyphs" fill="#151515" stroke="#151515" stroke-width="0.12">MAPK1 187</text>
<text x="304.55" y="466.90" font-size="5.2" textLength="21.0" lengthAdjust="spacingAndGlyphs" fill="#151515" stroke="#151515" stroke-width="0.12">FGD3 128</text>
<clipPath id="pc6"><rect x="357.8" y="385.0" width="134" height="112"/></clipPath>
<g clip-path="url(#pc6)"><path d="M363.27,383.40L364.13,384.30L364.98,385.20L365.83,386.10L366.69,387.00L367.54,387.90L368.39,388.80L369.23,389.70L370.08,390.60L370.92,391.50L371.76,392.40L372.60,393.30L373.44,394.20L374.27,395.10L375.11,396.00L375.94,396.90L376.77,397.80L377.59,398.70L378.41,399.60L379.23,400.50L380.05,401.40L380.86,402.30L381.67,403.20L382.48,404.10L383.28,405.00L384.08,405.90L384.87,406.80L385.66,407.70L386.44,408.60L387.22,409.50L387.99,410.40L388.76,411.30L389.52,412.20L390.27,413.10L391.01,414.00L391.75,414.90L392.48,415.80L393.20,416.70L393.91,417.60L394.61,418.50L395.30,419.40L395.97,420.30L396.63,421.20L397.28,422.10L397.92,423.00L398.53,423.90L399.13,424.80L399.72,425.70L400.28,426.60L400.82,427.50L401.33,428.40L401.83,429.30L402.29,430.20L402.73,431.10L403.14,432.00L403.51,432.90L403.86,433.80L404.16,434.70L404.43,435.60L404.66,436.50L404.85,437.40L405.01,438.30L405.11,439.20L405.18,440.10L405.20,441.00L405.18,441.90L405.11,442.80L405.01,443.70L404.85,444.60L404.66,445.50L404.43,446.40L404.16,447.30L403.86,448.20L403.51,449.10L403.14,450.00L402.73,450.90L402.29,451.80L401.83,452.70L401.33,453.60L400.82,454.50L400.28,455.40L399.72,456.30L399.13,457.20L398.53,458.10L397.92,459.00L397.28,459.90L396.63,460.80L395.97,461.70L395.30,462.60L394.61,463.50L393.91,464.40L393.20,465.30L392.48,466.20L391.75,467.10L391.01,468.00L390.27,468.90L389.52,469.80L388.76,470.70L387.99,471.60L387.22,472.50L386.44,473.40L385.66,474.30L384.87,475.20L384.08,476.10L383.28,477.00L382.48,477.90L381.67,478.80L380.86,479.70L380.05,480.60L379.23,481.50L378.41,482.40L377.59,483.30L376.77,484.20L375.94,485.10L375.11,486.00L374.27,486.90L373.44,487.80L372.60,488.70L371.76,489.60L370.92,490.50L370.08,491.40L369.23,492.30L368.39,493.20L367.54,494.10L366.69,495.00L365.83,495.90L364.98,496.80L364.13,497.70L363.27,498.60" fill="none" stroke="#c62c55" stroke-width="1.2" stroke-dasharray="3.8 2.4"/><path d="M484.33,383.40L483.47,384.30L482.62,385.20L481.77,386.10L480.91,387.00L480.06,387.90L479.21,388.80L478.37,389.70L477.52,390.60L476.68,391.50L475.84,392.40L475.00,393.30L474.16,394.20L473.33,395.10L472.49,396.00L471.66,396.90L470.83,397.80L470.01,398.70L469.19,399.60L468.37,400.50L467.55,401.40L466.74,402.30L465.93,403.20L465.12,404.10L464.32,405.00L463.52,405.90L462.73,406.80L461.94,407.70L461.16,408.60L460.38,409.50L459.61,410.40L458.84,411.30L458.08,412.20L457.33,413.10L456.59,414.00L455.85,414.90L455.12,415.80L454.40,416.70L453.69,417.60L452.99,418.50L452.30,419.40L451.63,420.30L450.97,421.20L450.32,422.10L449.68,423.00L449.07,423.90L448.47,424.80L447.88,425.70L447.32,426.60L446.78,427.50L446.27,428.40L445.77,429.30L445.31,430.20L444.87,431.10L444.46,432.00L444.09,432.90L443.74,433.80L443.44,434.70L443.17,435.60L442.94,436.50L442.75,437.40L442.59,438.30L442.49,439.20L442.42,440.10L442.40,441.00L442.42,441.90L442.49,442.80L442.59,443.70L442.75,444.60L442.94,445.50L443.17,446.40L443.44,447.30L443.74,448.20L444.09,449.10L444.46,450.00L444.87,450.90L445.31,451.80L445.77,452.70L446.27,453.60L446.78,454.50L447.32,455.40L447.88,456.30L448.47,457.20L449.07,458.10L449.68,459.00L450.32,459.90L450.97,460.80L451.63,461.70L452.30,462.60L452.99,463.50L453.69,464.40L454.40,465.30L455.12,466.20L455.85,467.10L456.59,468.00L457.33,468.90L458.08,469.80L458.84,470.70L459.61,471.60L460.38,472.50L461.16,473.40L461.94,474.30L462.73,475.20L463.52,476.10L464.32,477.00L465.12,477.90L465.93,478.80L466.74,479.70L467.55,480.60L468.37,481.50L469.19,482.40L470.01,483.30L470.83,484.20L471.66,485.10L472.49,486.00L473.33,486.90L474.16,487.80L475.00,488.70L475.84,489.60L476.68,490.50L477.52,491.40L478.37,492.30L479.21,493.20L480.06,494.10L480.91,495.00L481.77,495.90L482.62,496.80L483.47,497.70L484.33,498.60" fill="none" stroke="#c62c55" stroke-width="1.2" stroke-dasharray="3.8 2.4"/></g>
<path d="M406.7,434.5L407.7,430.2L411.0,428.1L416.5,426.7L421.8,428.0L426.0,428.0L430.2,428.4L434.4,429.4L437.7,431.4L439.9,434.5L440.4,438.8L439.9,443.1L437.7,446.3L434.5,449.5L430.2,451.5L426.0,452.5L421.7,452.0L417.6,449.9L413.3,447.3L408.9,444.2L406.7,439.9Z" fill="#8a93c0" stroke="#8a93c0" stroke-width="1.2" stroke-linejoin="round"/>
<g fill="#8a93c0"><circle cx="406.3" cy="434.5" r="1.3"/><circle cx="406.4" cy="432.1" r="1.3"/><circle cx="406.9" cy="429.3" r="1.3"/><circle cx="408.9" cy="428.5" r="1.3"/><circle cx="410.7" cy="428.6" r="1.3"/><circle cx="412.0" cy="427.9" r="1.3"/><circle cx="414.0" cy="427.7" r="1.3"/><circle cx="416.9" cy="426.2" r="1.3"/><circle cx="418.9" cy="427.5" r="1.3"/><circle cx="419.3" cy="427.4" r="1.3"/><circle cx="422.2" cy="428.7" r="1.3"/><circle cx="423.3" cy="427.5" r="1.3"/><circle cx="426.5" cy="428.8" r="1.3"/><circle cx="427.3" cy="427.5" r="1.3"/><circle cx="430.6" cy="428.1" r="1.3"/><circle cx="432.1" cy="429.6" r="1.3"/><circle cx="434.9" cy="429.7" r="1.3"/><circle cx="436.7" cy="430.8" r="1.3"/><circle cx="438.2" cy="431.7" r="1.3"/><circle cx="439.0" cy="432.2" r="1.3"/><circle cx="440.7" cy="435.3" r="1.3"/><circle cx="439.9" cy="436.9" r="1.3"/><circle cx="439.5" cy="438.8" r="1.3"/><circle cx="440.4" cy="440.6" r="1.3"/><circle cx="439.8" cy="443.8" r="1.3"/><circle cx="438.2" cy="444.6" r="1.3"/><circle cx="436.9" cy="446.1" r="1.3"/><circle cx="436.8" cy="448.1" r="1.3"/><circle cx="433.7" cy="450.1" r="1.3"/><circle cx="432.7" cy="450.5" r="1.3"/><circle cx="429.9" cy="451.2" r="1.3"/><circle cx="427.6" cy="452.2" r="1.3"/><circle cx="425.2" cy="453.3" r="1.3"/><circle cx="423.2" cy="452.5" r="1.3"/><circle cx="421.9" cy="451.8" r="1.3"/><circle cx="419.3" cy="450.8" r="1.3"/><circle cx="417.3" cy="450.7" r="1.3"/><circle cx="416.4" cy="449.1" r="1.3"/><circle cx="415.0" cy="448.2" r="1.3"/><circle cx="412.7" cy="446.4" r="1.3"/><circle cx="412.7" cy="446.9" r="1.3"/><circle cx="409.7" cy="445.4" r="1.3"/><circle cx="409.4" cy="444.9" r="1.3"/><circle cx="407.4" cy="442.1" r="1.3"/><circle cx="407.2" cy="441.5" r="1.3"/><circle cx="405.9" cy="440.3" r="1.3"/><circle cx="407.1" cy="438.0" r="1.3"/><circle cx="407.3" cy="436.1" r="1.3"/></g>
<g fill="#8690c0"><circle cx="438.7" cy="432.9" r="1.42"/><circle cx="406.1" cy="434.2" r="1.42"/><circle cx="436.1" cy="430.3" r="1.42"/><circle cx="434.5" cy="449.8" r="1.42"/><circle cx="410.1" cy="427.7" r="1.42"/><circle cx="410.7" cy="445.9" r="1.42"/><circle cx="406.2" cy="429.7" r="1.42"/><circle cx="443.7" cy="443.4" r="1.42"/><circle cx="410.0" cy="428.9" r="1.42"/><circle cx="436.8" cy="447.4" r="1.42"/><circle cx="438.4" cy="445.4" r="1.42"/><circle cx="441.2" cy="440.1" r="1.42"/><circle cx="408.6" cy="447.0" r="1.42"/><circle cx="414.2" cy="450.2" r="1.42"/><circle cx="405.6" cy="430.2" r="1.42"/><circle cx="415.3" cy="447.6" r="1.42"/><circle cx="409.4" cy="444.3" r="1.42"/><circle cx="417.0" cy="423.9" r="1.42"/><circle cx="445.8" cy="440.2" r="1.42"/><circle cx="443.5" cy="432.5" r="1.42"/><circle cx="415.5" cy="450.4" r="1.42"/><circle cx="406.0" cy="442.7" r="1.42"/><circle cx="417.0" cy="425.4" r="1.42"/><circle cx="419.0" cy="458.1" r="1.42"/><circle cx="420.3" cy="450.0" r="1.42"/><circle cx="429.4" cy="426.1" r="1.42"/><circle cx="438.4" cy="429.6" r="1.42"/><circle cx="439.4" cy="443.5" r="1.42"/><circle cx="433.8" cy="429.4" r="1.42"/><circle cx="406.2" cy="436.4" r="1.42"/><circle cx="409.5" cy="444.9" r="1.42"/><circle cx="421.3" cy="428.2" r="1.42"/><circle cx="438.5" cy="433.2" r="1.42"/><circle cx="438.1" cy="445.7" r="1.42"/><circle cx="439.0" cy="451.6" r="1.42"/><circle cx="423.4" cy="427.2" r="1.42"/><circle cx="436.5" cy="431.9" r="1.42"/><circle cx="401.5" cy="433.2" r="1.42"/><circle cx="404.8" cy="431.1" r="1.42"/><circle cx="419.6" cy="451.3" r="1.42"/><circle cx="443.3" cy="434.6" r="1.42"/><circle cx="420.0" cy="428.6" r="1.42"/><circle cx="438.3" cy="445.9" r="1.42"/><circle cx="440.9" cy="437.3" r="1.42"/><circle cx="395.4" cy="430.1" r="1.42"/><circle cx="414.3" cy="447.6" r="1.42"/><circle cx="435.0" cy="428.2" r="1.42"/><circle cx="438.1" cy="431.8" r="1.42"/><circle cx="436.9" cy="427.2" r="1.42"/><circle cx="446.2" cy="438.4" r="1.42"/><circle cx="417.8" cy="448.7" r="1.42"/><circle cx="436.2" cy="427.1" r="1.42"/><circle cx="420.3" cy="450.3" r="1.42"/><circle cx="409.2" cy="447.2" r="1.42"/><circle cx="438.9" cy="427.7" r="1.42"/><circle cx="406.4" cy="436.1" r="1.42"/><circle cx="423.6" cy="460.4" r="1.42"/><circle cx="435.3" cy="453.5" r="1.42"/><circle cx="413.9" cy="449.0" r="1.42"/><circle cx="444.3" cy="442.8" r="1.42"/><circle cx="424.7" cy="457.5" r="1.42"/><circle cx="448.3" cy="445.3" r="1.42"/><circle cx="433.3" cy="450.3" r="1.42"/><circle cx="406.7" cy="444.3" r="1.42"/><circle cx="427.4" cy="455.8" r="1.42"/><circle cx="424.3" cy="456.9" r="1.42"/><circle cx="437.3" cy="445.1" r="1.42"/><circle cx="407.3" cy="431.2" r="1.42"/><circle cx="428.7" cy="451.6" r="1.42"/><circle cx="437.6" cy="426.4" r="1.42"/><circle cx="421.2" cy="426.9" r="1.42"/><circle cx="416.8" cy="451.3" r="1.42"/><circle cx="437.0" cy="446.0" r="1.42"/><circle cx="414.1" cy="451.1" r="1.42"/><circle cx="420.1" cy="450.9" r="1.42"/><circle cx="421.9" cy="453.8" r="1.42"/><circle cx="428.7" cy="426.3" r="1.42"/><circle cx="414.9" cy="448.4" r="1.42"/><circle cx="402.1" cy="430.7" r="1.42"/><circle cx="407.2" cy="431.1" r="1.42"/></g>
<g fill="#7c87bd"><circle cx="402.5" cy="412.3" r="1.45"/><circle cx="418.1" cy="422.1" r="1.45"/><circle cx="415.2" cy="424.4" r="1.45"/><circle cx="401.9" cy="428.5" r="1.45"/><circle cx="400.2" cy="433.1" r="1.45"/><circle cx="399.6" cy="437.7" r="1.45"/><circle cx="408.8" cy="446.9" r="1.45"/><circle cx="397.3" cy="454.4" r="1.45"/><circle cx="409.4" cy="464.2" r="1.45"/><circle cx="420.4" cy="459.6" r="1.45"/><circle cx="430.8" cy="416.3" r="1.45"/><circle cx="433.1" cy="421.5" r="1.45"/><circle cx="443.5" cy="414.0" r="1.45"/><circle cx="437.7" cy="425.0" r="1.45"/><circle cx="435.4" cy="460.8" r="1.45"/><circle cx="442.3" cy="463.1" r="1.45"/><circle cx="443.5" cy="467.7" r="1.45"/><circle cx="442.9" cy="448.1" r="1.45"/><circle cx="452.7" cy="450.4" r="1.45"/><circle cx="456.2" cy="477.0" r="1.45"/><circle cx="466.0" cy="406.0" r="1.45"/></g>
<g stroke="#1a1a1a" stroke-width="1.15" fill="none">
<line x1="361.8" y1="441.0" x2="486.3" y2="441.0" stroke-width="0.95" stroke="#2a2a2a"/>
<line x1="370.3" y1="494.5" x2="474.3" y2="390.5"/>
<line x1="370.6" y1="387.8" x2="474.3" y2="491.5"/>
<path d="M431.61,430.01L434.79,433.19M412.81,448.81L415.99,451.99M431.61,451.99L434.79,448.81M412.81,433.19L415.99,430.01M441.01,420.61L444.19,423.79M403.41,458.21L406.59,461.39M441.01,461.39L444.19,458.21M403.41,423.79L406.59,420.61M450.41,411.21L453.59,414.39M394.01,467.61L397.19,470.79M450.41,470.79L453.59,467.61M394.01,414.39L397.19,411.21M459.81,401.81L462.99,404.99M384.61,477.01L387.79,480.19M459.81,480.19L462.99,477.01M384.61,404.99L387.79,401.81M469.21,392.41L472.39,395.59M375.21,486.41L378.39,489.59M469.21,489.59L472.39,486.41M375.21,395.59L378.39,392.41"/>
</g>
<path d="M356.80,441.00L362.80,438.05L362.20,441.00L362.80,443.95Z" fill="#1a1a1a"/>
<path d="M491.10,441.00L485.10,443.95L485.70,441.00L485.10,438.05Z" fill="#1a1a1a"/>
<path d="M477.80,387.40L475.64,393.73L473.98,391.22L471.47,389.56Z" fill="#1a1a1a"/>
<path d="M477.80,495.00L471.47,492.84L473.98,491.18L475.64,488.67Z" fill="#1a1a1a"/>
<text x="372.80" y="439.30" font-size="5.0" text-anchor="middle" textLength="9.6" lengthAdjust="spacingAndGlyphs" fill="#151515" stroke="#151515" stroke-width="0.12">joint</text>
<text x="372.70" y="445.50" font-size="5.0" text-anchor="middle" textLength="16.4" lengthAdjust="spacingAndGlyphs" fill="#151515" stroke="#151515" stroke-width="0.12">dephos.</text>
<text x="478.80" y="439.30" font-size="5.0" text-anchor="middle" textLength="9.6" lengthAdjust="spacingAndGlyphs" fill="#151515" stroke="#151515" stroke-width="0.12">joint</text>
<text x="478.80" y="445.50" font-size="5.0" text-anchor="middle" textLength="11.4" lengthAdjust="spacingAndGlyphs" fill="#151515" stroke="#151515" stroke-width="0.12">phos.</text>
<text x="0" y="0" font-size="5.0" text-anchor="middle" fill="#151515" transform="translate(408.51,418.70) rotate(45)">-2</text>
<text x="0" y="0" font-size="5.0" text-anchor="middle" textLength="14.0" lengthAdjust="spacingAndGlyphs" fill="#151515" transform="translate(396.29,406.49) rotate(45)">log f.c.</text>
<text x="0" y="0" font-size="5.0" text-anchor="middle" fill="#151515" transform="translate(380.31,390.51) rotate(45)">-5</text>
<text x="0" y="0" font-size="5.0" text-anchor="middle" fill="#151515" transform="translate(409.92,464.71) rotate(-45)">-2</text>
<text x="0" y="0" font-size="5.0" text-anchor="middle" textLength="14.0" lengthAdjust="spacingAndGlyphs" fill="#151515" transform="translate(397.70,476.93) rotate(-45)">log f.c.</text>
<text x="0" y="0" font-size="5.0" text-anchor="middle" fill="#151515" transform="translate(381.73,492.90) rotate(-45)">-5</text>
<text x="0" y="0" font-size="5.0" text-anchor="middle" fill="#151515" transform="translate(438.81,418.42) rotate(-45)">2</text>
<text x="0" y="0" font-size="5.0" text-anchor="middle" fill="#151515" transform="translate(448.21,409.02) rotate(-45)">3</text>
<text x="0" y="0" font-size="5.0" text-anchor="middle" fill="#151515" transform="translate(435.35,467.04) rotate(45)">2</text>
<text x="0" y="0" font-size="5.0" text-anchor="middle" fill="#151515" transform="translate(444.74,476.44) rotate(45)">3</text>
<text x="0" y="0" font-size="5.0" text-anchor="middle" fill="#151515" transform="translate(452.54,393.38) rotate(-45)">ALL22089</text>
<text x="0" y="0" font-size="5.0" text-anchor="middle" fill="#151515" transform="translate(456.65,398.33) rotate(-45)">FLT3L</text>
<text x="0" y="0" font-size="5.0" text-anchor="middle" fill="#151515" transform="translate(457.14,487.70) rotate(45)">ALL22089</text>
<text x="0" y="0" font-size="5.0" text-anchor="middle" fill="#151515" transform="translate(452.05,491.66) rotate(45)">PDGF–BB</text>
<circle cx="397.6" cy="428.7" r="1.65" fill="#a01020"/>
<circle cx="444.3" cy="435.3" r="1.65" fill="#a01020"/>
<circle cx="444.3" cy="437.0" r="1.65" fill="#a01020"/>
<circle cx="448.4" cy="437.7" r="1.65" fill="#a01020"/>
<circle cx="447.6" cy="448.0" r="1.65" fill="#a01020"/>
<circle cx="461.5" cy="464.9" r="1.65" fill="#a01020"/>
<text x="379.50" y="425.50" font-size="5.2" textLength="16.65" lengthAdjust="spacingAndGlyphs" fill="#151515" stroke="#151515" stroke-width="0.12">FKBP15</text>
<text x="383.25" y="430.70" font-size="5.2" textLength="8.9" lengthAdjust="spacingAndGlyphs" fill="#151515" stroke="#151515" stroke-width="0.12">956</text>
<text x="449.75" y="428.30" font-size="5.2" textLength="11.3" lengthAdjust="spacingAndGlyphs" fill="#151515" stroke="#151515" stroke-width="0.12">PAK2</text>
<text x="447.05" y="433.50" font-size="5.2" textLength="17.4" lengthAdjust="spacingAndGlyphs" fill="#151515" stroke="#151515" stroke-width="0.12">141/143</text>
<text x="452.25" y="439.00" font-size="5.2" textLength="12.6" lengthAdjust="spacingAndGlyphs" fill="#151515" stroke="#151515" stroke-width="0.12">MAP4</text>
<text x="449.75" y="446.30" font-size="5.2" textLength="18.2" lengthAdjust="spacingAndGlyphs" fill="#151515" stroke="#151515" stroke-width="0.12">927/928</text>
<text x="449.05" y="453.90" font-size="5.2" textLength="25.1" lengthAdjust="spacingAndGlyphs" fill="#151515" stroke="#151515" stroke-width="0.12">MAPK1 187</text>
<text x="463.25" y="467.80" font-size="5.2" textLength="21.7" lengthAdjust="spacingAndGlyphs" fill="#151515" stroke="#151515" stroke-width="0.12">FGD3 128</text>
<text x="418.95" y="436.60" font-size="5.2" textLength="14.4" lengthAdjust="spacingAndGlyphs" fill="#151515" stroke="#151515" stroke-width="0.12">MAPK1</text>
<text x="417.85" y="442.00" font-size="5.2" textLength="18.4" lengthAdjust="spacingAndGlyphs" fill="#151515" stroke="#151515" stroke-width="0.12">181+187</text>
<clipPath id="pc7"><rect x="39.8" y="503.20000000000005" width="134" height="112"/></clipPath>
<g clip-path="url(#pc7)"><path d="M45.27,501.60L46.13,502.50L46.98,503.40L47.83,504.30L48.69,505.20L49.54,506.10L50.39,507.00L51.23,507.90L52.08,508.80L52.92,509.70L53.76,510.60L54.60,511.50L55.44,512.40L56.27,513.30L57.11,514.20L57.94,515.10L58.77,516.00L59.59,516.90L60.41,517.80L61.23,518.70L62.05,519.60L62.86,520.50L63.67,521.40L64.48,522.30L65.28,523.20L66.08,524.10L66.87,525.00L67.66,525.90L68.44,526.80L69.22,527.70L69.99,528.60L70.76,529.50L71.52,530.40L72.27,531.30L73.01,532.20L73.75,533.10L74.48,534.00L75.20,534.90L75.91,535.80L76.61,536.70L77.30,537.60L77.97,538.50L78.63,539.40L79.28,540.30L79.92,541.20L80.53,542.10L81.13,543.00L81.72,543.90L82.28,544.80L82.82,545.70L83.33,546.60L83.83,547.50L84.29,548.40L84.73,549.30L85.14,550.20L85.51,551.10L85.86,552.00L86.16,552.90L86.43,553.80L86.66,554.70L86.85,555.60L87.01,556.50L87.11,557.40L87.18,558.30L87.20,559.20L87.18,560.10L87.11,561.00L87.01,561.90L86.85,562.80L86.66,563.70L86.43,564.60L86.16,565.50L85.86,566.40L85.51,567.30L85.14,568.20L84.73,569.10L84.29,570.00L83.83,570.90L83.33,571.80L82.82,572.70L82.28,573.60L81.72,574.50L81.13,575.40L80.53,576.30L79.92,577.20L79.28,578.10L78.63,579.00L77.97,579.90L77.30,580.80L76.61,581.70L75.91,582.60L75.20,583.50L74.48,584.40L73.75,585.30L73.01,586.20L72.27,587.10L71.52,588.00L70.76,588.90L69.99,589.80L69.22,590.70L68.44,591.60L67.66,592.50L66.87,593.40L66.08,594.30L65.28,595.20L64.48,596.10L63.67,597.00L62.86,597.90L62.05,598.80L61.23,599.70L60.41,600.60L59.59,601.50L58.77,602.40L57.94,603.30L57.11,604.20L56.27,605.10L55.44,606.00L54.60,606.90L53.76,607.80L52.92,608.70L52.08,609.60L51.23,610.50L50.39,611.40L49.54,612.30L48.69,613.20L47.83,614.10L46.98,615.00L46.13,615.90L45.27,616.80" fill="none" stroke="#c62c55" stroke-width="1.2" stroke-dasharray="3.8 2.4"/><path d="M166.33,501.60L165.47,502.50L164.62,503.40L163.77,504.30L162.91,505.20L162.06,506.10L161.21,507.00L160.37,507.90L159.52,508.80L158.68,509.70L157.84,510.60L157.00,511.50L156.16,512.40L155.33,513.30L154.49,514.20L153.66,515.10L152.83,516.00L152.01,516.90L151.19,517.80L150.37,518.70L149.55,519.60L148.74,520.50L147.93,521.40L147.12,522.30L146.32,523.20L145.52,524.10L144.73,525.00L143.94,525.90L143.16,526.80L142.38,527.70L141.61,528.60L140.84,529.50L140.08,530.40L139.33,531.30L138.59,532.20L137.85,533.10L137.12,534.00L136.40,534.90L135.69,535.80L134.99,536.70L134.30,537.60L133.63,538.50L132.97,539.40L132.32,540.30L131.68,541.20L131.07,542.10L130.47,543.00L129.88,543.90L129.32,544.80L128.78,545.70L128.27,546.60L127.77,547.50L127.31,548.40L126.87,549.30L126.46,550.20L126.09,551.10L125.74,552.00L125.44,552.90L125.17,553.80L124.94,554.70L124.75,555.60L124.59,556.50L124.49,557.40L124.42,558.30L124.40,559.20L124.42,560.10L124.49,561.00L124.59,561.90L124.75,562.80L124.94,563.70L125.17,564.60L125.44,565.50L125.74,566.40L126.09,567.30L126.46,568.20L126.87,569.10L127.31,570.00L127.77,570.90L128.27,571.80L128.78,572.70L129.32,573.60L129.88,574.50L130.47,575.40L131.07,576.30L131.68,577.20L132.32,578.10L132.97,579.00L133.63,579.90L134.30,580.80L134.99,581.70L135.69,582.60L136.40,583.50L137.12,584.40L137.85,585.30L138.59,586.20L139.33,587.10L140.08,588.00L140.84,588.90L141.61,589.80L142.38,590.70L143.16,591.60L143.94,592.50L144.73,593.40L145.52,594.30L146.32,595.20L147.12,596.10L147.93,597.00L148.74,597.90L149.55,598.80L150.37,599.70L151.19,600.60L152.01,601.50L152.83,602.40L153.66,603.30L154.49,604.20L155.33,605.10L156.16,606.00L157.00,606.90L157.84,607.80L158.68,608.70L159.52,609.60L160.37,610.50L161.21,611.40L162.06,612.30L162.91,613.20L163.77,614.10L164.62,615.00L165.47,615.90L166.33,616.80" fill="none" stroke="#c62c55" stroke-width="1.2" stroke-dasharray="3.8 2.4"/></g>
<path d="M88.0,559.4L88.5,557.2L93.1,556.3L98.7,554.9L101.8,553.6L105.6,552.1L109.7,550.7L114.0,549.9L118.4,550.3L123.0,551.3L124.7,552.3L122.3,554.5L117.1,557.8L113.6,560.9L111.6,563.8L109.6,565.8L105.6,566.2L101.6,568.0L97.3,568.8L92.8,568.4L89.6,566.3L87.4,563.2Z" fill="#8a93c0" stroke="#8a93c0" stroke-width="1.2" stroke-linejoin="round"/>
<g fill="#8a93c0"><circle cx="88.9" cy="558.5" r="1.3"/><circle cx="88.9" cy="557.2" r="1.3"/><circle cx="91.6" cy="556.6" r="1.3"/><circle cx="93.8" cy="555.6" r="1.3"/><circle cx="95.8" cy="555.6" r="1.3"/><circle cx="96.3" cy="555.1" r="1.3"/><circle cx="99.0" cy="554.0" r="1.3"/><circle cx="100.1" cy="553.3" r="1.3"/><circle cx="101.0" cy="553.0" r="1.3"/><circle cx="103.2" cy="552.4" r="1.3"/><circle cx="106.1" cy="551.9" r="1.3"/><circle cx="108.3" cy="552.1" r="1.3"/><circle cx="110.4" cy="551.5" r="1.3"/><circle cx="112.0" cy="550.6" r="1.3"/><circle cx="114.7" cy="550.0" r="1.3"/><circle cx="115.5" cy="550.1" r="1.3"/><circle cx="118.5" cy="549.7" r="1.3"/><circle cx="120.0" cy="550.2" r="1.3"/><circle cx="123.4" cy="551.9" r="1.3"/><circle cx="124.9" cy="552.2" r="1.3"/><circle cx="122.7" cy="552.5" r="1.3"/><circle cx="122.6" cy="554.6" r="1.3"/><circle cx="120.5" cy="555.0" r="1.3"/><circle cx="118.2" cy="556.1" r="1.3"/><circle cx="116.4" cy="558.0" r="1.3"/><circle cx="115.0" cy="559.4" r="1.3"/><circle cx="113.5" cy="561.0" r="1.3"/><circle cx="113.1" cy="562.8" r="1.3"/><circle cx="111.0" cy="564.6" r="1.3"/><circle cx="110.2" cy="566.4" r="1.3"/><circle cx="107.5" cy="566.8" r="1.3"/><circle cx="106.2" cy="565.7" r="1.3"/><circle cx="103.9" cy="567.7" r="1.3"/><circle cx="102.0" cy="568.7" r="1.3"/><circle cx="99.5" cy="568.7" r="1.3"/><circle cx="96.5" cy="569.1" r="1.3"/><circle cx="94.4" cy="569.0" r="1.3"/><circle cx="93.5" cy="568.2" r="1.3"/><circle cx="90.4" cy="566.5" r="1.3"/><circle cx="89.6" cy="565.7" r="1.3"/><circle cx="88.9" cy="565.0" r="1.3"/><circle cx="87.4" cy="563.5" r="1.3"/><circle cx="87.1" cy="561.2" r="1.3"/></g>
<g fill="#8690c0"><circle cx="89.1" cy="556.3" r="1.42"/><circle cx="114.6" cy="551.0" r="1.42"/><circle cx="92.6" cy="552.7" r="1.42"/><circle cx="88.4" cy="559.5" r="1.42"/><circle cx="120.1" cy="554.7" r="1.42"/><circle cx="117.5" cy="551.1" r="1.42"/><circle cx="125.7" cy="550.9" r="1.42"/><circle cx="84.8" cy="568.7" r="1.42"/><circle cx="90.3" cy="565.7" r="1.42"/><circle cx="113.8" cy="551.2" r="1.42"/><circle cx="90.7" cy="567.1" r="1.42"/><circle cx="108.4" cy="550.3" r="1.42"/><circle cx="123.0" cy="552.7" r="1.42"/><circle cx="94.7" cy="554.4" r="1.42"/><circle cx="102.3" cy="567.2" r="1.42"/><circle cx="98.1" cy="555.4" r="1.42"/><circle cx="97.4" cy="569.2" r="1.42"/><circle cx="109.9" cy="551.1" r="1.42"/><circle cx="101.8" cy="553.9" r="1.42"/><circle cx="99.8" cy="568.4" r="1.42"/><circle cx="107.8" cy="570.6" r="1.42"/><circle cx="114.6" cy="561.4" r="1.42"/><circle cx="125.9" cy="550.6" r="1.42"/><circle cx="100.8" cy="568.2" r="1.42"/><circle cx="108.9" cy="550.4" r="1.42"/><circle cx="89.7" cy="557.8" r="1.42"/><circle cx="111.6" cy="564.2" r="1.42"/><circle cx="87.9" cy="564.3" r="1.42"/><circle cx="122.4" cy="553.0" r="1.42"/><circle cx="111.7" cy="563.4" r="1.42"/><circle cx="112.4" cy="560.5" r="1.42"/><circle cx="99.8" cy="570.8" r="1.42"/><circle cx="86.2" cy="559.7" r="1.42"/><circle cx="99.3" cy="553.2" r="1.42"/><circle cx="104.7" cy="568.6" r="1.42"/><circle cx="115.7" cy="558.9" r="1.42"/><circle cx="96.4" cy="567.9" r="1.42"/><circle cx="116.7" cy="550.1" r="1.42"/><circle cx="88.2" cy="559.3" r="1.42"/><circle cx="124.0" cy="552.2" r="1.42"/></g>
<g fill="#7c87bd"><circle cx="115.5" cy="538.7" r="1.45"/><circle cx="102.2" cy="548.5" r="1.45"/><circle cx="87.2" cy="553.7" r="1.45"/><circle cx="79.7" cy="564.6" r="1.45"/><circle cx="83.8" cy="565.2" r="1.45"/><circle cx="104.0" cy="571.0" r="1.45"/><circle cx="104.5" cy="576.2" r="1.45"/><circle cx="120.7" cy="566.9" r="1.45"/><circle cx="122.4" cy="571.0" r="1.45"/><circle cx="128.8" cy="549.6" r="1.45"/><circle cx="123.6" cy="584.8" r="1.45"/><circle cx="129.9" cy="583.1" r="1.45"/><circle cx="122.4" cy="547.3" r="1.45"/><circle cx="134.5" cy="588.8" r="1.45"/><circle cx="87.7" cy="576.4" r="1.45"/><circle cx="67.8" cy="594.6" r="1.45"/><circle cx="139.6" cy="587.7" r="1.45"/><circle cx="57.7" cy="615.3" r="1.45"/></g>
<g stroke="#1a1a1a" stroke-width="1.15" fill="none">
<line x1="43.8" y1="559.3" x2="168.3" y2="559.3" stroke-width="0.95" stroke="#2a2a2a"/>
<line x1="52.3" y1="612.7" x2="156.3" y2="508.70000000000005"/>
<line x1="52.599999999999994" y1="506.00000000000006" x2="156.3" y2="609.7"/>
<path d="M113.61,548.21L116.79,551.39M94.81,567.01L97.99,570.19M113.61,570.19L116.79,567.01M94.81,551.39L97.99,548.21M123.01,538.81L126.19,541.99M85.41,576.41L88.59,579.59M123.01,579.59L126.19,576.41M85.41,541.99L88.59,538.81M132.41,529.41L135.59,532.59M76.01,585.81L79.19,588.99M132.41,588.99L135.59,585.81M76.01,532.59L79.19,529.41M141.81,520.01L144.99,523.19M66.61,595.21L69.79,598.39M141.81,598.39L144.99,595.21M66.61,523.19L69.79,520.01M151.21,510.61L154.39,513.79M57.21,604.61L60.39,607.79M151.21,607.79L154.39,604.61M57.21,513.79L60.39,510.61"/>
</g>
<path d="M38.80,559.30L44.80,556.35L44.20,559.30L44.80,562.25Z" fill="#1a1a1a"/>
<path d="M173.10,559.30L167.10,562.25L167.70,559.30L167.10,556.35Z" fill="#1a1a1a"/>
<path d="M159.80,505.60L157.64,511.93L155.98,509.42L153.47,507.76Z" fill="#1a1a1a"/>
<path d="M159.80,613.20L153.47,611.04L155.98,609.38L157.64,606.87Z" fill="#1a1a1a"/>
<text x="54.80" y="557.50" font-size="5.0" text-anchor="middle" textLength="9.6" lengthAdjust="spacingAndGlyphs" fill="#151515" stroke="#151515" stroke-width="0.12">joint</text>
<text x="54.70" y="563.70" font-size="5.0" text-anchor="middle" textLength="16.4" lengthAdjust="spacingAndGlyphs" fill="#151515" stroke="#151515" stroke-width="0.12">dephos.</text>
<text x="160.80" y="557.50" font-size="5.0" text-anchor="middle" textLength="9.6" lengthAdjust="spacingAndGlyphs" fill="#151515" stroke="#151515" stroke-width="0.12">joint</text>
<text x="160.80" y="563.70" font-size="5.0" text-anchor="middle" textLength="11.4" lengthAdjust="spacingAndGlyphs" fill="#151515" stroke="#151515" stroke-width="0.12">phos.</text>
<text x="0" y="0" font-size="5.0" text-anchor="middle" fill="#151515" transform="translate(90.51,536.90) rotate(45)">-2</text>
<text x="0" y="0" font-size="5.0" text-anchor="middle" textLength="14.0" lengthAdjust="spacingAndGlyphs" fill="#151515" transform="translate(78.29,524.69) rotate(45)">log f.c.</text>
<text x="0" y="0" font-size="5.0" text-anchor="middle" fill="#151515" transform="translate(62.31,508.71) rotate(45)">-5</text>
<text x="0" y="0" font-size="5.0" text-anchor="middle" fill="#151515" transform="translate(91.92,582.91) rotate(-45)">-2</text>
<text x="0" y="0" font-size="5.0" text-anchor="middle" textLength="14.0" lengthAdjust="spacingAndGlyphs" fill="#151515" transform="translate(79.70,595.13) rotate(-45)">log f.c.</text>
<text x="0" y="0" font-size="5.0" text-anchor="middle" fill="#151515" transform="translate(63.73,611.10) rotate(-45)">-5</text>
<text x="0" y="0" font-size="5.0" text-anchor="middle" fill="#151515" transform="translate(120.81,536.62) rotate(-45)">2</text>
<text x="0" y="0" font-size="5.0" text-anchor="middle" fill="#151515" transform="translate(130.21,527.22) rotate(-45)">3</text>
<text x="0" y="0" font-size="5.0" text-anchor="middle" fill="#151515" transform="translate(117.35,585.24) rotate(45)">2</text>
<text x="0" y="0" font-size="5.0" text-anchor="middle" fill="#151515" transform="translate(126.74,594.64) rotate(45)">3</text>
<text x="0" y="0" font-size="5.0" text-anchor="middle" fill="#151515" transform="translate(134.54,511.58) rotate(-45)">ALL109</text>
<text x="0" y="0" font-size="5.0" text-anchor="middle" fill="#151515" transform="translate(138.65,516.53) rotate(-45)">PDGF–BB</text>
<text x="0" y="0" font-size="5.0" text-anchor="middle" fill="#151515" transform="translate(139.14,605.90) rotate(45)">ALL22089</text>
<text x="0" y="0" font-size="5.0" text-anchor="middle" fill="#151515" transform="translate(134.05,609.86) rotate(45)">PDGF–BB</text>
<circle cx="128.6" cy="546.7" r="1.65" fill="#a01020"/>
<circle cx="135.9" cy="543.2" r="1.65" fill="#a01020"/>
<text x="142.25" y="539.80" font-size="5.2" textLength="15.8" lengthAdjust="spacingAndGlyphs" fill="#151515" stroke="#151515" stroke-width="0.12">MAPK1</text>
<text x="141.05" y="544.80" font-size="5.2" textLength="19.4" lengthAdjust="spacingAndGlyphs" fill="#151515" stroke="#151515" stroke-width="0.12">181+187</text>
<text x="134.95" y="553.20" font-size="5.2" textLength="22.4" lengthAdjust="spacingAndGlyphs" fill="#151515" stroke="#151515" stroke-width="0.12">STMN1 25</text>
<clipPath id="pc8"><rect x="198.8" y="503.20000000000005" width="134" height="112"/></clipPath>
<g clip-path="url(#pc8)"><path d="M204.27,501.60L205.13,502.50L205.98,503.40L206.83,504.30L207.69,505.20L208.54,506.10L209.39,507.00L210.23,507.90L211.08,508.80L211.92,509.70L212.76,510.60L213.60,511.50L214.44,512.40L215.27,513.30L216.11,514.20L216.94,515.10L217.77,516.00L218.59,516.90L219.41,517.80L220.23,518.70L221.05,519.60L221.86,520.50L222.67,521.40L223.48,522.30L224.28,523.20L225.08,524.10L225.87,525.00L226.66,525.90L227.44,526.80L228.22,527.70L228.99,528.60L229.76,529.50L230.52,530.40L231.27,531.30L232.01,532.20L232.75,533.10L233.48,534.00L234.20,534.90L234.91,535.80L235.61,536.70L236.30,537.60L236.97,538.50L237.63,539.40L238.28,540.30L238.92,541.20L239.53,542.10L240.13,543.00L240.72,543.90L241.28,544.80L241.82,545.70L242.33,546.60L242.83,547.50L243.29,548.40L243.73,549.30L244.14,550.20L244.51,551.10L244.86,552.00L245.16,552.90L245.43,553.80L245.66,554.70L245.85,555.60L246.01,556.50L246.11,557.40L246.18,558.30L246.20,559.20L246.18,560.10L246.11,561.00L246.01,561.90L245.85,562.80L245.66,563.70L245.43,564.60L245.16,565.50L244.86,566.40L244.51,567.30L244.14,568.20L243.73,569.10L243.29,570.00L242.83,570.90L242.33,571.80L241.82,572.70L241.28,573.60L240.72,574.50L240.13,575.40L239.53,576.30L238.92,577.20L238.28,578.10L237.63,579.00L236.97,579.90L236.30,580.80L235.61,581.70L234.91,582.60L234.20,583.50L233.48,584.40L232.75,585.30L232.01,586.20L231.27,587.10L230.52,588.00L229.76,588.90L228.99,589.80L228.22,590.70L227.44,591.60L226.66,592.50L225.87,593.40L225.08,594.30L224.28,595.20L223.48,596.10L222.67,597.00L221.86,597.90L221.05,598.80L220.23,599.70L219.41,600.60L218.59,601.50L217.77,602.40L216.94,603.30L216.11,604.20L215.27,605.10L214.44,606.00L213.60,606.90L212.76,607.80L211.92,608.70L211.08,609.60L210.23,610.50L209.39,611.40L208.54,612.30L207.69,613.20L206.83,614.10L205.98,615.00L205.13,615.90L204.27,616.80" fill="none" stroke="#c62c55" stroke-width="1.2" stroke-dasharray="3.8 2.4"/><path d="M325.33,501.60L324.47,502.50L323.62,503.40L322.77,504.30L321.91,505.20L321.06,506.10L320.21,507.00L319.37,507.90L318.52,508.80L317.68,509.70L316.84,510.60L316.00,511.50L315.16,512.40L314.33,513.30L313.49,514.20L312.66,515.10L311.83,516.00L311.01,516.90L310.19,517.80L309.37,518.70L308.55,519.60L307.74,520.50L306.93,521.40L306.12,522.30L305.32,523.20L304.52,524.10L303.73,525.00L302.94,525.90L302.16,526.80L301.38,527.70L300.61,528.60L299.84,529.50L299.08,530.40L298.33,531.30L297.59,532.20L296.85,533.10L296.12,534.00L295.40,534.90L294.69,535.80L293.99,536.70L293.30,537.60L292.63,538.50L291.97,539.40L291.32,540.30L290.68,541.20L290.07,542.10L289.47,543.00L288.88,543.90L288.32,544.80L287.78,545.70L287.27,546.60L286.77,547.50L286.31,548.40L285.87,549.30L285.46,550.20L285.09,551.10L284.74,552.00L284.44,552.90L284.17,553.80L283.94,554.70L283.75,555.60L283.59,556.50L283.49,557.40L283.42,558.30L283.40,559.20L283.42,560.10L283.49,561.00L283.59,561.90L283.75,562.80L283.94,563.70L284.17,564.60L284.44,565.50L284.74,566.40L285.09,567.30L285.46,568.20L285.87,569.10L286.31,570.00L286.77,570.90L287.27,571.80L287.78,572.70L288.32,573.60L288.88,574.50L289.47,575.40L290.07,576.30L290.68,577.20L291.32,578.10L291.97,579.00L292.63,579.90L293.30,580.80L293.99,581.70L294.69,582.60L295.40,583.50L296.12,584.40L296.85,585.30L297.59,586.20L298.33,587.10L299.08,588.00L299.84,588.90L300.61,589.80L301.38,590.70L302.16,591.60L302.94,592.50L303.73,593.40L304.52,594.30L305.32,595.20L306.12,596.10L306.93,597.00L307.74,597.90L308.55,598.80L309.37,599.70L310.19,600.60L311.01,601.50L311.83,602.40L312.66,603.30L313.49,604.20L314.33,605.10L315.16,606.00L316.00,606.90L316.84,607.80L317.68,608.70L318.52,609.60L319.37,610.50L320.21,611.40L321.06,612.30L321.91,613.20L322.77,614.10L323.62,615.00L324.47,615.90L325.33,616.80" fill="none" stroke="#c62c55" stroke-width="1.2" stroke-dasharray="3.8 2.4"/></g>
<path d="M245.5,555.7L247.7,550.3L247.6,547.0L253.2,546.1L258.7,545.1L261.8,543.0L266.2,542.4L269.3,544.1L272.5,547.4L276.7,549.5L280.0,552.6L280.4,556.9L282.2,561.1L284.6,566.6L287.0,569.9L284.8,573.2L280.3,574.2L275.8,572.9L271.4,571.6L268.3,570.4L264.1,569.2L259.9,568.3L255.6,567.4L252.4,564.3L249.0,562.3L246.1,560.1Z" fill="#8a93c0" stroke="#8a93c0" stroke-width="1.2" stroke-linejoin="round"/>
<g fill="#8a93c0"><circle cx="245.0" cy="556.5" r="1.3"/><circle cx="247.0" cy="553.1" r="1.3"/><circle cx="247.6" cy="552.5" r="1.3"/><circle cx="248.0" cy="549.5" r="1.3"/><circle cx="248.2" cy="548.5" r="1.3"/><circle cx="248.1" cy="547.1" r="1.3"/><circle cx="249.9" cy="547.1" r="1.3"/><circle cx="251.1" cy="546.7" r="1.3"/><circle cx="254.1" cy="546.8" r="1.3"/><circle cx="255.8" cy="545.1" r="1.3"/><circle cx="257.1" cy="546.1" r="1.3"/><circle cx="258.4" cy="544.3" r="1.3"/><circle cx="260.7" cy="544.2" r="1.3"/><circle cx="262.7" cy="542.5" r="1.3"/><circle cx="263.3" cy="542.8" r="1.3"/><circle cx="266.8" cy="542.7" r="1.3"/><circle cx="267.1" cy="542.9" r="1.3"/><circle cx="268.7" cy="543.9" r="1.3"/><circle cx="271.4" cy="545.7" r="1.3"/><circle cx="272.5" cy="546.9" r="1.3"/><circle cx="274.6" cy="549.3" r="1.3"/><circle cx="276.6" cy="549.1" r="1.3"/><circle cx="278.7" cy="551.7" r="1.3"/><circle cx="279.2" cy="552.9" r="1.3"/><circle cx="280.4" cy="555.0" r="1.3"/><circle cx="280.4" cy="557.2" r="1.3"/><circle cx="281.9" cy="558.6" r="1.3"/><circle cx="281.6" cy="560.5" r="1.3"/><circle cx="283.1" cy="562.5" r="1.3"/><circle cx="283.8" cy="564.8" r="1.3"/><circle cx="284.5" cy="566.8" r="1.3"/><circle cx="285.8" cy="568.3" r="1.3"/><circle cx="287.5" cy="569.7" r="1.3"/><circle cx="285.0" cy="572.3" r="1.3"/><circle cx="284.5" cy="573.0" r="1.3"/><circle cx="281.9" cy="573.9" r="1.3"/><circle cx="280.9" cy="573.5" r="1.3"/><circle cx="278.2" cy="572.8" r="1.3"/><circle cx="275.6" cy="572.3" r="1.3"/><circle cx="274.0" cy="573.0" r="1.3"/><circle cx="271.5" cy="571.3" r="1.3"/><circle cx="270.3" cy="571.6" r="1.3"/><circle cx="267.5" cy="570.4" r="1.3"/><circle cx="266.6" cy="570.6" r="1.3"/><circle cx="263.5" cy="569.9" r="1.3"/><circle cx="261.5" cy="569.0" r="1.3"/><circle cx="260.5" cy="568.9" r="1.3"/><circle cx="257.4" cy="568.2" r="1.3"/><circle cx="255.4" cy="566.9" r="1.3"/><circle cx="254.8" cy="565.0" r="1.3"/><circle cx="253.3" cy="563.5" r="1.3"/><circle cx="251.3" cy="562.9" r="1.3"/><circle cx="248.7" cy="561.4" r="1.3"/><circle cx="247.7" cy="561.6" r="1.3"/><circle cx="246.7" cy="559.6" r="1.3"/><circle cx="245.3" cy="557.1" r="1.3"/></g>
<g fill="#8690c0"><circle cx="257.6" cy="542.5" r="1.42"/><circle cx="249.5" cy="562.3" r="1.42"/><circle cx="271.8" cy="570.4" r="1.42"/><circle cx="283.8" cy="574.8" r="1.42"/><circle cx="255.3" cy="568.7" r="1.42"/><circle cx="246.2" cy="553.9" r="1.42"/><circle cx="286.3" cy="568.0" r="1.42"/><circle cx="242.7" cy="566.7" r="1.42"/><circle cx="241.0" cy="559.4" r="1.42"/><circle cx="286.4" cy="576.4" r="1.42"/><circle cx="271.2" cy="544.8" r="1.42"/><circle cx="272.2" cy="571.5" r="1.42"/><circle cx="262.3" cy="543.5" r="1.42"/><circle cx="251.4" cy="546.8" r="1.42"/><circle cx="256.6" cy="544.7" r="1.42"/><circle cx="273.0" cy="547.6" r="1.42"/><circle cx="258.2" cy="540.6" r="1.42"/><circle cx="260.1" cy="569.6" r="1.42"/><circle cx="264.6" cy="570.3" r="1.42"/><circle cx="285.4" cy="571.3" r="1.42"/><circle cx="248.8" cy="563.6" r="1.42"/><circle cx="282.3" cy="574.4" r="1.42"/><circle cx="267.5" cy="540.1" r="1.42"/><circle cx="261.3" cy="540.9" r="1.42"/><circle cx="246.1" cy="555.3" r="1.42"/><circle cx="258.0" cy="538.9" r="1.42"/><circle cx="285.4" cy="568.5" r="1.42"/><circle cx="259.8" cy="544.5" r="1.42"/><circle cx="286.3" cy="573.7" r="1.42"/><circle cx="269.0" cy="575.4" r="1.42"/><circle cx="245.3" cy="554.8" r="1.42"/><circle cx="266.9" cy="540.6" r="1.42"/><circle cx="271.7" cy="542.1" r="1.42"/><circle cx="260.6" cy="542.4" r="1.42"/><circle cx="278.5" cy="573.5" r="1.42"/><circle cx="277.2" cy="571.7" r="1.42"/><circle cx="284.5" cy="552.5" r="1.42"/><circle cx="279.1" cy="555.9" r="1.42"/><circle cx="271.4" cy="570.8" r="1.42"/><circle cx="275.4" cy="549.7" r="1.42"/><circle cx="251.9" cy="544.8" r="1.42"/><circle cx="281.2" cy="574.4" r="1.42"/><circle cx="243.9" cy="544.8" r="1.42"/><circle cx="290.5" cy="572.7" r="1.42"/><circle cx="257.8" cy="567.3" r="1.42"/><circle cx="281.5" cy="557.1" r="1.42"/><circle cx="277.7" cy="550.3" r="1.42"/><circle cx="277.2" cy="575.6" r="1.42"/><circle cx="282.6" cy="564.2" r="1.42"/><circle cx="267.1" cy="569.7" r="1.42"/><circle cx="268.2" cy="542.4" r="1.42"/><circle cx="249.3" cy="562.6" r="1.42"/><circle cx="267.4" cy="544.3" r="1.42"/><circle cx="243.8" cy="544.8" r="1.42"/><circle cx="258.8" cy="544.0" r="1.42"/><circle cx="249.4" cy="563.7" r="1.42"/><circle cx="278.3" cy="574.3" r="1.42"/><circle cx="255.0" cy="541.2" r="1.42"/><circle cx="261.5" cy="543.2" r="1.42"/><circle cx="266.5" cy="541.7" r="1.42"/><circle cx="270.8" cy="546.4" r="1.42"/><circle cx="269.4" cy="542.5" r="1.42"/><circle cx="275.3" cy="546.4" r="1.42"/><circle cx="284.7" cy="553.6" r="1.42"/><circle cx="245.9" cy="557.4" r="1.42"/><circle cx="292.0" cy="571.0" r="1.42"/><circle cx="285.7" cy="573.6" r="1.42"/><circle cx="281.7" cy="573.9" r="1.42"/><circle cx="255.7" cy="546.2" r="1.42"/><circle cx="276.9" cy="572.6" r="1.42"/><circle cx="275.3" cy="575.0" r="1.42"/><circle cx="245.7" cy="547.9" r="1.42"/><circle cx="280.9" cy="576.2" r="1.42"/><circle cx="283.9" cy="561.8" r="1.42"/><circle cx="264.2" cy="568.1" r="1.42"/><circle cx="287.4" cy="563.7" r="1.42"/><circle cx="271.8" cy="541.6" r="1.42"/><circle cx="252.3" cy="566.9" r="1.42"/><circle cx="247.1" cy="553.5" r="1.42"/><circle cx="250.7" cy="563.7" r="1.42"/></g>
<g fill="#7c87bd"><circle cx="247.7" cy="530.7" r="1.45"/><circle cx="252.3" cy="542.3" r="1.45"/><circle cx="237.3" cy="545.7" r="1.45"/><circle cx="284.0" cy="544.0" r="1.45"/><circle cx="284.6" cy="549.2" r="1.45"/><circle cx="256.9" cy="575.2" r="1.45"/><circle cx="258.1" cy="575.7" r="1.45"/><circle cx="263.3" cy="575.2" r="1.45"/><circle cx="270.8" cy="578.6" r="1.45"/><circle cx="273.1" cy="579.8" r="1.45"/><circle cx="271.9" cy="582.7" r="1.45"/><circle cx="274.2" cy="584.4" r="1.45"/><circle cx="278.8" cy="579.8" r="1.45"/><circle cx="281.2" cy="578.6" r="1.45"/><circle cx="284.6" cy="575.2" r="1.45"/><circle cx="250.0" cy="576.3" r="1.45"/><circle cx="288.1" cy="574.6" r="1.45"/><circle cx="297.9" cy="583.4" r="1.45"/><circle cx="292.7" cy="589.4" r="1.45"/><circle cx="223.5" cy="599.0" r="1.45"/><circle cx="232.1" cy="603.3" r="1.45"/></g>
<g stroke="#1a1a1a" stroke-width="1.15" fill="none">
<line x1="202.8" y1="559.3" x2="327.3" y2="559.3" stroke-width="0.95" stroke="#2a2a2a"/>
<line x1="211.3" y1="612.7" x2="315.3" y2="508.70000000000005"/>
<line x1="211.60000000000002" y1="506.00000000000006" x2="315.3" y2="609.7"/>
<path d="M272.61,548.21L275.79,551.39M253.81,567.01L256.99,570.19M272.61,570.19L275.79,567.01M253.81,551.39L256.99,548.21M282.01,538.81L285.19,541.99M244.41,576.41L247.59,579.59M282.01,579.59L285.19,576.41M244.41,541.99L247.59,538.81M291.41,529.41L294.59,532.59M235.01,585.81L238.19,588.99M291.41,588.99L294.59,585.81M235.01,532.59L238.19,529.41M300.81,520.01L303.99,523.19M225.61,595.21L228.79,598.39M300.81,598.39L303.99,595.21M225.61,523.19L228.79,520.01M310.21,510.61L313.39,513.79M216.21,604.61L219.39,607.79M310.21,607.79L313.39,604.61M216.21,513.79L219.39,510.61"/>
</g>
<path d="M197.80,559.30L203.80,556.35L203.20,559.30L203.80,562.25Z" fill="#1a1a1a"/>
<path d="M332.10,559.30L326.10,562.25L326.70,559.30L326.10,556.35Z" fill="#1a1a1a"/>
<path d="M318.80,505.60L316.64,511.93L314.98,509.42L312.47,507.76Z" fill="#1a1a1a"/>
<path d="M318.80,613.20L312.47,611.04L314.98,609.38L316.64,606.87Z" fill="#1a1a1a"/>
<text x="213.80" y="557.50" font-size="5.0" text-anchor="middle" textLength="9.6" lengthAdjust="spacingAndGlyphs" fill="#151515" stroke="#151515" stroke-width="0.12">joint</text>
<text x="213.70" y="563.70" font-size="5.0" text-anchor="middle" textLength="16.4" lengthAdjust="spacingAndGlyphs" fill="#151515" stroke="#151515" stroke-width="0.12">dephos.</text>
<text x="319.80" y="557.50" font-size="5.0" text-anchor="middle" textLength="9.6" lengthAdjust="spacingAndGlyphs" fill="#151515" stroke="#151515" stroke-width="0.12">joint</text>
<text x="319.80" y="563.70" font-size="5.0" text-anchor="middle" textLength="11.4" lengthAdjust="spacingAndGlyphs" fill="#151515" stroke="#151515" stroke-width="0.12">phos.</text>
<text x="0" y="0" font-size="5.0" text-anchor="middle" fill="#151515" transform="translate(249.51,536.90) rotate(45)">-2</text>
<text x="0" y="0" font-size="5.0" text-anchor="middle" textLength="14.0" lengthAdjust="spacingAndGlyphs" fill="#151515" transform="translate(237.29,524.69) rotate(45)">log f.c.</text>
<text x="0" y="0" font-size="5.0" text-anchor="middle" fill="#151515" transform="translate(221.31,508.71) rotate(45)">-5</text>
<text x="0" y="0" font-size="5.0" text-anchor="middle" fill="#151515" transform="translate(250.92,582.91) rotate(-45)">-2</text>
<text x="0" y="0" font-size="5.0" text-anchor="middle" textLength="14.0" lengthAdjust="spacingAndGlyphs" fill="#151515" transform="translate(238.70,595.13) rotate(-45)">log f.c.</text>
<text x="0" y="0" font-size="5.0" text-anchor="middle" fill="#151515" transform="translate(222.73,611.10) rotate(-45)">-5</text>
<text x="0" y="0" font-size="5.0" text-anchor="middle" fill="#151515" transform="translate(279.81,536.62) rotate(-45)">2</text>
<text x="0" y="0" font-size="5.0" text-anchor="middle" fill="#151515" transform="translate(289.21,527.22) rotate(-45)">3</text>
<text x="0" y="0" font-size="5.0" text-anchor="middle" fill="#151515" transform="translate(276.35,585.24) rotate(45)">2</text>
<text x="0" y="0" font-size="5.0" text-anchor="middle" fill="#151515" transform="translate(285.74,594.64) rotate(45)">3</text>
<text x="0" y="0" font-size="5.0" text-anchor="middle" fill="#151515" transform="translate(293.54,511.58) rotate(-45)">ALL109</text>
<text x="0" y="0" font-size="5.0" text-anchor="middle" fill="#151515" transform="translate(297.65,516.53) rotate(-45)">PDGF–BB</text>
<text x="0" y="0" font-size="5.0" text-anchor="middle" fill="#151515" transform="translate(298.14,605.90) rotate(45)">ALL22089</text>
<text x="0" y="0" font-size="5.0" text-anchor="middle" fill="#151515" transform="translate(293.05,609.86) rotate(45)">PDGF–BB</text>
<circle cx="241.5" cy="546.2" r="1.65" fill="#a01020"/>
<circle cx="286.4" cy="567.3" r="1.65" fill="#a01020"/>
<text x="218.65" y="548.10" font-size="5.2" textLength="21.4" lengthAdjust="spacingAndGlyphs" fill="#151515" stroke="#151515" stroke-width="0.12">HSPB1 15</text>
<text x="292.25" y="565.50" font-size="5.2" textLength="13.4" lengthAdjust="spacingAndGlyphs" fill="#151515" stroke="#151515" stroke-width="0.12">MAP4</text>
<text x="290.05" y="570.80" font-size="5.2" textLength="17.7" lengthAdjust="spacingAndGlyphs" fill="#151515" stroke="#151515" stroke-width="0.12">927/928</text>
<clipPath id="pc9"><rect x="357.8" y="503.20000000000005" width="134" height="112"/></clipPath>
<g clip-path="url(#pc9)"><path d="M363.27,501.60L364.13,502.50L364.98,503.40L365.83,504.30L366.69,505.20L367.54,506.10L368.39,507.00L369.23,507.90L370.08,508.80L370.92,509.70L371.76,510.60L372.60,511.50L373.44,512.40L374.27,513.30L375.11,514.20L375.94,515.10L376.77,516.00L377.59,516.90L378.41,517.80L379.23,518.70L380.05,519.60L380.86,520.50L381.67,521.40L382.48,522.30L383.28,523.20L384.08,524.10L384.87,525.00L385.66,525.90L386.44,526.80L387.22,527.70L387.99,528.60L388.76,529.50L389.52,530.40L390.27,531.30L391.01,532.20L391.75,533.10L392.48,534.00L393.20,534.90L393.91,535.80L394.61,536.70L395.30,537.60L395.97,538.50L396.63,539.40L397.28,540.30L397.92,541.20L398.53,542.10L399.13,543.00L399.72,543.90L400.28,544.80L400.82,545.70L401.33,546.60L401.83,547.50L402.29,548.40L402.73,549.30L403.14,550.20L403.51,551.10L403.86,552.00L404.16,552.90L404.43,553.80L404.66,554.70L404.85,555.60L405.01,556.50L405.11,557.40L405.18,558.30L405.20,559.20L405.18,560.10L405.11,561.00L405.01,561.90L404.85,562.80L404.66,563.70L404.43,564.60L404.16,565.50L403.86,566.40L403.51,567.30L403.14,568.20L402.73,569.10L402.29,570.00L401.83,570.90L401.33,571.80L400.82,572.70L400.28,573.60L399.72,574.50L399.13,575.40L398.53,576.30L397.92,577.20L397.28,578.10L396.63,579.00L395.97,579.90L395.30,580.80L394.61,581.70L393.91,582.60L393.20,583.50L392.48,584.40L391.75,585.30L391.01,586.20L390.27,587.10L389.52,588.00L388.76,588.90L387.99,589.80L387.22,590.70L386.44,591.60L385.66,592.50L384.87,593.40L384.08,594.30L383.28,595.20L382.48,596.10L381.67,597.00L380.86,597.90L380.05,598.80L379.23,599.70L378.41,600.60L377.59,601.50L376.77,602.40L375.94,603.30L375.11,604.20L374.27,605.10L373.44,606.00L372.60,606.90L371.76,607.80L370.92,608.70L370.08,609.60L369.23,610.50L368.39,611.40L367.54,612.30L366.69,613.20L365.83,614.10L364.98,615.00L364.13,615.90L363.27,616.80" fill="none" stroke="#c62c55" stroke-width="1.2" stroke-dasharray="3.8 2.4"/><path d="M484.33,501.60L483.47,502.50L482.62,503.40L481.77,504.30L480.91,505.20L480.06,506.10L479.21,507.00L478.37,507.90L477.52,508.80L476.68,509.70L475.84,510.60L475.00,511.50L474.16,512.40L473.33,513.30L472.49,514.20L471.66,515.10L470.83,516.00L470.01,516.90L469.19,517.80L468.37,518.70L467.55,519.60L466.74,520.50L465.93,521.40L465.12,522.30L464.32,523.20L463.52,524.10L462.73,525.00L461.94,525.90L461.16,526.80L460.38,527.70L459.61,528.60L458.84,529.50L458.08,530.40L457.33,531.30L456.59,532.20L455.85,533.10L455.12,534.00L454.40,534.90L453.69,535.80L452.99,536.70L452.30,537.60L451.63,538.50L450.97,539.40L450.32,540.30L449.68,541.20L449.07,542.10L448.47,543.00L447.88,543.90L447.32,544.80L446.78,545.70L446.27,546.60L445.77,547.50L445.31,548.40L444.87,549.30L444.46,550.20L444.09,551.10L443.74,552.00L443.44,552.90L443.17,553.80L442.94,554.70L442.75,555.60L442.59,556.50L442.49,557.40L442.42,558.30L442.40,559.20L442.42,560.10L442.49,561.00L442.59,561.90L442.75,562.80L442.94,563.70L443.17,564.60L443.44,565.50L443.74,566.40L444.09,567.30L444.46,568.20L444.87,569.10L445.31,570.00L445.77,570.90L446.27,571.80L446.78,572.70L447.32,573.60L447.88,574.50L448.47,575.40L449.07,576.30L449.68,577.20L450.32,578.10L450.97,579.00L451.63,579.90L452.30,580.80L452.99,581.70L453.69,582.60L454.40,583.50L455.12,584.40L455.85,585.30L456.59,586.20L457.33,587.10L458.08,588.00L458.84,588.90L459.61,589.80L460.38,590.70L461.16,591.60L461.94,592.50L462.73,593.40L463.52,594.30L464.32,595.20L465.12,596.10L465.93,597.00L466.74,597.90L467.55,598.80L468.37,599.70L469.19,600.60L470.01,601.50L470.83,602.40L471.66,603.30L472.49,604.20L473.33,605.10L474.16,606.00L475.00,606.90L475.84,607.80L476.68,608.70L477.52,609.60L478.37,610.50L479.21,611.40L480.06,612.30L480.91,613.20L481.77,614.10L482.62,615.00L483.47,615.90L484.33,616.80" fill="none" stroke="#c62c55" stroke-width="1.2" stroke-dasharray="3.8 2.4"/></g>
<path d="M409.0,553.5L409.9,549.2L413.2,546.1L416.4,543.9L420.7,544.7L424.9,545.3L429.0,546.4L432.2,548.4L435.3,551.4L437.5,554.6L439.3,557.7L438.8,562.1L436.6,565.2L433.3,567.8L429.0,568.2L424.9,568.7L420.7,568.1L416.5,567.1L412.3,565.1L409.5,562.1L408.4,557.7Z" fill="#8a93c0" stroke="#8a93c0" stroke-width="1.2" stroke-linejoin="round"/>
<g fill="#8a93c0"><circle cx="408.2" cy="553.4" r="1.3"/><circle cx="409.0" cy="551.3" r="1.3"/><circle cx="409.5" cy="549.9" r="1.3"/><circle cx="411.7" cy="548.1" r="1.3"/><circle cx="414.0" cy="546.1" r="1.3"/><circle cx="414.8" cy="544.4" r="1.3"/><circle cx="417.0" cy="543.2" r="1.3"/><circle cx="418.3" cy="543.7" r="1.3"/><circle cx="421.1" cy="544.6" r="1.3"/><circle cx="422.8" cy="545.0" r="1.3"/><circle cx="425.5" cy="546.2" r="1.3"/><circle cx="426.7" cy="546.5" r="1.3"/><circle cx="429.4" cy="546.7" r="1.3"/><circle cx="431.5" cy="546.9" r="1.3"/><circle cx="431.9" cy="548.4" r="1.3"/><circle cx="433.4" cy="549.6" r="1.3"/><circle cx="434.8" cy="552.2" r="1.3"/><circle cx="437.3" cy="553.7" r="1.3"/><circle cx="438.0" cy="554.4" r="1.3"/><circle cx="438.1" cy="556.0" r="1.3"/><circle cx="438.4" cy="557.0" r="1.3"/><circle cx="439.0" cy="559.7" r="1.3"/><circle cx="439.0" cy="562.2" r="1.3"/><circle cx="437.0" cy="564.3" r="1.3"/><circle cx="436.5" cy="565.2" r="1.3"/><circle cx="434.7" cy="566.3" r="1.3"/><circle cx="434.1" cy="568.7" r="1.3"/><circle cx="430.6" cy="568.8" r="1.3"/><circle cx="429.6" cy="568.8" r="1.3"/><circle cx="426.6" cy="569.2" r="1.3"/><circle cx="425.0" cy="568.6" r="1.3"/><circle cx="422.0" cy="568.5" r="1.3"/><circle cx="420.1" cy="567.8" r="1.3"/><circle cx="419.3" cy="567.4" r="1.3"/><circle cx="417.1" cy="566.9" r="1.3"/><circle cx="413.7" cy="566.0" r="1.3"/><circle cx="411.7" cy="564.5" r="1.3"/><circle cx="411.2" cy="563.9" r="1.3"/><circle cx="408.9" cy="562.5" r="1.3"/><circle cx="409.0" cy="559.2" r="1.3"/><circle cx="407.7" cy="558.1" r="1.3"/><circle cx="409.4" cy="556.2" r="1.3"/></g>
<g fill="#8690c0"><circle cx="404.0" cy="562.7" r="1.42"/><circle cx="412.9" cy="545.2" r="1.42"/><circle cx="435.8" cy="552.6" r="1.42"/><circle cx="427.4" cy="544.2" r="1.42"/><circle cx="414.1" cy="542.2" r="1.42"/><circle cx="419.8" cy="544.3" r="1.42"/><circle cx="417.8" cy="567.9" r="1.42"/><circle cx="417.4" cy="545.0" r="1.42"/><circle cx="414.5" cy="544.8" r="1.42"/><circle cx="409.1" cy="557.9" r="1.42"/><circle cx="414.7" cy="567.9" r="1.42"/><circle cx="412.8" cy="566.8" r="1.42"/><circle cx="441.3" cy="556.2" r="1.42"/><circle cx="429.6" cy="545.8" r="1.42"/><circle cx="436.4" cy="551.7" r="1.42"/><circle cx="409.4" cy="556.8" r="1.42"/><circle cx="434.5" cy="569.6" r="1.42"/><circle cx="410.7" cy="563.0" r="1.42"/><circle cx="417.3" cy="566.7" r="1.42"/><circle cx="422.2" cy="544.3" r="1.42"/><circle cx="430.0" cy="548.5" r="1.42"/><circle cx="438.1" cy="558.9" r="1.42"/><circle cx="415.3" cy="568.3" r="1.42"/><circle cx="423.0" cy="571.4" r="1.42"/><circle cx="407.9" cy="550.1" r="1.42"/><circle cx="425.9" cy="543.9" r="1.42"/><circle cx="440.8" cy="561.7" r="1.42"/><circle cx="424.8" cy="544.3" r="1.42"/><circle cx="397.3" cy="557.4" r="1.42"/><circle cx="411.9" cy="564.7" r="1.42"/><circle cx="428.9" cy="546.4" r="1.42"/><circle cx="420.9" cy="540.9" r="1.42"/><circle cx="438.4" cy="555.9" r="1.42"/><circle cx="429.0" cy="547.0" r="1.42"/><circle cx="432.7" cy="568.9" r="1.42"/><circle cx="427.3" cy="546.9" r="1.42"/><circle cx="416.8" cy="540.9" r="1.42"/><circle cx="417.7" cy="567.5" r="1.42"/><circle cx="425.3" cy="544.1" r="1.42"/><circle cx="439.0" cy="555.2" r="1.42"/><circle cx="427.7" cy="569.3" r="1.42"/><circle cx="416.8" cy="544.3" r="1.42"/><circle cx="430.8" cy="570.0" r="1.42"/><circle cx="409.6" cy="559.5" r="1.42"/><circle cx="430.3" cy="546.4" r="1.42"/><circle cx="421.1" cy="544.9" r="1.42"/><circle cx="405.5" cy="566.5" r="1.42"/><circle cx="407.9" cy="552.4" r="1.42"/><circle cx="424.2" cy="568.5" r="1.42"/><circle cx="410.1" cy="563.6" r="1.42"/><circle cx="413.9" cy="546.8" r="1.42"/><circle cx="404.5" cy="565.6" r="1.42"/><circle cx="422.8" cy="544.0" r="1.42"/><circle cx="431.4" cy="568.5" r="1.42"/><circle cx="434.5" cy="565.1" r="1.42"/><circle cx="411.2" cy="548.8" r="1.42"/><circle cx="430.3" cy="570.6" r="1.42"/><circle cx="420.0" cy="567.1" r="1.42"/><circle cx="433.5" cy="551.7" r="1.42"/><circle cx="438.6" cy="552.5" r="1.42"/><circle cx="433.5" cy="548.8" r="1.42"/><circle cx="437.9" cy="563.7" r="1.42"/><circle cx="415.1" cy="566.5" r="1.42"/><circle cx="423.8" cy="545.8" r="1.42"/><circle cx="408.8" cy="561.8" r="1.42"/><circle cx="428.9" cy="570.4" r="1.42"/><circle cx="435.2" cy="569.1" r="1.42"/><circle cx="405.8" cy="562.3" r="1.42"/><circle cx="409.0" cy="548.5" r="1.42"/><circle cx="416.1" cy="544.1" r="1.42"/></g>
<g fill="#7c87bd"><circle cx="411.2" cy="530.2" r="1.45"/><circle cx="411.7" cy="540.0" r="1.45"/><circle cx="416.3" cy="541.1" r="1.45"/><circle cx="406.5" cy="546.3" r="1.45"/><circle cx="436.5" cy="538.2" r="1.45"/><circle cx="399.6" cy="563.0" r="1.45"/><circle cx="400.8" cy="559.6" r="1.45"/><circle cx="406.5" cy="568.2" r="1.45"/><circle cx="406.0" cy="570.0" r="1.45"/><circle cx="416.9" cy="572.8" r="1.45"/><circle cx="418.1" cy="574.6" r="1.45"/><circle cx="422.7" cy="573.4" r="1.45"/><circle cx="431.3" cy="578.0" r="1.45"/><circle cx="436.5" cy="579.2" r="1.45"/><circle cx="441.2" cy="568.8" r="1.45"/><circle cx="442.3" cy="572.3" r="1.45"/><circle cx="445.8" cy="567.1" r="1.45"/><circle cx="444.6" cy="575.2" r="1.45"/><circle cx="448.1" cy="578.6" r="1.45"/><circle cx="395.6" cy="550.9" r="1.45"/><circle cx="377.9" cy="612.8" r="1.45"/><circle cx="388.7" cy="606.0" r="1.45"/><circle cx="379.2" cy="509.1" r="1.45"/><circle cx="449.2" cy="584.2" r="1.45"/></g>
<g stroke="#1a1a1a" stroke-width="1.15" fill="none">
<line x1="361.8" y1="559.3" x2="486.3" y2="559.3" stroke-width="0.95" stroke="#2a2a2a"/>
<line x1="370.3" y1="612.7" x2="474.3" y2="508.70000000000005"/>
<line x1="370.6" y1="506.00000000000006" x2="474.3" y2="609.7"/>
<path d="M431.61,548.21L434.79,551.39M412.81,567.01L415.99,570.19M431.61,570.19L434.79,567.01M412.81,551.39L415.99,548.21M441.01,538.81L444.19,541.99M403.41,576.41L406.59,579.59M441.01,579.59L444.19,576.41M403.41,541.99L406.59,538.81M450.41,529.41L453.59,532.59M394.01,585.81L397.19,588.99M450.41,588.99L453.59,585.81M394.01,532.59L397.19,529.41M459.81,520.01L462.99,523.19M384.61,595.21L387.79,598.39M459.81,598.39L462.99,595.21M384.61,523.19L387.79,520.01M469.21,510.61L472.39,513.79M375.21,604.61L378.39,607.79M469.21,607.79L472.39,604.61M375.21,513.79L378.39,510.61"/>
</g>
<path d="M356.80,559.30L362.80,556.35L362.20,559.30L362.80,562.25Z" fill="#1a1a1a"/>
<path d="M491.10,559.30L485.10,562.25L485.70,559.30L485.10,556.35Z" fill="#1a1a1a"/>
<path d="M477.80,505.60L475.64,511.93L473.98,509.42L471.47,507.76Z" fill="#1a1a1a"/>
<path d="M477.80,613.20L471.47,611.04L473.98,609.38L475.64,606.87Z" fill="#1a1a1a"/>
<text x="372.80" y="557.50" font-size="5.0" text-anchor="middle" textLength="9.6" lengthAdjust="spacingAndGlyphs" fill="#151515" stroke="#151515" stroke-width="0.12">joint</text>
<text x="372.70" y="563.70" font-size="5.0" text-anchor="middle" textLength="16.4" lengthAdjust="spacingAndGlyphs" fill="#151515" stroke="#151515" stroke-width="0.12">dephos.</text>
<text x="478.80" y="557.50" font-size="5.0" text-anchor="middle" textLength="9.6" lengthAdjust="spacingAndGlyphs" fill="#151515" stroke="#151515" stroke-width="0.12">joint</text>
<text x="478.80" y="563.70" font-size="5.0" text-anchor="middle" textLength="11.4" lengthAdjust="spacingAndGlyphs" fill="#151515" stroke="#151515" stroke-width="0.12">phos.</text>
<text x="0" y="0" font-size="5.0" text-anchor="middle" fill="#151515" transform="translate(408.51,536.90) rotate(45)">-2</text>
<text x="0" y="0" font-size="5.0" text-anchor="middle" textLength="14.0" lengthAdjust="spacingAndGlyphs" fill="#151515" transform="translate(396.29,524.69) rotate(45)">log f.c.</text>
<text x="0" y="0" font-size="5.0" text-anchor="middle" fill="#151515" transform="translate(380.31,508.71) rotate(45)">-5</text>
<text x="0" y="0" font-size="5.0" text-anchor="middle" fill="#151515" transform="translate(409.92,582.91) rotate(-45)">-2</text>
<text x="0" y="0" font-size="5.0" text-anchor="middle" textLength="14.0" lengthAdjust="spacingAndGlyphs" fill="#151515" transform="translate(397.70,595.13) rotate(-45)">log f.c.</text>
<text x="0" y="0" font-size="5.0" text-anchor="middle" fill="#151515" transform="translate(381.73,611.10) rotate(-45)">-5</text>
<text x="0" y="0" font-size="5.0" text-anchor="middle" fill="#151515" transform="translate(438.81,536.62) rotate(-45)">2</text>
<text x="0" y="0" font-size="5.0" text-anchor="middle" fill="#151515" transform="translate(448.21,527.22) rotate(-45)">3</text>
<text x="0" y="0" font-size="5.0" text-anchor="middle" fill="#151515" transform="translate(435.35,585.24) rotate(45)">2</text>
<text x="0" y="0" font-size="5.0" text-anchor="middle" fill="#151515" transform="translate(444.74,594.64) rotate(45)">3</text>
<text x="0" y="0" font-size="5.0" text-anchor="middle" fill="#151515" transform="translate(452.54,511.58) rotate(-45)">ALL109</text>
<text x="0" y="0" font-size="5.0" text-anchor="middle" fill="#151515" transform="translate(456.65,516.53) rotate(-45)">PDGF–BB</text>
<text x="0" y="0" font-size="5.0" text-anchor="middle" fill="#151515" transform="translate(457.14,605.90) rotate(45)">ALL22089</text>
<text x="0" y="0" font-size="5.0" text-anchor="middle" fill="#151515" transform="translate(452.05,609.86) rotate(45)">PDGF–BB</text>
<circle cx="399.7" cy="545.6" r="1.65" fill="#a01020"/>
<circle cx="445.1" cy="559.3" r="1.65" fill="#a01020"/>
<circle cx="458.8" cy="586.0" r="1.65" fill="#a01020"/>
<text x="377.95" y="545.70" font-size="5.2" textLength="16.3" lengthAdjust="spacingAndGlyphs" fill="#151515" stroke="#151515" stroke-width="0.12">FKBP15</text>
<text x="381.45" y="550.50" font-size="5.2" textLength="9.3" lengthAdjust="spacingAndGlyphs" fill="#151515" stroke="#151515" stroke-width="0.12">956</text>
<text x="450.35" y="558.00" font-size="5.2" textLength="13.2" lengthAdjust="spacingAndGlyphs" fill="#151515" stroke="#151515" stroke-width="0.12">MAP4</text>
<text x="447.75" y="564.80" font-size="5.2" textLength="18.3" lengthAdjust="spacingAndGlyphs" fill="#151515" stroke="#151515" stroke-width="0.12">927/928</text>
<text x="460.45" y="588.50" font-size="5.2" textLength="21.3" lengthAdjust="spacingAndGlyphs" fill="#151515" stroke="#151515" stroke-width="0.12">FGD3 128</text>
<rect x="97.30" y="643.10" width="28.25" height="10.28" fill="#ffff37"/>
<rect x="124.75" y="643.10" width="28.25" height="10.28" fill="#d0d033"/>
<rect x="152.20" y="643.10" width="28.25" height="10.28" fill="#848420"/>
<rect x="179.65" y="643.10" width="28.25" height="10.28" fill="#484812"/>
<rect x="207.10" y="643.10" width="28.25" height="10.28" fill="#00003d"/>
<rect x="234.55" y="643.10" width="28.25" height="10.28" fill="#39390e"/>
<rect x="262.00" y="643.10" width="28.25" height="10.28" fill="#39390e"/>
<rect x="289.45" y="643.10" width="28.25" height="10.28" fill="#656519"/>
<rect x="316.90" y="643.10" width="28.25" height="10.28" fill="#000030"/>
<rect x="344.35" y="643.10" width="28.25" height="10.28" fill="#484812"/>
<rect x="371.80" y="643.10" width="28.25" height="10.28" fill="#75751d"/>
<rect x="399.25" y="643.10" width="27.45" height="10.28" fill="#484812"/>
<rect x="97.30" y="652.58" width="28.25" height="10.28" fill="#d8d835"/>
<rect x="124.75" y="652.58" width="28.25" height="10.28" fill="#656519"/>
<rect x="152.20" y="652.58" width="28.25" height="10.28" fill="#5a5a16"/>
<rect x="179.65" y="652.58" width="28.25" height="10.28" fill="#2e2e0b"/>
<rect x="207.10" y="652.58" width="28.25" height="10.28" fill="#050501"/>
<rect x="234.55" y="652.58" width="28.25" height="10.28" fill="#1f1f08"/>
<rect x="262.00" y="652.58" width="28.25" height="10.28" fill="#484812"/>
<rect x="289.45" y="652.58" width="28.25" height="10.28" fill="#a1a127"/>
<rect x="316.90" y="652.58" width="28.25" height="10.28" fill="#1f1f08"/>
<rect x="344.35" y="652.58" width="28.25" height="10.28" fill="#27270a"/>
<rect x="371.80" y="652.58" width="28.25" height="10.28" fill="#555515"/>
<rect x="399.25" y="652.58" width="27.45" height="10.28" fill="#9a9a26"/>
<rect x="97.30" y="662.06" width="28.25" height="10.28" fill="#d8d835"/>
<rect x="124.75" y="662.06" width="28.25" height="10.28" fill="#b0b02b"/>
<rect x="152.20" y="662.06" width="28.25" height="10.28" fill="#b8b82d"/>
<rect x="179.65" y="662.06" width="28.25" height="10.28" fill="#35350d"/>
<rect x="207.10" y="662.06" width="28.25" height="10.28" fill="#27270a"/>
<rect x="234.55" y="662.06" width="28.25" height="10.28" fill="#39390e"/>
<rect x="262.00" y="662.06" width="28.25" height="10.28" fill="#75751d"/>
<rect x="289.45" y="662.06" width="28.25" height="10.28" fill="#1f1f08"/>
<rect x="316.90" y="662.06" width="28.25" height="10.28" fill="#000030"/>
<rect x="344.35" y="662.06" width="28.25" height="10.28" fill="#27270a"/>
<rect x="371.80" y="662.06" width="28.25" height="10.28" fill="#484812"/>
<rect x="399.25" y="662.06" width="27.45" height="10.28" fill="#000030"/>
<rect x="97.30" y="671.54" width="28.25" height="10.28" fill="#101004"/>
<rect x="124.75" y="671.54" width="28.25" height="10.28" fill="#181806"/>
<rect x="152.20" y="671.54" width="28.25" height="10.28" fill="#000015"/>
<rect x="179.65" y="671.54" width="28.25" height="10.28" fill="#27270a"/>
<rect x="207.10" y="671.54" width="28.25" height="10.28" fill="#656519"/>
<rect x="234.55" y="671.54" width="28.25" height="10.28" fill="#484812"/>
<rect x="262.00" y="671.54" width="28.25" height="10.28" fill="#2f2f0c"/>
<rect x="289.45" y="671.54" width="28.25" height="10.28" fill="#9a9a26"/>
<rect x="316.90" y="671.54" width="28.25" height="10.28" fill="#9a9a26"/>
<rect x="344.35" y="671.54" width="28.25" height="10.28" fill="#656519"/>
<rect x="371.80" y="671.54" width="28.25" height="10.28" fill="#8a8a22"/>
<rect x="399.25" y="671.54" width="27.45" height="10.28" fill="#656519"/>
<rect x="97.30" y="681.02" width="28.25" height="10.28" fill="#37370d"/>
<rect x="124.75" y="681.02" width="28.25" height="10.28" fill="#101004"/>
<rect x="152.20" y="681.02" width="28.25" height="10.28" fill="#484812"/>
<rect x="179.65" y="681.02" width="28.25" height="10.28" fill="#000022"/>
<rect x="207.10" y="681.02" width="28.25" height="10.28" fill="#484812"/>
<rect x="234.55" y="681.02" width="28.25" height="10.28" fill="#181806"/>
<rect x="262.00" y="681.02" width="28.25" height="10.28" fill="#d8d835"/>
<rect x="289.45" y="681.02" width="28.25" height="10.28" fill="#484812"/>
<rect x="316.90" y="681.02" width="28.25" height="10.28" fill="#656519"/>
<rect x="344.35" y="681.02" width="28.25" height="10.28" fill="#101004"/>
<rect x="371.80" y="681.02" width="28.25" height="10.28" fill="#848420"/>
<rect x="399.25" y="681.02" width="27.45" height="10.28" fill="#484812"/>
<rect x="97.30" y="690.50" width="28.25" height="10.28" fill="#181806"/>
<rect x="124.75" y="690.50" width="28.25" height="10.28" fill="#00001a"/>
<rect x="152.20" y="690.50" width="28.25" height="10.28" fill="#2f2f0c"/>
<rect x="179.65" y="690.50" width="28.25" height="10.28" fill="#dfdf37"/>
<rect x="207.10" y="690.50" width="28.25" height="10.28" fill="#101004"/>
<rect x="234.55" y="690.50" width="28.25" height="10.28" fill="#000015"/>
<rect x="262.00" y="690.50" width="28.25" height="10.28" fill="#39390e"/>
<rect x="289.45" y="690.50" width="28.25" height="10.28" fill="#dfdf37"/>
<rect x="316.90" y="690.50" width="28.25" height="10.28" fill="#39390e"/>
<rect x="344.35" y="690.50" width="28.25" height="10.28" fill="#27270a"/>
<rect x="371.80" y="690.50" width="28.25" height="10.28" fill="#484812"/>
<rect x="399.25" y="690.50" width="27.45" height="10.28" fill="#ffff37"/>
<rect x="97.30" y="699.98" width="28.25" height="10.28" fill="#656519"/>
<rect x="124.75" y="699.98" width="28.25" height="10.28" fill="#656519"/>
<rect x="152.20" y="699.98" width="28.25" height="10.28" fill="#101004"/>
<rect x="179.65" y="699.98" width="28.25" height="10.28" fill="#1f1f08"/>
<rect x="207.10" y="699.98" width="28.25" height="10.28" fill="#000083"/>
<rect x="234.55" y="699.98" width="28.25" height="10.28" fill="#000030"/>
<rect x="262.00" y="699.98" width="28.25" height="10.28" fill="#00004a"/>
<rect x="289.45" y="699.98" width="28.25" height="10.28" fill="#0000a4"/>
<rect x="316.90" y="699.98" width="28.25" height="10.28" fill="#00008a"/>
<rect x="344.35" y="699.98" width="28.25" height="10.28" fill="#000007"/>
<rect x="371.80" y="699.98" width="28.25" height="10.28" fill="#000007"/>
<rect x="399.25" y="699.98" width="27.45" height="10.28" fill="#000097"/>
<rect x="97.30" y="709.46" width="28.25" height="10.28" fill="#000022"/>
<rect x="124.75" y="709.46" width="28.25" height="10.28" fill="#000022"/>
<rect x="152.20" y="709.46" width="28.25" height="10.28" fill="#050501"/>
<rect x="179.65" y="709.46" width="28.25" height="10.28" fill="#000022"/>
<rect x="207.10" y="709.46" width="28.25" height="10.28" fill="#000076"/>
<rect x="234.55" y="709.46" width="28.25" height="10.28" fill="#000022"/>
<rect x="262.00" y="709.46" width="28.25" height="10.28" fill="#00003d"/>
<rect x="289.45" y="709.46" width="28.25" height="10.28" fill="#00009d"/>
<rect x="316.90" y="709.46" width="28.25" height="10.28" fill="#00003d"/>
<rect x="344.35" y="709.46" width="28.25" height="10.28" fill="#00003d"/>
<rect x="371.80" y="709.46" width="28.25" height="10.28" fill="#00004a"/>
<rect x="399.25" y="709.46" width="27.45" height="10.28" fill="#0000ab"/>
<rect x="97.30" y="718.94" width="28.25" height="9.48" fill="#ffff37"/>
<rect x="124.75" y="718.94" width="28.25" height="9.48" fill="#27270a"/>
<rect x="152.20" y="718.94" width="28.25" height="9.48" fill="#555515"/>
<rect x="179.65" y="718.94" width="28.25" height="9.48" fill="#000010"/>
<rect x="207.10" y="718.94" width="28.25" height="9.48" fill="#ffff37"/>
<rect x="234.55" y="718.94" width="28.25" height="9.48" fill="#181806"/>
<rect x="262.00" y="718.94" width="28.25" height="9.48" fill="#39390e"/>
<rect x="289.45" y="718.94" width="28.25" height="9.48" fill="#101004"/>
<rect x="316.90" y="718.94" width="28.25" height="9.48" fill="#ffff37"/>
<rect x="344.35" y="718.94" width="28.25" height="9.48" fill="#181806"/>
<rect x="371.80" y="718.94" width="28.25" height="9.48" fill="#39390e"/>
<rect x="399.25" y="718.94" width="27.45" height="9.48" fill="#000022"/>
<rect x="97.30" y="729.8" width="28.25" height="13.6" fill="#d4684f"/>
<rect x="124.75" y="729.8" width="28.25" height="13.6" fill="#e2c332"/>
<rect x="152.20" y="729.8" width="28.25" height="13.6" fill="#7191e6"/>
<rect x="179.65" y="729.8" width="28.25" height="13.6" fill="#88ebe8"/>
<rect x="207.10" y="729.8" width="28.25" height="13.6" fill="#d4684f"/>
<rect x="234.55" y="729.8" width="28.25" height="13.6" fill="#e2c332"/>
<rect x="262.00" y="729.8" width="28.25" height="13.6" fill="#7191e6"/>
<rect x="289.45" y="729.8" width="28.25" height="13.6" fill="#88ebe8"/>
<rect x="316.90" y="729.8" width="28.25" height="13.6" fill="#d4684f"/>
<rect x="344.35" y="729.8" width="28.25" height="13.6" fill="#e2c332"/>
<rect x="371.80" y="729.8" width="28.25" height="13.6" fill="#7191e6"/>
<rect x="399.25" y="729.8" width="27.45" height="13.6" fill="#88ebe8"/>
<text x="430.50" y="649.50" font-size="8.9" textLength="71.7" lengthAdjust="spacingAndGlyphs" fill="#111" stroke="#111" stroke-width="0.2">MAPK1 P181+187</text>
<text x="430.50" y="659.16" font-size="8.9" textLength="51.4" lengthAdjust="spacingAndGlyphs" fill="#111" stroke="#111" stroke-width="0.2">MAPK1 P187</text>
<text x="430.50" y="668.82" font-size="8.9" textLength="45.6" lengthAdjust="spacingAndGlyphs" fill="#111" stroke="#111" stroke-width="0.2">STMN1 P25</text>
<text x="430.50" y="678.48" font-size="8.9" textLength="63.3" lengthAdjust="spacingAndGlyphs" fill="#111" stroke="#111" stroke-width="0.2">MAP4 P927/928</text>
<text x="430.50" y="688.14" font-size="8.9" textLength="61.3" lengthAdjust="spacingAndGlyphs" fill="#111" stroke="#111" stroke-width="0.2">PAK2 P141/143</text>
<text x="430.50" y="697.80" font-size="8.9" textLength="45.6" lengthAdjust="spacingAndGlyphs" fill="#111" stroke="#111" stroke-width="0.2">FGD3 P128</text>
<text x="430.50" y="707.46" font-size="8.9" textLength="44.3" lengthAdjust="spacingAndGlyphs" fill="#111" stroke="#111" stroke-width="0.2">HSPB1 P15</text>
<text x="430.50" y="717.12" font-size="8.9" textLength="53.7" lengthAdjust="spacingAndGlyphs" fill="#111" stroke="#111" stroke-width="0.2">FKBP15 P956</text>
<text x="430.50" y="726.78" font-size="8.9" textLength="44.8" lengthAdjust="spacingAndGlyphs" fill="#111" stroke="#111" stroke-width="0.2">EDC4 P729</text>
<path d="M63.50,647.84H93.30M63.50,657.32H93.30M63.50,647.84V657.32M60.60,652.58H63.50M60.60,666.80H93.30M60.60,652.58V666.80M57.10,676.28H93.30M57.10,685.76H93.30M57.10,676.28V685.76M37.90,659.69H60.60M37.90,681.02H57.10M37.90,659.69V681.02M28.50,670.36H37.90M28.50,695.24H93.30M28.50,670.36V695.24M66.70,704.72H93.30M66.70,714.20H93.30M66.70,704.72V714.20M15.00,682.80H28.50M15.00,709.46H66.70M15.00,682.80V709.46M8.30,696.13H15.00M8.30,723.68H93.30M8.30,696.13V723.68" fill="none" stroke="#1a1a1a" stroke-width="1.2" stroke-linecap="square"/>
<line x1="97.6" y1="748.4" x2="97.6" y2="756.3" stroke="#1a1a1a" stroke-width="1.3"/>
<line x1="207.7" y1="748.4" x2="207.7" y2="756.3" stroke="#1a1a1a" stroke-width="1.3"/>
<line x1="316.8" y1="748.4" x2="316.8" y2="756.3" stroke="#1a1a1a" stroke-width="1.3"/>
<line x1="426.5" y1="748.4" x2="426.5" y2="756.3" stroke="#1a1a1a" stroke-width="1.3"/>
<text x="154.75" y="755.00" font-size="9.0" text-anchor="middle" textLength="27.6" lengthAdjust="spacingAndGlyphs" fill="#111" stroke="#111" stroke-width="0.2">10 min</text>
<text x="264.70" y="755.00" font-size="9.0" text-anchor="middle" textLength="27.6" lengthAdjust="spacingAndGlyphs" fill="#111" stroke="#111" stroke-width="0.2">30 min</text>
<text x="374.65" y="755.00" font-size="9.0" text-anchor="middle" textLength="27.6" lengthAdjust="spacingAndGlyphs" fill="#111" stroke="#111" stroke-width="0.2">60 min</text>
<rect x="135.8" y="767.6" width="5.6" height="4.9" fill="#ec6a4e" stroke="#111" stroke-width="1"/>
<text x="145.30" y="773.00" font-size="8.4" textLength="74.2" lengthAdjust="spacingAndGlyphs" fill="#111" stroke="#111" stroke-width="0.2">XT–ALL114 + FLT3L</text>
<rect x="135.8" y="781.5" width="5.6" height="4.9" fill="#f6dc20" stroke="#111" stroke-width="1"/>
<text x="145.30" y="786.90" font-size="8.4" textLength="87.4" lengthAdjust="spacingAndGlyphs" fill="#111" stroke="#111" stroke-width="0.2">XT–ALL109 + PDGF–BB</text>
<rect x="258.7" y="767.6" width="5.6" height="4.9" fill="#6c8ad8" stroke="#111" stroke-width="1"/>
<text x="268.20" y="773.00" font-size="8.4" textLength="82.8" lengthAdjust="spacingAndGlyphs" fill="#111" stroke="#111" stroke-width="0.2">XT–ALL22089 + FLT3L</text>
<rect x="258.7" y="781.5" width="5.6" height="4.9" fill="#58bab4" stroke="#111" stroke-width="1"/>
<text x="268.20" y="786.90" font-size="8.4" textLength="96.6" lengthAdjust="spacingAndGlyphs" fill="#111" stroke="#111" stroke-width="0.2">XT–ALL22089 + PDGF–BB</text>
<defs><linearGradient id="ck" x1="0" x2="1" y1="0" y2="0"><stop offset="0" stop-color="#1616ff"/><stop offset="0.12" stop-color="#1414fa"/><stop offset="0.27" stop-color="#0f0fe6"/><stop offset="0.386" stop-color="#080896"/><stop offset="0.47" stop-color="#000028"/><stop offset="0.505" stop-color="#000000"/><stop offset="0.54" stop-color="#28280a"/><stop offset="0.606" stop-color="#78781e"/><stop offset="0.714" stop-color="#c8c82d"/><stop offset="0.824" stop-color="#ebeb37"/><stop offset="1" stop-color="#fcfc3e"/></linearGradient></defs>
<rect x="8.8" y="758.3" width="70" height="20.6" fill="url(#ck)" stroke="#111" stroke-width="1"/>
<line x1="13" y1="779.4" x2="13" y2="783.2" stroke="#333" stroke-width="1.2"/>
<text x="13.25" y="795.10" font-size="8.9" text-anchor="middle" fill="#111" stroke="#111" stroke-width="0.2">−4</text>
<line x1="28.6" y1="779.4" x2="28.6" y2="783.2" stroke="#333" stroke-width="1.2"/>
<text x="28.65" y="795.10" font-size="8.9" text-anchor="middle" fill="#111" stroke="#111" stroke-width="0.2">−2</text>
<line x1="44.1" y1="779.4" x2="44.1" y2="783.2" stroke="#333" stroke-width="1.2"/>
<text x="44.05" y="795.10" font-size="8.9" text-anchor="middle" fill="#111" stroke="#111" stroke-width="0.2">0</text>
<line x1="59.7" y1="779.4" x2="59.7" y2="783.2" stroke="#333" stroke-width="1.2"/>
<text x="59.60" y="795.10" font-size="8.9" text-anchor="middle" fill="#111" stroke="#111" stroke-width="0.2">2</text>
<line x1="74.9" y1="779.4" x2="74.9" y2="783.2" stroke="#333" stroke-width="1.2"/>
<text x="74.85" y="795.10" font-size="8.9" text-anchor="middle" fill="#111" stroke="#111" stroke-width="0.2">4</text>
<text x="44.05" y="811.10" font-size="11.5" text-anchor="middle" textLength="31.0" lengthAdjust="spacingAndGlyphs" fill="#111" stroke="#111" stroke-width="0.2">log f.c.</text>
<text x="9.80" y="19.80" font-size="13.9" fill="#111" stroke="#111" stroke-width="0.2">A</text>
<text x="10.30" y="250.80" font-size="13.9" textLength="7.6" lengthAdjust="spacingAndGlyphs" fill="#111" stroke="#111" stroke-width="0.2">B</text>
<text x="10.10" y="634.40" font-size="13.9" textLength="8.6" lengthAdjust="spacingAndGlyphs" fill="#111" stroke="#111" stroke-width="0.2">C</text>
<rect x="0.75" y="0.75" width="518.5" height="820.5" fill="none" stroke="#111" stroke-width="1.5"/>
</svg></body></html>
